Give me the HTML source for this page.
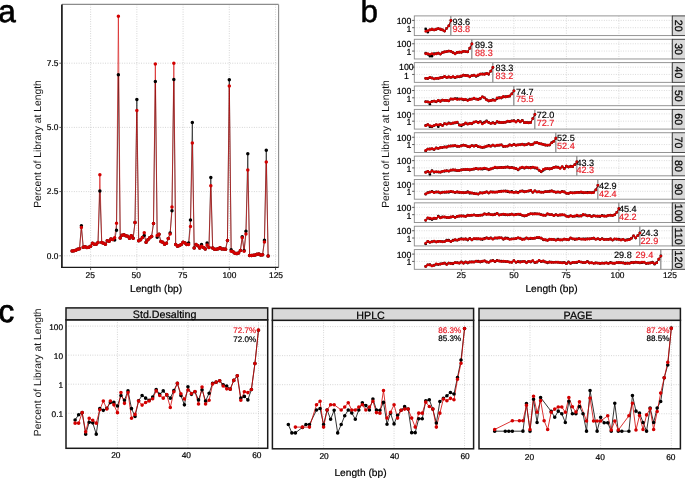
<!DOCTYPE html>
<html><head><meta charset="utf-8"><style>
html,body{margin:0;padding:0;background:#fff;width:685px;height:478px;overflow:hidden}
svg{display:block;font-family:"Liberation Sans", sans-serif;will-change:transform;text-rendering:geometricPrecision}
</style></head><body>
<svg width="685" height="478" viewBox="0 0 685 478">
<rect width="685" height="478" fill="#fff"/>
<line x1="90.62" y1="4.4" x2="90.62" y2="267.3" stroke="#bdbdbd" stroke-width="0.7" stroke-dasharray="0.9 1.5"/>
<line x1="136.85" y1="4.4" x2="136.85" y2="267.3" stroke="#bdbdbd" stroke-width="0.7" stroke-dasharray="0.9 1.5"/>
<line x1="183.08" y1="4.4" x2="183.08" y2="267.3" stroke="#bdbdbd" stroke-width="0.7" stroke-dasharray="0.9 1.5"/>
<line x1="229.3" y1="4.4" x2="229.3" y2="267.3" stroke="#bdbdbd" stroke-width="0.7" stroke-dasharray="0.9 1.5"/>
<line x1="275.52" y1="4.4" x2="275.52" y2="267.3" stroke="#bdbdbd" stroke-width="0.7" stroke-dasharray="0.9 1.5"/>
<line x1="61.9" y1="255.8" x2="278.6" y2="255.8" stroke="#bdbdbd" stroke-width="0.7" stroke-dasharray="0.9 1.5"/>
<line x1="61.9" y1="191.6" x2="278.6" y2="191.6" stroke="#bdbdbd" stroke-width="0.7" stroke-dasharray="0.9 1.5"/>
<line x1="61.9" y1="127.4" x2="278.6" y2="127.4" stroke="#bdbdbd" stroke-width="0.7" stroke-dasharray="0.9 1.5"/>
<line x1="61.9" y1="63.2" x2="278.6" y2="63.2" stroke="#bdbdbd" stroke-width="0.7" stroke-dasharray="0.9 1.5"/>
<line x1="61.9" y1="4.4" x2="278.6" y2="4.4" stroke="#8c8c8c" stroke-width="1.1"/>
<line x1="278.6" y1="4.4" x2="278.6" y2="267.3" stroke="#8c8c8c" stroke-width="1.1"/>
<polyline points="72.13,251.1 73.98,250.84 75.83,250.32 77.68,249.29 79.53,248.77 81.38,225.8 83.23,247.22 85.08,246.71 86.93,247.48 88.78,247.22 90.62,246.19 92.47,243.35 94.32,244.13 96.17,244.13 98.02,242.58 99.87,190.96 101.72,242.58 103.57,243.35 105.42,244.13 107.27,240.77 109.12,241.29 110.96,238.97 112.81,239.48 114.66,240 116.51,230.19 118.36,74.81 120.21,237.93 122.06,235.35 123.91,234.84 125.76,235.87 127.6,236.13 129.45,238.19 131.3,235.87 133.15,238.19 135,222.45 136.85,99.59 138.7,240.77 140.55,239.74 142.4,237.42 144.25,235.61 146.09,242.32 147.94,239.74 149.79,237.67 151.64,236.38 153.49,223.48 155.34,81.52 157.19,237.16 159.04,234.32 160.89,241.55 162.74,242.32 164.59,244.13 166.43,243.35 168.28,238.45 170.13,233.03 171.98,210.83 173.83,79.46 175.68,244.39 177.53,246.19 179.38,245.42 181.23,244.39 183.08,242.32 184.92,243.09 186.77,244.39 188.62,243.09 190.47,220.12 192.32,122.56 194.17,248 196.02,244.39 197.87,245.68 199.72,248 201.56,244.39 203.41,247.48 205.26,249.03 207.11,243.09 208.96,247.48 210.81,177.54 212.66,248 214.51,249.29 216.36,249.29 218.21,248.77 220.06,247.74 221.9,249.03 223.75,249.03 225.6,249.29 227.45,240.51 229.3,79.72 231.15,249.81 233,251.87 234.85,253.16 236.7,253.42 238.55,252.9 240.39,250.58 242.24,236.64 244.09,250.58 245.94,231.22 247.79,153.79 249.64,255.48 251.49,255.48 253.34,255.23 255.19,254.97 257.03,254.19 258.88,253.94 260.73,254.97 262.58,254.71 264.43,240.26 266.28,150.18 268.13,256" fill="none" stroke="#000000" stroke-width="0.6" stroke-linejoin="round"/>
<polyline points="72.13,251.1 73.98,250.84 75.83,250.32 77.68,249.29 79.53,248.77 81.38,227.61 83.23,247.22 85.08,246.71 86.93,247.48 88.78,247.22 90.62,246.19 92.47,243.35 94.32,244.13 96.17,244.13 98.02,242.58 99.87,174.7 101.72,242.58 103.57,243.35 105.42,244.13 107.27,240.77 109.12,241.29 110.96,238.97 112.81,239.48 114.66,237.67 116.51,223.22 118.36,16.23 120.21,237.93 122.06,235.35 123.91,234.84 125.76,235.87 127.6,236.13 129.45,238.19 131.3,235.87 133.15,238.19 135,222.45 136.85,110.43 138.7,240.77 140.55,239.74 142.4,237.42 144.25,232.77 146.09,242.32 147.94,239.74 149.79,237.67 151.64,236.38 153.49,223.48 155.34,63.97 157.19,235.61 159.04,234.32 160.89,241.55 162.74,242.32 164.59,244.13 166.43,243.35 168.28,238.45 170.13,234.06 171.98,206.96 173.83,63.2 175.68,244.39 177.53,246.19 179.38,245.42 181.23,244.39 183.08,242.32 184.92,243.09 186.77,244.39 188.62,244.39 190.47,226.58 192.32,142.95 194.17,248 196.02,244.39 197.87,245.68 199.72,248 201.56,246.19 203.41,247.48 205.26,249.03 207.11,244.9 208.96,247.48 210.81,185.8 212.66,248 214.51,249.29 216.36,249.29 218.21,248.77 220.06,247.74 221.9,249.03 223.75,249.03 225.6,249.29 227.45,240.51 229.3,85.91 231.15,251.35 233,251.87 234.85,253.16 236.7,253.42 238.55,252.9 240.39,250.58 242.24,237.67 244.09,251.35 245.94,234.06 247.79,170.05 249.64,255.48 251.49,255.48 253.34,255.23 255.19,254.97 257.03,254.19 258.88,253.94 260.73,254.97 262.58,254.71 264.43,242.06 266.28,162.05 268.13,256" fill="none" stroke="#d20000" stroke-width="0.6" stroke-linejoin="round"/>
<path d="M70.38 251.1a1.75 1.75 0 1 0 3.5 0a1.75 1.75 0 1 0 -3.5 0M72.23 250.84a1.75 1.75 0 1 0 3.5 0a1.75 1.75 0 1 0 -3.5 0M74.08 250.32a1.75 1.75 0 1 0 3.5 0a1.75 1.75 0 1 0 -3.5 0M75.93 249.29a1.75 1.75 0 1 0 3.5 0a1.75 1.75 0 1 0 -3.5 0M77.78 248.77a1.75 1.75 0 1 0 3.5 0a1.75 1.75 0 1 0 -3.5 0M79.63 225.8a1.75 1.75 0 1 0 3.5 0a1.75 1.75 0 1 0 -3.5 0M81.48 247.22a1.75 1.75 0 1 0 3.5 0a1.75 1.75 0 1 0 -3.5 0M83.33 246.71a1.75 1.75 0 1 0 3.5 0a1.75 1.75 0 1 0 -3.5 0M85.18 247.48a1.75 1.75 0 1 0 3.5 0a1.75 1.75 0 1 0 -3.5 0M87.03 247.22a1.75 1.75 0 1 0 3.5 0a1.75 1.75 0 1 0 -3.5 0M88.88 246.19a1.75 1.75 0 1 0 3.5 0a1.75 1.75 0 1 0 -3.5 0M90.72 243.35a1.75 1.75 0 1 0 3.5 0a1.75 1.75 0 1 0 -3.5 0M92.57 244.13a1.75 1.75 0 1 0 3.5 0a1.75 1.75 0 1 0 -3.5 0M94.42 244.13a1.75 1.75 0 1 0 3.5 0a1.75 1.75 0 1 0 -3.5 0M96.27 242.58a1.75 1.75 0 1 0 3.5 0a1.75 1.75 0 1 0 -3.5 0M98.12 190.96a1.75 1.75 0 1 0 3.5 0a1.75 1.75 0 1 0 -3.5 0M99.97 242.58a1.75 1.75 0 1 0 3.5 0a1.75 1.75 0 1 0 -3.5 0M101.82 243.35a1.75 1.75 0 1 0 3.5 0a1.75 1.75 0 1 0 -3.5 0M103.67 244.13a1.75 1.75 0 1 0 3.5 0a1.75 1.75 0 1 0 -3.5 0M105.52 240.77a1.75 1.75 0 1 0 3.5 0a1.75 1.75 0 1 0 -3.5 0M107.37 241.29a1.75 1.75 0 1 0 3.5 0a1.75 1.75 0 1 0 -3.5 0M109.21 238.97a1.75 1.75 0 1 0 3.5 0a1.75 1.75 0 1 0 -3.5 0M111.06 239.48a1.75 1.75 0 1 0 3.5 0a1.75 1.75 0 1 0 -3.5 0M112.91 240a1.75 1.75 0 1 0 3.5 0a1.75 1.75 0 1 0 -3.5 0M114.76 230.19a1.75 1.75 0 1 0 3.5 0a1.75 1.75 0 1 0 -3.5 0M116.61 74.81a1.75 1.75 0 1 0 3.5 0a1.75 1.75 0 1 0 -3.5 0M118.46 237.93a1.75 1.75 0 1 0 3.5 0a1.75 1.75 0 1 0 -3.5 0M120.31 235.35a1.75 1.75 0 1 0 3.5 0a1.75 1.75 0 1 0 -3.5 0M122.16 234.84a1.75 1.75 0 1 0 3.5 0a1.75 1.75 0 1 0 -3.5 0M124.01 235.87a1.75 1.75 0 1 0 3.5 0a1.75 1.75 0 1 0 -3.5 0M125.85 236.13a1.75 1.75 0 1 0 3.5 0a1.75 1.75 0 1 0 -3.5 0M127.7 238.19a1.75 1.75 0 1 0 3.5 0a1.75 1.75 0 1 0 -3.5 0M129.55 235.87a1.75 1.75 0 1 0 3.5 0a1.75 1.75 0 1 0 -3.5 0M131.4 238.19a1.75 1.75 0 1 0 3.5 0a1.75 1.75 0 1 0 -3.5 0M133.25 222.45a1.75 1.75 0 1 0 3.5 0a1.75 1.75 0 1 0 -3.5 0M135.1 99.59a1.75 1.75 0 1 0 3.5 0a1.75 1.75 0 1 0 -3.5 0M136.95 240.77a1.75 1.75 0 1 0 3.5 0a1.75 1.75 0 1 0 -3.5 0M138.8 239.74a1.75 1.75 0 1 0 3.5 0a1.75 1.75 0 1 0 -3.5 0M140.65 237.42a1.75 1.75 0 1 0 3.5 0a1.75 1.75 0 1 0 -3.5 0M142.5 235.61a1.75 1.75 0 1 0 3.5 0a1.75 1.75 0 1 0 -3.5 0M144.34 242.32a1.75 1.75 0 1 0 3.5 0a1.75 1.75 0 1 0 -3.5 0M146.19 239.74a1.75 1.75 0 1 0 3.5 0a1.75 1.75 0 1 0 -3.5 0M148.04 237.67a1.75 1.75 0 1 0 3.5 0a1.75 1.75 0 1 0 -3.5 0M149.89 236.38a1.75 1.75 0 1 0 3.5 0a1.75 1.75 0 1 0 -3.5 0M151.74 223.48a1.75 1.75 0 1 0 3.5 0a1.75 1.75 0 1 0 -3.5 0M153.59 81.52a1.75 1.75 0 1 0 3.5 0a1.75 1.75 0 1 0 -3.5 0M155.44 237.16a1.75 1.75 0 1 0 3.5 0a1.75 1.75 0 1 0 -3.5 0M157.29 234.32a1.75 1.75 0 1 0 3.5 0a1.75 1.75 0 1 0 -3.5 0M159.14 241.55a1.75 1.75 0 1 0 3.5 0a1.75 1.75 0 1 0 -3.5 0M160.99 242.32a1.75 1.75 0 1 0 3.5 0a1.75 1.75 0 1 0 -3.5 0M162.84 244.13a1.75 1.75 0 1 0 3.5 0a1.75 1.75 0 1 0 -3.5 0M164.68 243.35a1.75 1.75 0 1 0 3.5 0a1.75 1.75 0 1 0 -3.5 0M166.53 238.45a1.75 1.75 0 1 0 3.5 0a1.75 1.75 0 1 0 -3.5 0M168.38 233.03a1.75 1.75 0 1 0 3.5 0a1.75 1.75 0 1 0 -3.5 0M170.23 210.83a1.75 1.75 0 1 0 3.5 0a1.75 1.75 0 1 0 -3.5 0M172.08 79.46a1.75 1.75 0 1 0 3.5 0a1.75 1.75 0 1 0 -3.5 0M173.93 244.39a1.75 1.75 0 1 0 3.5 0a1.75 1.75 0 1 0 -3.5 0M175.78 246.19a1.75 1.75 0 1 0 3.5 0a1.75 1.75 0 1 0 -3.5 0M177.63 245.42a1.75 1.75 0 1 0 3.5 0a1.75 1.75 0 1 0 -3.5 0M179.48 244.39a1.75 1.75 0 1 0 3.5 0a1.75 1.75 0 1 0 -3.5 0M181.33 242.32a1.75 1.75 0 1 0 3.5 0a1.75 1.75 0 1 0 -3.5 0M183.17 243.09a1.75 1.75 0 1 0 3.5 0a1.75 1.75 0 1 0 -3.5 0M185.02 244.39a1.75 1.75 0 1 0 3.5 0a1.75 1.75 0 1 0 -3.5 0M186.87 243.09a1.75 1.75 0 1 0 3.5 0a1.75 1.75 0 1 0 -3.5 0M188.72 220.12a1.75 1.75 0 1 0 3.5 0a1.75 1.75 0 1 0 -3.5 0M190.57 122.56a1.75 1.75 0 1 0 3.5 0a1.75 1.75 0 1 0 -3.5 0M192.42 248a1.75 1.75 0 1 0 3.5 0a1.75 1.75 0 1 0 -3.5 0M194.27 244.39a1.75 1.75 0 1 0 3.5 0a1.75 1.75 0 1 0 -3.5 0M196.12 245.68a1.75 1.75 0 1 0 3.5 0a1.75 1.75 0 1 0 -3.5 0M197.97 248a1.75 1.75 0 1 0 3.5 0a1.75 1.75 0 1 0 -3.5 0M199.81 244.39a1.75 1.75 0 1 0 3.5 0a1.75 1.75 0 1 0 -3.5 0M201.66 247.48a1.75 1.75 0 1 0 3.5 0a1.75 1.75 0 1 0 -3.5 0M203.51 249.03a1.75 1.75 0 1 0 3.5 0a1.75 1.75 0 1 0 -3.5 0M205.36 243.09a1.75 1.75 0 1 0 3.5 0a1.75 1.75 0 1 0 -3.5 0M207.21 247.48a1.75 1.75 0 1 0 3.5 0a1.75 1.75 0 1 0 -3.5 0M209.06 177.54a1.75 1.75 0 1 0 3.5 0a1.75 1.75 0 1 0 -3.5 0M210.91 248a1.75 1.75 0 1 0 3.5 0a1.75 1.75 0 1 0 -3.5 0M212.76 249.29a1.75 1.75 0 1 0 3.5 0a1.75 1.75 0 1 0 -3.5 0M214.61 249.29a1.75 1.75 0 1 0 3.5 0a1.75 1.75 0 1 0 -3.5 0M216.46 248.77a1.75 1.75 0 1 0 3.5 0a1.75 1.75 0 1 0 -3.5 0M218.31 247.74a1.75 1.75 0 1 0 3.5 0a1.75 1.75 0 1 0 -3.5 0M220.15 249.03a1.75 1.75 0 1 0 3.5 0a1.75 1.75 0 1 0 -3.5 0M222 249.03a1.75 1.75 0 1 0 3.5 0a1.75 1.75 0 1 0 -3.5 0M223.85 249.29a1.75 1.75 0 1 0 3.5 0a1.75 1.75 0 1 0 -3.5 0M225.7 240.51a1.75 1.75 0 1 0 3.5 0a1.75 1.75 0 1 0 -3.5 0M227.55 79.72a1.75 1.75 0 1 0 3.5 0a1.75 1.75 0 1 0 -3.5 0M229.4 249.81a1.75 1.75 0 1 0 3.5 0a1.75 1.75 0 1 0 -3.5 0M231.25 251.87a1.75 1.75 0 1 0 3.5 0a1.75 1.75 0 1 0 -3.5 0M233.1 253.16a1.75 1.75 0 1 0 3.5 0a1.75 1.75 0 1 0 -3.5 0M234.95 253.42a1.75 1.75 0 1 0 3.5 0a1.75 1.75 0 1 0 -3.5 0M236.8 252.9a1.75 1.75 0 1 0 3.5 0a1.75 1.75 0 1 0 -3.5 0M238.64 250.58a1.75 1.75 0 1 0 3.5 0a1.75 1.75 0 1 0 -3.5 0M240.49 236.64a1.75 1.75 0 1 0 3.5 0a1.75 1.75 0 1 0 -3.5 0M242.34 250.58a1.75 1.75 0 1 0 3.5 0a1.75 1.75 0 1 0 -3.5 0M244.19 231.22a1.75 1.75 0 1 0 3.5 0a1.75 1.75 0 1 0 -3.5 0M246.04 153.79a1.75 1.75 0 1 0 3.5 0a1.75 1.75 0 1 0 -3.5 0M247.89 255.48a1.75 1.75 0 1 0 3.5 0a1.75 1.75 0 1 0 -3.5 0M249.74 255.48a1.75 1.75 0 1 0 3.5 0a1.75 1.75 0 1 0 -3.5 0M251.59 255.23a1.75 1.75 0 1 0 3.5 0a1.75 1.75 0 1 0 -3.5 0M253.44 254.97a1.75 1.75 0 1 0 3.5 0a1.75 1.75 0 1 0 -3.5 0M255.28 254.19a1.75 1.75 0 1 0 3.5 0a1.75 1.75 0 1 0 -3.5 0M257.13 253.94a1.75 1.75 0 1 0 3.5 0a1.75 1.75 0 1 0 -3.5 0M258.98 254.97a1.75 1.75 0 1 0 3.5 0a1.75 1.75 0 1 0 -3.5 0M260.83 254.71a1.75 1.75 0 1 0 3.5 0a1.75 1.75 0 1 0 -3.5 0M262.68 240.26a1.75 1.75 0 1 0 3.5 0a1.75 1.75 0 1 0 -3.5 0M264.53 150.18a1.75 1.75 0 1 0 3.5 0a1.75 1.75 0 1 0 -3.5 0M266.38 256a1.75 1.75 0 1 0 3.5 0a1.75 1.75 0 1 0 -3.5 0" fill="#000000"/>
<path d="M70.38 251.1a1.75 1.75 0 1 0 3.5 0a1.75 1.75 0 1 0 -3.5 0M72.23 250.84a1.75 1.75 0 1 0 3.5 0a1.75 1.75 0 1 0 -3.5 0M74.08 250.32a1.75 1.75 0 1 0 3.5 0a1.75 1.75 0 1 0 -3.5 0M75.93 249.29a1.75 1.75 0 1 0 3.5 0a1.75 1.75 0 1 0 -3.5 0M77.78 248.77a1.75 1.75 0 1 0 3.5 0a1.75 1.75 0 1 0 -3.5 0M79.63 227.61a1.75 1.75 0 1 0 3.5 0a1.75 1.75 0 1 0 -3.5 0M81.48 247.22a1.75 1.75 0 1 0 3.5 0a1.75 1.75 0 1 0 -3.5 0M83.33 246.71a1.75 1.75 0 1 0 3.5 0a1.75 1.75 0 1 0 -3.5 0M85.18 247.48a1.75 1.75 0 1 0 3.5 0a1.75 1.75 0 1 0 -3.5 0M87.03 247.22a1.75 1.75 0 1 0 3.5 0a1.75 1.75 0 1 0 -3.5 0M88.88 246.19a1.75 1.75 0 1 0 3.5 0a1.75 1.75 0 1 0 -3.5 0M90.72 243.35a1.75 1.75 0 1 0 3.5 0a1.75 1.75 0 1 0 -3.5 0M92.57 244.13a1.75 1.75 0 1 0 3.5 0a1.75 1.75 0 1 0 -3.5 0M94.42 244.13a1.75 1.75 0 1 0 3.5 0a1.75 1.75 0 1 0 -3.5 0M96.27 242.58a1.75 1.75 0 1 0 3.5 0a1.75 1.75 0 1 0 -3.5 0M98.12 174.7a1.75 1.75 0 1 0 3.5 0a1.75 1.75 0 1 0 -3.5 0M99.97 242.58a1.75 1.75 0 1 0 3.5 0a1.75 1.75 0 1 0 -3.5 0M101.82 243.35a1.75 1.75 0 1 0 3.5 0a1.75 1.75 0 1 0 -3.5 0M103.67 244.13a1.75 1.75 0 1 0 3.5 0a1.75 1.75 0 1 0 -3.5 0M105.52 240.77a1.75 1.75 0 1 0 3.5 0a1.75 1.75 0 1 0 -3.5 0M107.37 241.29a1.75 1.75 0 1 0 3.5 0a1.75 1.75 0 1 0 -3.5 0M109.21 238.97a1.75 1.75 0 1 0 3.5 0a1.75 1.75 0 1 0 -3.5 0M111.06 239.48a1.75 1.75 0 1 0 3.5 0a1.75 1.75 0 1 0 -3.5 0M112.91 237.67a1.75 1.75 0 1 0 3.5 0a1.75 1.75 0 1 0 -3.5 0M114.76 223.22a1.75 1.75 0 1 0 3.5 0a1.75 1.75 0 1 0 -3.5 0M116.61 16.23a1.75 1.75 0 1 0 3.5 0a1.75 1.75 0 1 0 -3.5 0M118.46 237.93a1.75 1.75 0 1 0 3.5 0a1.75 1.75 0 1 0 -3.5 0M120.31 235.35a1.75 1.75 0 1 0 3.5 0a1.75 1.75 0 1 0 -3.5 0M122.16 234.84a1.75 1.75 0 1 0 3.5 0a1.75 1.75 0 1 0 -3.5 0M124.01 235.87a1.75 1.75 0 1 0 3.5 0a1.75 1.75 0 1 0 -3.5 0M125.85 236.13a1.75 1.75 0 1 0 3.5 0a1.75 1.75 0 1 0 -3.5 0M127.7 238.19a1.75 1.75 0 1 0 3.5 0a1.75 1.75 0 1 0 -3.5 0M129.55 235.87a1.75 1.75 0 1 0 3.5 0a1.75 1.75 0 1 0 -3.5 0M131.4 238.19a1.75 1.75 0 1 0 3.5 0a1.75 1.75 0 1 0 -3.5 0M133.25 222.45a1.75 1.75 0 1 0 3.5 0a1.75 1.75 0 1 0 -3.5 0M135.1 110.43a1.75 1.75 0 1 0 3.5 0a1.75 1.75 0 1 0 -3.5 0M136.95 240.77a1.75 1.75 0 1 0 3.5 0a1.75 1.75 0 1 0 -3.5 0M138.8 239.74a1.75 1.75 0 1 0 3.5 0a1.75 1.75 0 1 0 -3.5 0M140.65 237.42a1.75 1.75 0 1 0 3.5 0a1.75 1.75 0 1 0 -3.5 0M142.5 232.77a1.75 1.75 0 1 0 3.5 0a1.75 1.75 0 1 0 -3.5 0M144.34 242.32a1.75 1.75 0 1 0 3.5 0a1.75 1.75 0 1 0 -3.5 0M146.19 239.74a1.75 1.75 0 1 0 3.5 0a1.75 1.75 0 1 0 -3.5 0M148.04 237.67a1.75 1.75 0 1 0 3.5 0a1.75 1.75 0 1 0 -3.5 0M149.89 236.38a1.75 1.75 0 1 0 3.5 0a1.75 1.75 0 1 0 -3.5 0M151.74 223.48a1.75 1.75 0 1 0 3.5 0a1.75 1.75 0 1 0 -3.5 0M153.59 63.97a1.75 1.75 0 1 0 3.5 0a1.75 1.75 0 1 0 -3.5 0M155.44 235.61a1.75 1.75 0 1 0 3.5 0a1.75 1.75 0 1 0 -3.5 0M157.29 234.32a1.75 1.75 0 1 0 3.5 0a1.75 1.75 0 1 0 -3.5 0M159.14 241.55a1.75 1.75 0 1 0 3.5 0a1.75 1.75 0 1 0 -3.5 0M160.99 242.32a1.75 1.75 0 1 0 3.5 0a1.75 1.75 0 1 0 -3.5 0M162.84 244.13a1.75 1.75 0 1 0 3.5 0a1.75 1.75 0 1 0 -3.5 0M164.68 243.35a1.75 1.75 0 1 0 3.5 0a1.75 1.75 0 1 0 -3.5 0M166.53 238.45a1.75 1.75 0 1 0 3.5 0a1.75 1.75 0 1 0 -3.5 0M168.38 234.06a1.75 1.75 0 1 0 3.5 0a1.75 1.75 0 1 0 -3.5 0M170.23 206.96a1.75 1.75 0 1 0 3.5 0a1.75 1.75 0 1 0 -3.5 0M172.08 63.2a1.75 1.75 0 1 0 3.5 0a1.75 1.75 0 1 0 -3.5 0M173.93 244.39a1.75 1.75 0 1 0 3.5 0a1.75 1.75 0 1 0 -3.5 0M175.78 246.19a1.75 1.75 0 1 0 3.5 0a1.75 1.75 0 1 0 -3.5 0M177.63 245.42a1.75 1.75 0 1 0 3.5 0a1.75 1.75 0 1 0 -3.5 0M179.48 244.39a1.75 1.75 0 1 0 3.5 0a1.75 1.75 0 1 0 -3.5 0M181.33 242.32a1.75 1.75 0 1 0 3.5 0a1.75 1.75 0 1 0 -3.5 0M183.17 243.09a1.75 1.75 0 1 0 3.5 0a1.75 1.75 0 1 0 -3.5 0M185.02 244.39a1.75 1.75 0 1 0 3.5 0a1.75 1.75 0 1 0 -3.5 0M186.87 244.39a1.75 1.75 0 1 0 3.5 0a1.75 1.75 0 1 0 -3.5 0M188.72 226.58a1.75 1.75 0 1 0 3.5 0a1.75 1.75 0 1 0 -3.5 0M190.57 142.95a1.75 1.75 0 1 0 3.5 0a1.75 1.75 0 1 0 -3.5 0M192.42 248a1.75 1.75 0 1 0 3.5 0a1.75 1.75 0 1 0 -3.5 0M194.27 244.39a1.75 1.75 0 1 0 3.5 0a1.75 1.75 0 1 0 -3.5 0M196.12 245.68a1.75 1.75 0 1 0 3.5 0a1.75 1.75 0 1 0 -3.5 0M197.97 248a1.75 1.75 0 1 0 3.5 0a1.75 1.75 0 1 0 -3.5 0M199.81 246.19a1.75 1.75 0 1 0 3.5 0a1.75 1.75 0 1 0 -3.5 0M201.66 247.48a1.75 1.75 0 1 0 3.5 0a1.75 1.75 0 1 0 -3.5 0M203.51 249.03a1.75 1.75 0 1 0 3.5 0a1.75 1.75 0 1 0 -3.5 0M205.36 244.9a1.75 1.75 0 1 0 3.5 0a1.75 1.75 0 1 0 -3.5 0M207.21 247.48a1.75 1.75 0 1 0 3.5 0a1.75 1.75 0 1 0 -3.5 0M209.06 185.8a1.75 1.75 0 1 0 3.5 0a1.75 1.75 0 1 0 -3.5 0M210.91 248a1.75 1.75 0 1 0 3.5 0a1.75 1.75 0 1 0 -3.5 0M212.76 249.29a1.75 1.75 0 1 0 3.5 0a1.75 1.75 0 1 0 -3.5 0M214.61 249.29a1.75 1.75 0 1 0 3.5 0a1.75 1.75 0 1 0 -3.5 0M216.46 248.77a1.75 1.75 0 1 0 3.5 0a1.75 1.75 0 1 0 -3.5 0M218.31 247.74a1.75 1.75 0 1 0 3.5 0a1.75 1.75 0 1 0 -3.5 0M220.15 249.03a1.75 1.75 0 1 0 3.5 0a1.75 1.75 0 1 0 -3.5 0M222 249.03a1.75 1.75 0 1 0 3.5 0a1.75 1.75 0 1 0 -3.5 0M223.85 249.29a1.75 1.75 0 1 0 3.5 0a1.75 1.75 0 1 0 -3.5 0M225.7 240.51a1.75 1.75 0 1 0 3.5 0a1.75 1.75 0 1 0 -3.5 0M227.55 85.91a1.75 1.75 0 1 0 3.5 0a1.75 1.75 0 1 0 -3.5 0M229.4 251.35a1.75 1.75 0 1 0 3.5 0a1.75 1.75 0 1 0 -3.5 0M231.25 251.87a1.75 1.75 0 1 0 3.5 0a1.75 1.75 0 1 0 -3.5 0M233.1 253.16a1.75 1.75 0 1 0 3.5 0a1.75 1.75 0 1 0 -3.5 0M234.95 253.42a1.75 1.75 0 1 0 3.5 0a1.75 1.75 0 1 0 -3.5 0M236.8 252.9a1.75 1.75 0 1 0 3.5 0a1.75 1.75 0 1 0 -3.5 0M238.64 250.58a1.75 1.75 0 1 0 3.5 0a1.75 1.75 0 1 0 -3.5 0M240.49 237.67a1.75 1.75 0 1 0 3.5 0a1.75 1.75 0 1 0 -3.5 0M242.34 251.35a1.75 1.75 0 1 0 3.5 0a1.75 1.75 0 1 0 -3.5 0M244.19 234.06a1.75 1.75 0 1 0 3.5 0a1.75 1.75 0 1 0 -3.5 0M246.04 170.05a1.75 1.75 0 1 0 3.5 0a1.75 1.75 0 1 0 -3.5 0M247.89 255.48a1.75 1.75 0 1 0 3.5 0a1.75 1.75 0 1 0 -3.5 0M249.74 255.48a1.75 1.75 0 1 0 3.5 0a1.75 1.75 0 1 0 -3.5 0M251.59 255.23a1.75 1.75 0 1 0 3.5 0a1.75 1.75 0 1 0 -3.5 0M253.44 254.97a1.75 1.75 0 1 0 3.5 0a1.75 1.75 0 1 0 -3.5 0M255.28 254.19a1.75 1.75 0 1 0 3.5 0a1.75 1.75 0 1 0 -3.5 0M257.13 253.94a1.75 1.75 0 1 0 3.5 0a1.75 1.75 0 1 0 -3.5 0M258.98 254.97a1.75 1.75 0 1 0 3.5 0a1.75 1.75 0 1 0 -3.5 0M260.83 254.71a1.75 1.75 0 1 0 3.5 0a1.75 1.75 0 1 0 -3.5 0M262.68 242.06a1.75 1.75 0 1 0 3.5 0a1.75 1.75 0 1 0 -3.5 0M264.53 162.05a1.75 1.75 0 1 0 3.5 0a1.75 1.75 0 1 0 -3.5 0M266.38 256a1.75 1.75 0 1 0 3.5 0a1.75 1.75 0 1 0 -3.5 0" fill="#d20000"/>
<line x1="61.9" y1="4.4" x2="61.9" y2="268" stroke="#1a1a1a" stroke-width="1.7"/>
<line x1="61.1" y1="267.3" x2="278.6" y2="267.3" stroke="#1a1a1a" stroke-width="1.3"/>
<line x1="59.3" y1="255.8" x2="61.9" y2="255.8" stroke="#333" stroke-width="0.8"/>
<text x="58.4" y="258.6" font-size="8.4" text-anchor="end" fill="#000" stroke="#000" stroke-width="0.2">0.0</text>
<line x1="59.3" y1="191.6" x2="61.9" y2="191.6" stroke="#333" stroke-width="0.8"/>
<text x="58.4" y="194.4" font-size="8.4" text-anchor="end" fill="#000" stroke="#000" stroke-width="0.2">2.5</text>
<line x1="59.3" y1="127.4" x2="61.9" y2="127.4" stroke="#333" stroke-width="0.8"/>
<text x="58.4" y="130.2" font-size="8.4" text-anchor="end" fill="#000" stroke="#000" stroke-width="0.2">5.0</text>
<line x1="59.3" y1="63.2" x2="61.9" y2="63.2" stroke="#333" stroke-width="0.8"/>
<text x="58.4" y="66" font-size="8.4" text-anchor="end" fill="#000" stroke="#000" stroke-width="0.2">7.5</text>
<line x1="90.62" y1="267.3" x2="90.62" y2="270.1" stroke="#333" stroke-width="0.8"/>
<text x="90.22" y="278.3" font-size="8.4" text-anchor="middle" fill="#000" stroke="#000" stroke-width="0.2">25</text>
<line x1="136.85" y1="267.3" x2="136.85" y2="270.1" stroke="#333" stroke-width="0.8"/>
<text x="136.25" y="278.3" font-size="8.4" text-anchor="middle" fill="#000" stroke="#000" stroke-width="0.2">50</text>
<line x1="183.08" y1="267.3" x2="183.08" y2="270.1" stroke="#333" stroke-width="0.8"/>
<text x="182.78" y="278.3" font-size="8.4" text-anchor="middle" fill="#000" stroke="#000" stroke-width="0.2">75</text>
<line x1="229.3" y1="267.3" x2="229.3" y2="270.1" stroke="#333" stroke-width="0.8"/>
<text x="229.4" y="278.3" font-size="8.4" text-anchor="middle" fill="#000" stroke="#000" stroke-width="0.2">100</text>
<line x1="275.52" y1="267.3" x2="275.52" y2="270.1" stroke="#333" stroke-width="0.8"/>
<text x="276.02" y="278.3" font-size="8.4" text-anchor="middle" fill="#000" stroke="#000" stroke-width="0.2">125</text>
<text x="156.1" y="291.8" font-size="10.2" text-anchor="middle" fill="#000" stroke="#000" stroke-width="0.2">Length (bp)</text>
<text transform="translate(40.9 144.0) rotate(-90)" font-size="10.35" text-anchor="middle" fill="#111">Percent of Library at Length</text>
<line x1="414.3" y1="20.4" x2="672.3" y2="20.4" stroke="#bdbdbd" stroke-width="0.6" stroke-dasharray="0.9 1.5"/>
<line x1="414.3" y1="27.7" x2="672.3" y2="27.7" stroke="#bdbdbd" stroke-width="0.6" stroke-dasharray="0.9 1.5"/>
<line x1="461.4" y1="15.9" x2="461.4" y2="35.6" stroke="#bdbdbd" stroke-width="0.6" stroke-dasharray="0.9 1.5"/>
<line x1="513.9" y1="15.9" x2="513.9" y2="35.6" stroke="#bdbdbd" stroke-width="0.6" stroke-dasharray="0.9 1.5"/>
<line x1="566.4" y1="15.9" x2="566.4" y2="35.6" stroke="#bdbdbd" stroke-width="0.6" stroke-dasharray="0.9 1.5"/>
<line x1="618.9" y1="15.9" x2="618.9" y2="35.6" stroke="#bdbdbd" stroke-width="0.6" stroke-dasharray="0.9 1.5"/>
<line x1="450.8" y1="15.9" x2="450.8" y2="35.6" stroke="#8f8f8f" stroke-width="1.3"/>
<polyline points="425.7,28.9 427.8,32.19 429.9,29.89 432,29.27 434.1,29.89 436.2,29.27 438.3,28.54 440.4,29.27 442.5,29.89 444.6,31.09 446.7,28.32 448.8,25.88 450.9,20.5" fill="none" stroke="#000000" stroke-width="0.9" stroke-linejoin="round"/>
<polyline points="425.7,31.35 427.8,30.73 429.9,29.89 432,29.27 434.1,29.89 436.2,29.27 438.3,28.54 440.4,29.27 442.5,29.89 444.6,31.09 446.7,28.32 448.8,25.88 450.9,20.5" fill="none" stroke="#d20000" stroke-width="0.9" stroke-linejoin="round"/>
<path d="M424.3 28.9a1.4 1.4 0 1 0 2.8 0a1.4 1.4 0 1 0 -2.8 0M426.4 32.19a1.4 1.4 0 1 0 2.8 0a1.4 1.4 0 1 0 -2.8 0M428.5 29.89a1.4 1.4 0 1 0 2.8 0a1.4 1.4 0 1 0 -2.8 0M430.6 29.27a1.4 1.4 0 1 0 2.8 0a1.4 1.4 0 1 0 -2.8 0M432.7 29.89a1.4 1.4 0 1 0 2.8 0a1.4 1.4 0 1 0 -2.8 0M434.8 29.27a1.4 1.4 0 1 0 2.8 0a1.4 1.4 0 1 0 -2.8 0M436.9 28.54a1.4 1.4 0 1 0 2.8 0a1.4 1.4 0 1 0 -2.8 0M439 29.27a1.4 1.4 0 1 0 2.8 0a1.4 1.4 0 1 0 -2.8 0M441.1 29.89a1.4 1.4 0 1 0 2.8 0a1.4 1.4 0 1 0 -2.8 0M443.2 31.09a1.4 1.4 0 1 0 2.8 0a1.4 1.4 0 1 0 -2.8 0M445.3 28.32a1.4 1.4 0 1 0 2.8 0a1.4 1.4 0 1 0 -2.8 0M447.4 25.88a1.4 1.4 0 1 0 2.8 0a1.4 1.4 0 1 0 -2.8 0M449.5 20.5a1.4 1.4 0 1 0 2.8 0a1.4 1.4 0 1 0 -2.8 0" fill="#000000"/>
<path d="M424.3 31.35a1.4 1.4 0 1 0 2.8 0a1.4 1.4 0 1 0 -2.8 0M426.4 30.73a1.4 1.4 0 1 0 2.8 0a1.4 1.4 0 1 0 -2.8 0M428.5 29.89a1.4 1.4 0 1 0 2.8 0a1.4 1.4 0 1 0 -2.8 0M430.6 29.27a1.4 1.4 0 1 0 2.8 0a1.4 1.4 0 1 0 -2.8 0M432.7 29.89a1.4 1.4 0 1 0 2.8 0a1.4 1.4 0 1 0 -2.8 0M434.8 29.27a1.4 1.4 0 1 0 2.8 0a1.4 1.4 0 1 0 -2.8 0M436.9 28.54a1.4 1.4 0 1 0 2.8 0a1.4 1.4 0 1 0 -2.8 0M439 29.27a1.4 1.4 0 1 0 2.8 0a1.4 1.4 0 1 0 -2.8 0M441.1 29.89a1.4 1.4 0 1 0 2.8 0a1.4 1.4 0 1 0 -2.8 0M443.2 31.09a1.4 1.4 0 1 0 2.8 0a1.4 1.4 0 1 0 -2.8 0M445.3 28.32a1.4 1.4 0 1 0 2.8 0a1.4 1.4 0 1 0 -2.8 0M447.4 25.88a1.4 1.4 0 1 0 2.8 0a1.4 1.4 0 1 0 -2.8 0M449.5 20.5a1.4 1.4 0 1 0 2.8 0a1.4 1.4 0 1 0 -2.8 0" fill="#d20000"/>
<text x="452.4" y="24.5" font-size="9.1" text-anchor="start" fill="#000" stroke="#000" stroke-width="0.18">93.6</text>
<text x="452.4" y="32" font-size="9.1" text-anchor="start" fill="#e8202a" stroke="#e8202a" stroke-width="0.18">93.8</text>
<rect x="414.3" y="15.9" width="258" height="19.7" fill="none" stroke="#8a8a8a" stroke-width="0.9"/>
<rect x="672.3" y="15.9" width="13.7" height="19.7" fill="#d9d9d9" stroke="#333" stroke-width="0.9"/>
<text transform="translate(674.9 25.75) rotate(90)" font-size="10.6" text-anchor="middle" fill="#000" stroke="#000" stroke-width="0.25">20</text>
<line x1="412.1" y1="20.4" x2="414.3" y2="20.4" stroke="#333" stroke-width="0.8"/>
<text x="411.4" y="24.1" font-size="8.8" text-anchor="end" fill="#000" stroke="#000" stroke-width="0.2">100</text>
<line x1="412.1" y1="27.7" x2="414.3" y2="27.7" stroke="#333" stroke-width="0.8"/>
<text x="411.4" y="31.6" font-size="8.8" text-anchor="end" fill="#000" stroke="#000" stroke-width="0.2">1</text>
<line x1="414.3" y1="43.77" x2="672.3" y2="43.77" stroke="#bdbdbd" stroke-width="0.6" stroke-dasharray="0.9 1.5"/>
<line x1="414.3" y1="51.07" x2="672.3" y2="51.07" stroke="#bdbdbd" stroke-width="0.6" stroke-dasharray="0.9 1.5"/>
<line x1="461.4" y1="39.27" x2="461.4" y2="58.97" stroke="#bdbdbd" stroke-width="0.6" stroke-dasharray="0.9 1.5"/>
<line x1="513.9" y1="39.27" x2="513.9" y2="58.97" stroke="#bdbdbd" stroke-width="0.6" stroke-dasharray="0.9 1.5"/>
<line x1="566.4" y1="39.27" x2="566.4" y2="58.97" stroke="#bdbdbd" stroke-width="0.6" stroke-dasharray="0.9 1.5"/>
<line x1="618.9" y1="39.27" x2="618.9" y2="58.97" stroke="#bdbdbd" stroke-width="0.6" stroke-dasharray="0.9 1.5"/>
<line x1="471.8" y1="39.27" x2="471.8" y2="58.97" stroke="#8f8f8f" stroke-width="1.3"/>
<polyline points="425.7,53.15 427.8,54.36 429.9,56.18 432,56.18 434.1,53.73 436.2,53.73 438.3,53.15 440.4,54.1 442.5,52.53 444.6,51.91 446.7,51.54 448.8,51.07 450.9,51.33 453,52.53 455.1,53.73 457.2,52.53 459.3,52.27 461.4,52.27 463.5,51.33 465.6,51.54 467.7,51.8 469.8,48.26 471.9,43.95" fill="none" stroke="#000000" stroke-width="0.9" stroke-linejoin="round"/>
<polyline points="425.7,53.73 427.8,53.73 429.9,54.36 432,53.73 434.1,54.36 436.2,53.73 438.3,53.15 440.4,54.1 442.5,52.53 444.6,51.91 446.7,51.54 448.8,51.07 450.9,51.33 453,52.53 455.1,53.73 457.2,52.53 459.3,52.27 461.4,52.27 463.5,51.33 465.6,51.54 467.7,51.8 469.8,48.26 471.9,43.97" fill="none" stroke="#d20000" stroke-width="0.9" stroke-linejoin="round"/>
<path d="M424.3 53.15a1.4 1.4 0 1 0 2.8 0a1.4 1.4 0 1 0 -2.8 0M426.4 54.36a1.4 1.4 0 1 0 2.8 0a1.4 1.4 0 1 0 -2.8 0M428.5 56.18a1.4 1.4 0 1 0 2.8 0a1.4 1.4 0 1 0 -2.8 0M430.6 56.18a1.4 1.4 0 1 0 2.8 0a1.4 1.4 0 1 0 -2.8 0M432.7 53.73a1.4 1.4 0 1 0 2.8 0a1.4 1.4 0 1 0 -2.8 0M434.8 53.73a1.4 1.4 0 1 0 2.8 0a1.4 1.4 0 1 0 -2.8 0M436.9 53.15a1.4 1.4 0 1 0 2.8 0a1.4 1.4 0 1 0 -2.8 0M439 54.1a1.4 1.4 0 1 0 2.8 0a1.4 1.4 0 1 0 -2.8 0M441.1 52.53a1.4 1.4 0 1 0 2.8 0a1.4 1.4 0 1 0 -2.8 0M443.2 51.91a1.4 1.4 0 1 0 2.8 0a1.4 1.4 0 1 0 -2.8 0M445.3 51.54a1.4 1.4 0 1 0 2.8 0a1.4 1.4 0 1 0 -2.8 0M447.4 51.07a1.4 1.4 0 1 0 2.8 0a1.4 1.4 0 1 0 -2.8 0M449.5 51.33a1.4 1.4 0 1 0 2.8 0a1.4 1.4 0 1 0 -2.8 0M451.6 52.53a1.4 1.4 0 1 0 2.8 0a1.4 1.4 0 1 0 -2.8 0M453.7 53.73a1.4 1.4 0 1 0 2.8 0a1.4 1.4 0 1 0 -2.8 0M455.8 52.53a1.4 1.4 0 1 0 2.8 0a1.4 1.4 0 1 0 -2.8 0M457.9 52.27a1.4 1.4 0 1 0 2.8 0a1.4 1.4 0 1 0 -2.8 0M460 52.27a1.4 1.4 0 1 0 2.8 0a1.4 1.4 0 1 0 -2.8 0M462.1 51.33a1.4 1.4 0 1 0 2.8 0a1.4 1.4 0 1 0 -2.8 0M464.2 51.54a1.4 1.4 0 1 0 2.8 0a1.4 1.4 0 1 0 -2.8 0M466.3 51.8a1.4 1.4 0 1 0 2.8 0a1.4 1.4 0 1 0 -2.8 0M468.4 48.26a1.4 1.4 0 1 0 2.8 0a1.4 1.4 0 1 0 -2.8 0M470.5 43.95a1.4 1.4 0 1 0 2.8 0a1.4 1.4 0 1 0 -2.8 0" fill="#000000"/>
<path d="M424.3 53.73a1.4 1.4 0 1 0 2.8 0a1.4 1.4 0 1 0 -2.8 0M426.4 53.73a1.4 1.4 0 1 0 2.8 0a1.4 1.4 0 1 0 -2.8 0M428.5 54.36a1.4 1.4 0 1 0 2.8 0a1.4 1.4 0 1 0 -2.8 0M430.6 53.73a1.4 1.4 0 1 0 2.8 0a1.4 1.4 0 1 0 -2.8 0M432.7 54.36a1.4 1.4 0 1 0 2.8 0a1.4 1.4 0 1 0 -2.8 0M434.8 53.73a1.4 1.4 0 1 0 2.8 0a1.4 1.4 0 1 0 -2.8 0M436.9 53.15a1.4 1.4 0 1 0 2.8 0a1.4 1.4 0 1 0 -2.8 0M439 54.1a1.4 1.4 0 1 0 2.8 0a1.4 1.4 0 1 0 -2.8 0M441.1 52.53a1.4 1.4 0 1 0 2.8 0a1.4 1.4 0 1 0 -2.8 0M443.2 51.91a1.4 1.4 0 1 0 2.8 0a1.4 1.4 0 1 0 -2.8 0M445.3 51.54a1.4 1.4 0 1 0 2.8 0a1.4 1.4 0 1 0 -2.8 0M447.4 51.07a1.4 1.4 0 1 0 2.8 0a1.4 1.4 0 1 0 -2.8 0M449.5 51.33a1.4 1.4 0 1 0 2.8 0a1.4 1.4 0 1 0 -2.8 0M451.6 52.53a1.4 1.4 0 1 0 2.8 0a1.4 1.4 0 1 0 -2.8 0M453.7 53.73a1.4 1.4 0 1 0 2.8 0a1.4 1.4 0 1 0 -2.8 0M455.8 52.53a1.4 1.4 0 1 0 2.8 0a1.4 1.4 0 1 0 -2.8 0M457.9 52.27a1.4 1.4 0 1 0 2.8 0a1.4 1.4 0 1 0 -2.8 0M460 52.27a1.4 1.4 0 1 0 2.8 0a1.4 1.4 0 1 0 -2.8 0M462.1 51.33a1.4 1.4 0 1 0 2.8 0a1.4 1.4 0 1 0 -2.8 0M464.2 51.54a1.4 1.4 0 1 0 2.8 0a1.4 1.4 0 1 0 -2.8 0M466.3 51.8a1.4 1.4 0 1 0 2.8 0a1.4 1.4 0 1 0 -2.8 0M468.4 48.26a1.4 1.4 0 1 0 2.8 0a1.4 1.4 0 1 0 -2.8 0M470.5 43.97a1.4 1.4 0 1 0 2.8 0a1.4 1.4 0 1 0 -2.8 0" fill="#d20000"/>
<text x="475" y="48.02" font-size="9.1" text-anchor="start" fill="#000" stroke="#000" stroke-width="0.18">89.3</text>
<text x="475" y="55.62" font-size="9.1" text-anchor="start" fill="#e8202a" stroke="#e8202a" stroke-width="0.18">88.3</text>
<rect x="414.3" y="39.27" width="258" height="19.7" fill="none" stroke="#8a8a8a" stroke-width="0.9"/>
<rect x="672.3" y="39.27" width="13.7" height="19.7" fill="#d9d9d9" stroke="#333" stroke-width="0.9"/>
<text transform="translate(674.9 49.12) rotate(90)" font-size="10.6" text-anchor="middle" fill="#000" stroke="#000" stroke-width="0.25">30</text>
<line x1="412.1" y1="43.77" x2="414.3" y2="43.77" stroke="#333" stroke-width="0.8"/>
<text x="411.4" y="47.47" font-size="8.8" text-anchor="end" fill="#000" stroke="#000" stroke-width="0.2">100</text>
<line x1="412.1" y1="51.07" x2="414.3" y2="51.07" stroke="#333" stroke-width="0.8"/>
<text x="411.4" y="54.97" font-size="8.8" text-anchor="end" fill="#000" stroke="#000" stroke-width="0.2">1</text>
<line x1="414.3" y1="67.14" x2="672.3" y2="67.14" stroke="#bdbdbd" stroke-width="0.6" stroke-dasharray="0.9 1.5"/>
<line x1="414.3" y1="74.44" x2="672.3" y2="74.44" stroke="#bdbdbd" stroke-width="0.6" stroke-dasharray="0.9 1.5"/>
<line x1="461.4" y1="62.64" x2="461.4" y2="82.34" stroke="#bdbdbd" stroke-width="0.6" stroke-dasharray="0.9 1.5"/>
<line x1="513.9" y1="62.64" x2="513.9" y2="82.34" stroke="#bdbdbd" stroke-width="0.6" stroke-dasharray="0.9 1.5"/>
<line x1="566.4" y1="62.64" x2="566.4" y2="82.34" stroke="#bdbdbd" stroke-width="0.6" stroke-dasharray="0.9 1.5"/>
<line x1="618.9" y1="62.64" x2="618.9" y2="82.34" stroke="#bdbdbd" stroke-width="0.6" stroke-dasharray="0.9 1.5"/>
<line x1="492.8" y1="62.64" x2="492.8" y2="82.34" stroke="#8f8f8f" stroke-width="1.3"/>
<polyline points="425.7,78.32 427.8,78.5 429.9,77.57 432,78.01 434.1,78.78 436.2,78.31 438.3,78.42 440.4,77.68 442.5,77.35 444.6,76.56 446.7,77.55 448.8,76.91 450.9,77.38 453,76.96 455.1,77.68 457.2,76.94 459.3,76.81 461.4,76.44 463.5,75.22 465.6,75.4 467.7,75.73 469.8,76.84 471.9,75.69 474,75.16 476.1,76.43 478.2,75.39 480.3,74.17 482.4,74.01 484.5,73.99 486.6,73.43 488.7,74.25 490.8,71.16 492.9,67.43" fill="none" stroke="#000000" stroke-width="0.9" stroke-linejoin="round"/>
<polyline points="425.7,78.45 427.8,78.36 429.9,77.45 432,78.04 434.1,78.84 436.2,78.32 438.3,78.28 440.4,77.9 442.5,77.54 444.6,76.45 446.7,77.48 448.8,76.98 450.9,77.3 453,76.77 455.1,77.4 457.2,76.63 459.3,76.57 461.4,76.02 463.5,75.13 465.6,75.66 467.7,75.7 469.8,76.76 471.9,75.59 474,75.32 476.1,75.9 478.2,75.01 480.3,74.16 482.4,74.18 484.5,74.38 486.6,73.51 488.7,73.98 490.8,71.16 492.9,67.43" fill="none" stroke="#d20000" stroke-width="0.9" stroke-linejoin="round"/>
<path d="M424.3 78.32a1.4 1.4 0 1 0 2.8 0a1.4 1.4 0 1 0 -2.8 0M426.4 78.5a1.4 1.4 0 1 0 2.8 0a1.4 1.4 0 1 0 -2.8 0M428.5 77.57a1.4 1.4 0 1 0 2.8 0a1.4 1.4 0 1 0 -2.8 0M430.6 78.01a1.4 1.4 0 1 0 2.8 0a1.4 1.4 0 1 0 -2.8 0M432.7 78.78a1.4 1.4 0 1 0 2.8 0a1.4 1.4 0 1 0 -2.8 0M434.8 78.31a1.4 1.4 0 1 0 2.8 0a1.4 1.4 0 1 0 -2.8 0M436.9 78.42a1.4 1.4 0 1 0 2.8 0a1.4 1.4 0 1 0 -2.8 0M439 77.68a1.4 1.4 0 1 0 2.8 0a1.4 1.4 0 1 0 -2.8 0M441.1 77.35a1.4 1.4 0 1 0 2.8 0a1.4 1.4 0 1 0 -2.8 0M443.2 76.56a1.4 1.4 0 1 0 2.8 0a1.4 1.4 0 1 0 -2.8 0M445.3 77.55a1.4 1.4 0 1 0 2.8 0a1.4 1.4 0 1 0 -2.8 0M447.4 76.91a1.4 1.4 0 1 0 2.8 0a1.4 1.4 0 1 0 -2.8 0M449.5 77.38a1.4 1.4 0 1 0 2.8 0a1.4 1.4 0 1 0 -2.8 0M451.6 76.96a1.4 1.4 0 1 0 2.8 0a1.4 1.4 0 1 0 -2.8 0M453.7 77.68a1.4 1.4 0 1 0 2.8 0a1.4 1.4 0 1 0 -2.8 0M455.8 76.94a1.4 1.4 0 1 0 2.8 0a1.4 1.4 0 1 0 -2.8 0M457.9 76.81a1.4 1.4 0 1 0 2.8 0a1.4 1.4 0 1 0 -2.8 0M460 76.44a1.4 1.4 0 1 0 2.8 0a1.4 1.4 0 1 0 -2.8 0M462.1 75.22a1.4 1.4 0 1 0 2.8 0a1.4 1.4 0 1 0 -2.8 0M464.2 75.4a1.4 1.4 0 1 0 2.8 0a1.4 1.4 0 1 0 -2.8 0M466.3 75.73a1.4 1.4 0 1 0 2.8 0a1.4 1.4 0 1 0 -2.8 0M468.4 76.84a1.4 1.4 0 1 0 2.8 0a1.4 1.4 0 1 0 -2.8 0M470.5 75.69a1.4 1.4 0 1 0 2.8 0a1.4 1.4 0 1 0 -2.8 0M472.6 75.16a1.4 1.4 0 1 0 2.8 0a1.4 1.4 0 1 0 -2.8 0M474.7 76.43a1.4 1.4 0 1 0 2.8 0a1.4 1.4 0 1 0 -2.8 0M476.8 75.39a1.4 1.4 0 1 0 2.8 0a1.4 1.4 0 1 0 -2.8 0M478.9 74.17a1.4 1.4 0 1 0 2.8 0a1.4 1.4 0 1 0 -2.8 0M481 74.01a1.4 1.4 0 1 0 2.8 0a1.4 1.4 0 1 0 -2.8 0M483.1 73.99a1.4 1.4 0 1 0 2.8 0a1.4 1.4 0 1 0 -2.8 0M485.2 73.43a1.4 1.4 0 1 0 2.8 0a1.4 1.4 0 1 0 -2.8 0M487.3 74.25a1.4 1.4 0 1 0 2.8 0a1.4 1.4 0 1 0 -2.8 0M489.4 71.16a1.4 1.4 0 1 0 2.8 0a1.4 1.4 0 1 0 -2.8 0M491.5 67.43a1.4 1.4 0 1 0 2.8 0a1.4 1.4 0 1 0 -2.8 0" fill="#000000"/>
<path d="M424.3 78.45a1.4 1.4 0 1 0 2.8 0a1.4 1.4 0 1 0 -2.8 0M426.4 78.36a1.4 1.4 0 1 0 2.8 0a1.4 1.4 0 1 0 -2.8 0M428.5 77.45a1.4 1.4 0 1 0 2.8 0a1.4 1.4 0 1 0 -2.8 0M430.6 78.04a1.4 1.4 0 1 0 2.8 0a1.4 1.4 0 1 0 -2.8 0M432.7 78.84a1.4 1.4 0 1 0 2.8 0a1.4 1.4 0 1 0 -2.8 0M434.8 78.32a1.4 1.4 0 1 0 2.8 0a1.4 1.4 0 1 0 -2.8 0M436.9 78.28a1.4 1.4 0 1 0 2.8 0a1.4 1.4 0 1 0 -2.8 0M439 77.9a1.4 1.4 0 1 0 2.8 0a1.4 1.4 0 1 0 -2.8 0M441.1 77.54a1.4 1.4 0 1 0 2.8 0a1.4 1.4 0 1 0 -2.8 0M443.2 76.45a1.4 1.4 0 1 0 2.8 0a1.4 1.4 0 1 0 -2.8 0M445.3 77.48a1.4 1.4 0 1 0 2.8 0a1.4 1.4 0 1 0 -2.8 0M447.4 76.98a1.4 1.4 0 1 0 2.8 0a1.4 1.4 0 1 0 -2.8 0M449.5 77.3a1.4 1.4 0 1 0 2.8 0a1.4 1.4 0 1 0 -2.8 0M451.6 76.77a1.4 1.4 0 1 0 2.8 0a1.4 1.4 0 1 0 -2.8 0M453.7 77.4a1.4 1.4 0 1 0 2.8 0a1.4 1.4 0 1 0 -2.8 0M455.8 76.63a1.4 1.4 0 1 0 2.8 0a1.4 1.4 0 1 0 -2.8 0M457.9 76.57a1.4 1.4 0 1 0 2.8 0a1.4 1.4 0 1 0 -2.8 0M460 76.02a1.4 1.4 0 1 0 2.8 0a1.4 1.4 0 1 0 -2.8 0M462.1 75.13a1.4 1.4 0 1 0 2.8 0a1.4 1.4 0 1 0 -2.8 0M464.2 75.66a1.4 1.4 0 1 0 2.8 0a1.4 1.4 0 1 0 -2.8 0M466.3 75.7a1.4 1.4 0 1 0 2.8 0a1.4 1.4 0 1 0 -2.8 0M468.4 76.76a1.4 1.4 0 1 0 2.8 0a1.4 1.4 0 1 0 -2.8 0M470.5 75.59a1.4 1.4 0 1 0 2.8 0a1.4 1.4 0 1 0 -2.8 0M472.6 75.32a1.4 1.4 0 1 0 2.8 0a1.4 1.4 0 1 0 -2.8 0M474.7 75.9a1.4 1.4 0 1 0 2.8 0a1.4 1.4 0 1 0 -2.8 0M476.8 75.01a1.4 1.4 0 1 0 2.8 0a1.4 1.4 0 1 0 -2.8 0M478.9 74.16a1.4 1.4 0 1 0 2.8 0a1.4 1.4 0 1 0 -2.8 0M481 74.18a1.4 1.4 0 1 0 2.8 0a1.4 1.4 0 1 0 -2.8 0M483.1 74.38a1.4 1.4 0 1 0 2.8 0a1.4 1.4 0 1 0 -2.8 0M485.2 73.51a1.4 1.4 0 1 0 2.8 0a1.4 1.4 0 1 0 -2.8 0M487.3 73.98a1.4 1.4 0 1 0 2.8 0a1.4 1.4 0 1 0 -2.8 0M489.4 71.16a1.4 1.4 0 1 0 2.8 0a1.4 1.4 0 1 0 -2.8 0M491.5 67.43a1.4 1.4 0 1 0 2.8 0a1.4 1.4 0 1 0 -2.8 0" fill="#d20000"/>
<text x="495.6" y="71.14" font-size="9.1" text-anchor="start" fill="#000" stroke="#000" stroke-width="0.18">83.3</text>
<text x="495.6" y="79.04" font-size="9.1" text-anchor="start" fill="#e8202a" stroke="#e8202a" stroke-width="0.18">83.2</text>
<rect x="414.3" y="62.64" width="258" height="19.7" fill="none" stroke="#8a8a8a" stroke-width="0.9"/>
<rect x="672.3" y="62.64" width="13.7" height="19.7" fill="#d9d9d9" stroke="#333" stroke-width="0.9"/>
<text transform="translate(674.9 72.49) rotate(90)" font-size="10.6" text-anchor="middle" fill="#000" stroke="#000" stroke-width="0.25">40</text>
<line x1="412.1" y1="67.14" x2="414.3" y2="67.14" stroke="#333" stroke-width="0.8"/>
<text x="413.7" y="69.94" font-size="8.8" text-anchor="end" fill="#000" stroke="#000" stroke-width="0.2">100</text>
<line x1="412.1" y1="74.44" x2="414.3" y2="74.44" stroke="#333" stroke-width="0.8"/>
<text x="409" y="78.94" font-size="8.8" text-anchor="end" fill="#000" stroke="#000" stroke-width="0.2">1</text>
<line x1="414.3" y1="90.51" x2="672.3" y2="90.51" stroke="#bdbdbd" stroke-width="0.6" stroke-dasharray="0.9 1.5"/>
<line x1="414.3" y1="97.81" x2="672.3" y2="97.81" stroke="#bdbdbd" stroke-width="0.6" stroke-dasharray="0.9 1.5"/>
<line x1="461.4" y1="86.01" x2="461.4" y2="105.71" stroke="#bdbdbd" stroke-width="0.6" stroke-dasharray="0.9 1.5"/>
<line x1="513.9" y1="86.01" x2="513.9" y2="105.71" stroke="#bdbdbd" stroke-width="0.6" stroke-dasharray="0.9 1.5"/>
<line x1="566.4" y1="86.01" x2="566.4" y2="105.71" stroke="#bdbdbd" stroke-width="0.6" stroke-dasharray="0.9 1.5"/>
<line x1="618.9" y1="86.01" x2="618.9" y2="105.71" stroke="#bdbdbd" stroke-width="0.6" stroke-dasharray="0.9 1.5"/>
<line x1="513.8" y1="86.01" x2="513.8" y2="105.71" stroke="#8f8f8f" stroke-width="1.3"/>
<polyline points="425.7,101.62 427.8,101.9 429.9,104.38 432,101.36 434.1,101.2 436.2,101.82 438.3,100.63 440.4,101.02 442.5,100.16 444.6,100.43 446.7,100.34 448.8,100.81 450.9,99.19 453,99.22 455.1,98.56 457.2,98.78 459.3,99.13 461.4,99.07 463.5,99.95 465.6,99.56 467.7,100.07 469.8,99.28 471.9,99.12 474,98.43 476.1,99.11 478.2,99.24 480.3,98.72 482.4,96.85 484.5,97.83 486.6,99.7 488.7,101.01 490.8,100.59 492.9,99.76 495,100.09 497.1,98.49 499.2,97.61 501.3,98.02 503.4,96.97 505.5,96.72 507.6,96.39 509.7,96.15 511.8,93.9 513.9,90.97" fill="none" stroke="#000000" stroke-width="0.9" stroke-linejoin="round"/>
<polyline points="425.7,101.81 427.8,101.84 429.9,102.34 432,101.55 434.1,101.11 436.2,101.59 438.3,100.31 440.4,101.48 442.5,100.07 444.6,100.47 446.7,100.48 448.8,100.91 450.9,98.92 453,99.21 455.1,98.79 457.2,99.58 459.3,99.1 461.4,98.87 463.5,99.41 465.6,99.47 467.7,100.55 469.8,99.68 471.9,99.14 474,98.19 476.1,99.03 478.2,99.7 480.3,98.42 482.4,96.78 484.5,97.87 486.6,99.95 488.7,100.63 490.8,100.49 492.9,100.15 495,100.38 497.1,97.99 499.2,98.05 501.3,97.67 503.4,96.52 505.5,97.04 507.6,96.48 509.7,95.95 511.8,93.9 513.9,90.96" fill="none" stroke="#d20000" stroke-width="0.9" stroke-linejoin="round"/>
<path d="M424.3 101.62a1.4 1.4 0 1 0 2.8 0a1.4 1.4 0 1 0 -2.8 0M426.4 101.9a1.4 1.4 0 1 0 2.8 0a1.4 1.4 0 1 0 -2.8 0M428.5 104.38a1.4 1.4 0 1 0 2.8 0a1.4 1.4 0 1 0 -2.8 0M430.6 101.36a1.4 1.4 0 1 0 2.8 0a1.4 1.4 0 1 0 -2.8 0M432.7 101.2a1.4 1.4 0 1 0 2.8 0a1.4 1.4 0 1 0 -2.8 0M434.8 101.82a1.4 1.4 0 1 0 2.8 0a1.4 1.4 0 1 0 -2.8 0M436.9 100.63a1.4 1.4 0 1 0 2.8 0a1.4 1.4 0 1 0 -2.8 0M439 101.02a1.4 1.4 0 1 0 2.8 0a1.4 1.4 0 1 0 -2.8 0M441.1 100.16a1.4 1.4 0 1 0 2.8 0a1.4 1.4 0 1 0 -2.8 0M443.2 100.43a1.4 1.4 0 1 0 2.8 0a1.4 1.4 0 1 0 -2.8 0M445.3 100.34a1.4 1.4 0 1 0 2.8 0a1.4 1.4 0 1 0 -2.8 0M447.4 100.81a1.4 1.4 0 1 0 2.8 0a1.4 1.4 0 1 0 -2.8 0M449.5 99.19a1.4 1.4 0 1 0 2.8 0a1.4 1.4 0 1 0 -2.8 0M451.6 99.22a1.4 1.4 0 1 0 2.8 0a1.4 1.4 0 1 0 -2.8 0M453.7 98.56a1.4 1.4 0 1 0 2.8 0a1.4 1.4 0 1 0 -2.8 0M455.8 98.78a1.4 1.4 0 1 0 2.8 0a1.4 1.4 0 1 0 -2.8 0M457.9 99.13a1.4 1.4 0 1 0 2.8 0a1.4 1.4 0 1 0 -2.8 0M460 99.07a1.4 1.4 0 1 0 2.8 0a1.4 1.4 0 1 0 -2.8 0M462.1 99.95a1.4 1.4 0 1 0 2.8 0a1.4 1.4 0 1 0 -2.8 0M464.2 99.56a1.4 1.4 0 1 0 2.8 0a1.4 1.4 0 1 0 -2.8 0M466.3 100.07a1.4 1.4 0 1 0 2.8 0a1.4 1.4 0 1 0 -2.8 0M468.4 99.28a1.4 1.4 0 1 0 2.8 0a1.4 1.4 0 1 0 -2.8 0M470.5 99.12a1.4 1.4 0 1 0 2.8 0a1.4 1.4 0 1 0 -2.8 0M472.6 98.43a1.4 1.4 0 1 0 2.8 0a1.4 1.4 0 1 0 -2.8 0M474.7 99.11a1.4 1.4 0 1 0 2.8 0a1.4 1.4 0 1 0 -2.8 0M476.8 99.24a1.4 1.4 0 1 0 2.8 0a1.4 1.4 0 1 0 -2.8 0M478.9 98.72a1.4 1.4 0 1 0 2.8 0a1.4 1.4 0 1 0 -2.8 0M481 96.85a1.4 1.4 0 1 0 2.8 0a1.4 1.4 0 1 0 -2.8 0M483.1 97.83a1.4 1.4 0 1 0 2.8 0a1.4 1.4 0 1 0 -2.8 0M485.2 99.7a1.4 1.4 0 1 0 2.8 0a1.4 1.4 0 1 0 -2.8 0M487.3 101.01a1.4 1.4 0 1 0 2.8 0a1.4 1.4 0 1 0 -2.8 0M489.4 100.59a1.4 1.4 0 1 0 2.8 0a1.4 1.4 0 1 0 -2.8 0M491.5 99.76a1.4 1.4 0 1 0 2.8 0a1.4 1.4 0 1 0 -2.8 0M493.6 100.09a1.4 1.4 0 1 0 2.8 0a1.4 1.4 0 1 0 -2.8 0M495.7 98.49a1.4 1.4 0 1 0 2.8 0a1.4 1.4 0 1 0 -2.8 0M497.8 97.61a1.4 1.4 0 1 0 2.8 0a1.4 1.4 0 1 0 -2.8 0M499.9 98.02a1.4 1.4 0 1 0 2.8 0a1.4 1.4 0 1 0 -2.8 0M502 96.97a1.4 1.4 0 1 0 2.8 0a1.4 1.4 0 1 0 -2.8 0M504.1 96.72a1.4 1.4 0 1 0 2.8 0a1.4 1.4 0 1 0 -2.8 0M506.2 96.39a1.4 1.4 0 1 0 2.8 0a1.4 1.4 0 1 0 -2.8 0M508.3 96.15a1.4 1.4 0 1 0 2.8 0a1.4 1.4 0 1 0 -2.8 0M510.4 93.9a1.4 1.4 0 1 0 2.8 0a1.4 1.4 0 1 0 -2.8 0M512.5 90.97a1.4 1.4 0 1 0 2.8 0a1.4 1.4 0 1 0 -2.8 0" fill="#000000"/>
<path d="M424.3 101.81a1.4 1.4 0 1 0 2.8 0a1.4 1.4 0 1 0 -2.8 0M426.4 101.84a1.4 1.4 0 1 0 2.8 0a1.4 1.4 0 1 0 -2.8 0M428.5 102.34a1.4 1.4 0 1 0 2.8 0a1.4 1.4 0 1 0 -2.8 0M430.6 101.55a1.4 1.4 0 1 0 2.8 0a1.4 1.4 0 1 0 -2.8 0M432.7 101.11a1.4 1.4 0 1 0 2.8 0a1.4 1.4 0 1 0 -2.8 0M434.8 101.59a1.4 1.4 0 1 0 2.8 0a1.4 1.4 0 1 0 -2.8 0M436.9 100.31a1.4 1.4 0 1 0 2.8 0a1.4 1.4 0 1 0 -2.8 0M439 101.48a1.4 1.4 0 1 0 2.8 0a1.4 1.4 0 1 0 -2.8 0M441.1 100.07a1.4 1.4 0 1 0 2.8 0a1.4 1.4 0 1 0 -2.8 0M443.2 100.47a1.4 1.4 0 1 0 2.8 0a1.4 1.4 0 1 0 -2.8 0M445.3 100.48a1.4 1.4 0 1 0 2.8 0a1.4 1.4 0 1 0 -2.8 0M447.4 100.91a1.4 1.4 0 1 0 2.8 0a1.4 1.4 0 1 0 -2.8 0M449.5 98.92a1.4 1.4 0 1 0 2.8 0a1.4 1.4 0 1 0 -2.8 0M451.6 99.21a1.4 1.4 0 1 0 2.8 0a1.4 1.4 0 1 0 -2.8 0M453.7 98.79a1.4 1.4 0 1 0 2.8 0a1.4 1.4 0 1 0 -2.8 0M455.8 99.58a1.4 1.4 0 1 0 2.8 0a1.4 1.4 0 1 0 -2.8 0M457.9 99.1a1.4 1.4 0 1 0 2.8 0a1.4 1.4 0 1 0 -2.8 0M460 98.87a1.4 1.4 0 1 0 2.8 0a1.4 1.4 0 1 0 -2.8 0M462.1 99.41a1.4 1.4 0 1 0 2.8 0a1.4 1.4 0 1 0 -2.8 0M464.2 99.47a1.4 1.4 0 1 0 2.8 0a1.4 1.4 0 1 0 -2.8 0M466.3 100.55a1.4 1.4 0 1 0 2.8 0a1.4 1.4 0 1 0 -2.8 0M468.4 99.68a1.4 1.4 0 1 0 2.8 0a1.4 1.4 0 1 0 -2.8 0M470.5 99.14a1.4 1.4 0 1 0 2.8 0a1.4 1.4 0 1 0 -2.8 0M472.6 98.19a1.4 1.4 0 1 0 2.8 0a1.4 1.4 0 1 0 -2.8 0M474.7 99.03a1.4 1.4 0 1 0 2.8 0a1.4 1.4 0 1 0 -2.8 0M476.8 99.7a1.4 1.4 0 1 0 2.8 0a1.4 1.4 0 1 0 -2.8 0M478.9 98.42a1.4 1.4 0 1 0 2.8 0a1.4 1.4 0 1 0 -2.8 0M481 96.78a1.4 1.4 0 1 0 2.8 0a1.4 1.4 0 1 0 -2.8 0M483.1 97.87a1.4 1.4 0 1 0 2.8 0a1.4 1.4 0 1 0 -2.8 0M485.2 99.95a1.4 1.4 0 1 0 2.8 0a1.4 1.4 0 1 0 -2.8 0M487.3 100.63a1.4 1.4 0 1 0 2.8 0a1.4 1.4 0 1 0 -2.8 0M489.4 100.49a1.4 1.4 0 1 0 2.8 0a1.4 1.4 0 1 0 -2.8 0M491.5 100.15a1.4 1.4 0 1 0 2.8 0a1.4 1.4 0 1 0 -2.8 0M493.6 100.38a1.4 1.4 0 1 0 2.8 0a1.4 1.4 0 1 0 -2.8 0M495.7 97.99a1.4 1.4 0 1 0 2.8 0a1.4 1.4 0 1 0 -2.8 0M497.8 98.05a1.4 1.4 0 1 0 2.8 0a1.4 1.4 0 1 0 -2.8 0M499.9 97.67a1.4 1.4 0 1 0 2.8 0a1.4 1.4 0 1 0 -2.8 0M502 96.52a1.4 1.4 0 1 0 2.8 0a1.4 1.4 0 1 0 -2.8 0M504.1 97.04a1.4 1.4 0 1 0 2.8 0a1.4 1.4 0 1 0 -2.8 0M506.2 96.48a1.4 1.4 0 1 0 2.8 0a1.4 1.4 0 1 0 -2.8 0M508.3 95.95a1.4 1.4 0 1 0 2.8 0a1.4 1.4 0 1 0 -2.8 0M510.4 93.9a1.4 1.4 0 1 0 2.8 0a1.4 1.4 0 1 0 -2.8 0M512.5 90.96a1.4 1.4 0 1 0 2.8 0a1.4 1.4 0 1 0 -2.8 0" fill="#d20000"/>
<text x="515.9" y="94.56" font-size="9.1" text-anchor="start" fill="#000" stroke="#000" stroke-width="0.18">74.7</text>
<text x="515.9" y="101.91" font-size="9.1" text-anchor="start" fill="#e8202a" stroke="#e8202a" stroke-width="0.18">75.5</text>
<rect x="414.3" y="86.01" width="258" height="19.7" fill="none" stroke="#8a8a8a" stroke-width="0.9"/>
<rect x="672.3" y="86.01" width="13.7" height="19.7" fill="#d9d9d9" stroke="#333" stroke-width="0.9"/>
<text transform="translate(674.9 95.86) rotate(90)" font-size="10.6" text-anchor="middle" fill="#000" stroke="#000" stroke-width="0.25">50</text>
<line x1="412.1" y1="90.51" x2="414.3" y2="90.51" stroke="#333" stroke-width="0.8"/>
<text x="411.4" y="94.21" font-size="8.8" text-anchor="end" fill="#000" stroke="#000" stroke-width="0.2">100</text>
<line x1="412.1" y1="97.81" x2="414.3" y2="97.81" stroke="#333" stroke-width="0.8"/>
<text x="411.4" y="101.71" font-size="8.8" text-anchor="end" fill="#000" stroke="#000" stroke-width="0.2">1</text>
<line x1="414.3" y1="113.88" x2="672.3" y2="113.88" stroke="#bdbdbd" stroke-width="0.6" stroke-dasharray="0.9 1.5"/>
<line x1="414.3" y1="121.18" x2="672.3" y2="121.18" stroke="#bdbdbd" stroke-width="0.6" stroke-dasharray="0.9 1.5"/>
<line x1="461.4" y1="109.38" x2="461.4" y2="129.08" stroke="#bdbdbd" stroke-width="0.6" stroke-dasharray="0.9 1.5"/>
<line x1="513.9" y1="109.38" x2="513.9" y2="129.08" stroke="#bdbdbd" stroke-width="0.6" stroke-dasharray="0.9 1.5"/>
<line x1="566.4" y1="109.38" x2="566.4" y2="129.08" stroke="#bdbdbd" stroke-width="0.6" stroke-dasharray="0.9 1.5"/>
<line x1="618.9" y1="109.38" x2="618.9" y2="129.08" stroke="#bdbdbd" stroke-width="0.6" stroke-dasharray="0.9 1.5"/>
<line x1="534.8" y1="109.38" x2="534.8" y2="129.08" stroke="#8f8f8f" stroke-width="1.3"/>
<polyline points="425.7,125.52 427.8,124.77 429.9,126.66 432,126.75 434.1,125.69 436.2,124.85 438.3,126.66 440.4,124.67 442.5,125.42 444.6,123.75 446.7,124.04 448.8,122.99 450.9,123.56 453,123.28 455.1,122.94 457.2,122.36 459.3,124.98 461.4,125.74 463.5,124.46 465.6,123.3 467.7,123.93 469.8,123.32 471.9,123.73 474,122.21 476.1,121.84 478.2,122.33 480.3,121.57 482.4,123.24 484.5,122.05 486.6,121 488.7,122.29 490.8,123.39 492.9,122.73 495,123.39 497.1,122.11 499.2,122.1 501.3,122.7 503.4,122.52 505.5,122.21 507.6,121.29 509.7,121.61 511.8,120.92 513.9,120.58 516,121.85 518.1,120.37 520.2,121.91 522.3,120.31 524.4,122.64 526.5,122.38 528.6,122.72 530.7,122.42 532.8,118.59 534.9,114.4" fill="none" stroke="#000000" stroke-width="0.9" stroke-linejoin="round"/>
<polyline points="425.7,125.62 427.8,124.76 429.9,125.55 432,126.26 434.1,125.58 436.2,124.62 438.3,124.95 440.4,124.39 442.5,125.58 444.6,123.53 446.7,124.14 448.8,123.3 450.9,123.78 453,122.99 455.1,122.64 457.2,122.21 459.3,125.05 461.4,124.82 463.5,124.6 465.6,123.02 467.7,124.11 469.8,123.51 471.9,123.52 474,122.21 476.1,121.65 478.2,122.79 480.3,121.86 482.4,123.92 484.5,122.66 486.6,121.36 488.7,122.62 490.8,123.29 492.9,122.88 495,123.53 497.1,121.47 499.2,122.69 501.3,122.48 503.4,122.41 505.5,122.34 507.6,121.2 509.7,121.43 511.8,121.03 513.9,120.98 516,121.98 518.1,120.68 520.2,121.65 522.3,120.53 524.4,122.66 526.5,122.48 528.6,122.88 530.7,122.44 532.8,118.59 534.9,114.39" fill="none" stroke="#d20000" stroke-width="0.9" stroke-linejoin="round"/>
<path d="M424.3 125.52a1.4 1.4 0 1 0 2.8 0a1.4 1.4 0 1 0 -2.8 0M426.4 124.77a1.4 1.4 0 1 0 2.8 0a1.4 1.4 0 1 0 -2.8 0M428.5 126.66a1.4 1.4 0 1 0 2.8 0a1.4 1.4 0 1 0 -2.8 0M430.6 126.75a1.4 1.4 0 1 0 2.8 0a1.4 1.4 0 1 0 -2.8 0M432.7 125.69a1.4 1.4 0 1 0 2.8 0a1.4 1.4 0 1 0 -2.8 0M434.8 124.85a1.4 1.4 0 1 0 2.8 0a1.4 1.4 0 1 0 -2.8 0M436.9 126.66a1.4 1.4 0 1 0 2.8 0a1.4 1.4 0 1 0 -2.8 0M439 124.67a1.4 1.4 0 1 0 2.8 0a1.4 1.4 0 1 0 -2.8 0M441.1 125.42a1.4 1.4 0 1 0 2.8 0a1.4 1.4 0 1 0 -2.8 0M443.2 123.75a1.4 1.4 0 1 0 2.8 0a1.4 1.4 0 1 0 -2.8 0M445.3 124.04a1.4 1.4 0 1 0 2.8 0a1.4 1.4 0 1 0 -2.8 0M447.4 122.99a1.4 1.4 0 1 0 2.8 0a1.4 1.4 0 1 0 -2.8 0M449.5 123.56a1.4 1.4 0 1 0 2.8 0a1.4 1.4 0 1 0 -2.8 0M451.6 123.28a1.4 1.4 0 1 0 2.8 0a1.4 1.4 0 1 0 -2.8 0M453.7 122.94a1.4 1.4 0 1 0 2.8 0a1.4 1.4 0 1 0 -2.8 0M455.8 122.36a1.4 1.4 0 1 0 2.8 0a1.4 1.4 0 1 0 -2.8 0M457.9 124.98a1.4 1.4 0 1 0 2.8 0a1.4 1.4 0 1 0 -2.8 0M460 125.74a1.4 1.4 0 1 0 2.8 0a1.4 1.4 0 1 0 -2.8 0M462.1 124.46a1.4 1.4 0 1 0 2.8 0a1.4 1.4 0 1 0 -2.8 0M464.2 123.3a1.4 1.4 0 1 0 2.8 0a1.4 1.4 0 1 0 -2.8 0M466.3 123.93a1.4 1.4 0 1 0 2.8 0a1.4 1.4 0 1 0 -2.8 0M468.4 123.32a1.4 1.4 0 1 0 2.8 0a1.4 1.4 0 1 0 -2.8 0M470.5 123.73a1.4 1.4 0 1 0 2.8 0a1.4 1.4 0 1 0 -2.8 0M472.6 122.21a1.4 1.4 0 1 0 2.8 0a1.4 1.4 0 1 0 -2.8 0M474.7 121.84a1.4 1.4 0 1 0 2.8 0a1.4 1.4 0 1 0 -2.8 0M476.8 122.33a1.4 1.4 0 1 0 2.8 0a1.4 1.4 0 1 0 -2.8 0M478.9 121.57a1.4 1.4 0 1 0 2.8 0a1.4 1.4 0 1 0 -2.8 0M481 123.24a1.4 1.4 0 1 0 2.8 0a1.4 1.4 0 1 0 -2.8 0M483.1 122.05a1.4 1.4 0 1 0 2.8 0a1.4 1.4 0 1 0 -2.8 0M485.2 121a1.4 1.4 0 1 0 2.8 0a1.4 1.4 0 1 0 -2.8 0M487.3 122.29a1.4 1.4 0 1 0 2.8 0a1.4 1.4 0 1 0 -2.8 0M489.4 123.39a1.4 1.4 0 1 0 2.8 0a1.4 1.4 0 1 0 -2.8 0M491.5 122.73a1.4 1.4 0 1 0 2.8 0a1.4 1.4 0 1 0 -2.8 0M493.6 123.39a1.4 1.4 0 1 0 2.8 0a1.4 1.4 0 1 0 -2.8 0M495.7 122.11a1.4 1.4 0 1 0 2.8 0a1.4 1.4 0 1 0 -2.8 0M497.8 122.1a1.4 1.4 0 1 0 2.8 0a1.4 1.4 0 1 0 -2.8 0M499.9 122.7a1.4 1.4 0 1 0 2.8 0a1.4 1.4 0 1 0 -2.8 0M502 122.52a1.4 1.4 0 1 0 2.8 0a1.4 1.4 0 1 0 -2.8 0M504.1 122.21a1.4 1.4 0 1 0 2.8 0a1.4 1.4 0 1 0 -2.8 0M506.2 121.29a1.4 1.4 0 1 0 2.8 0a1.4 1.4 0 1 0 -2.8 0M508.3 121.61a1.4 1.4 0 1 0 2.8 0a1.4 1.4 0 1 0 -2.8 0M510.4 120.92a1.4 1.4 0 1 0 2.8 0a1.4 1.4 0 1 0 -2.8 0M512.5 120.58a1.4 1.4 0 1 0 2.8 0a1.4 1.4 0 1 0 -2.8 0M514.6 121.85a1.4 1.4 0 1 0 2.8 0a1.4 1.4 0 1 0 -2.8 0M516.7 120.37a1.4 1.4 0 1 0 2.8 0a1.4 1.4 0 1 0 -2.8 0M518.8 121.91a1.4 1.4 0 1 0 2.8 0a1.4 1.4 0 1 0 -2.8 0M520.9 120.31a1.4 1.4 0 1 0 2.8 0a1.4 1.4 0 1 0 -2.8 0M523 122.64a1.4 1.4 0 1 0 2.8 0a1.4 1.4 0 1 0 -2.8 0M525.1 122.38a1.4 1.4 0 1 0 2.8 0a1.4 1.4 0 1 0 -2.8 0M527.2 122.72a1.4 1.4 0 1 0 2.8 0a1.4 1.4 0 1 0 -2.8 0M529.3 122.42a1.4 1.4 0 1 0 2.8 0a1.4 1.4 0 1 0 -2.8 0M531.4 118.59a1.4 1.4 0 1 0 2.8 0a1.4 1.4 0 1 0 -2.8 0M533.5 114.4a1.4 1.4 0 1 0 2.8 0a1.4 1.4 0 1 0 -2.8 0" fill="#000000"/>
<path d="M424.3 125.62a1.4 1.4 0 1 0 2.8 0a1.4 1.4 0 1 0 -2.8 0M426.4 124.76a1.4 1.4 0 1 0 2.8 0a1.4 1.4 0 1 0 -2.8 0M428.5 125.55a1.4 1.4 0 1 0 2.8 0a1.4 1.4 0 1 0 -2.8 0M430.6 126.26a1.4 1.4 0 1 0 2.8 0a1.4 1.4 0 1 0 -2.8 0M432.7 125.58a1.4 1.4 0 1 0 2.8 0a1.4 1.4 0 1 0 -2.8 0M434.8 124.62a1.4 1.4 0 1 0 2.8 0a1.4 1.4 0 1 0 -2.8 0M436.9 124.95a1.4 1.4 0 1 0 2.8 0a1.4 1.4 0 1 0 -2.8 0M439 124.39a1.4 1.4 0 1 0 2.8 0a1.4 1.4 0 1 0 -2.8 0M441.1 125.58a1.4 1.4 0 1 0 2.8 0a1.4 1.4 0 1 0 -2.8 0M443.2 123.53a1.4 1.4 0 1 0 2.8 0a1.4 1.4 0 1 0 -2.8 0M445.3 124.14a1.4 1.4 0 1 0 2.8 0a1.4 1.4 0 1 0 -2.8 0M447.4 123.3a1.4 1.4 0 1 0 2.8 0a1.4 1.4 0 1 0 -2.8 0M449.5 123.78a1.4 1.4 0 1 0 2.8 0a1.4 1.4 0 1 0 -2.8 0M451.6 122.99a1.4 1.4 0 1 0 2.8 0a1.4 1.4 0 1 0 -2.8 0M453.7 122.64a1.4 1.4 0 1 0 2.8 0a1.4 1.4 0 1 0 -2.8 0M455.8 122.21a1.4 1.4 0 1 0 2.8 0a1.4 1.4 0 1 0 -2.8 0M457.9 125.05a1.4 1.4 0 1 0 2.8 0a1.4 1.4 0 1 0 -2.8 0M460 124.82a1.4 1.4 0 1 0 2.8 0a1.4 1.4 0 1 0 -2.8 0M462.1 124.6a1.4 1.4 0 1 0 2.8 0a1.4 1.4 0 1 0 -2.8 0M464.2 123.02a1.4 1.4 0 1 0 2.8 0a1.4 1.4 0 1 0 -2.8 0M466.3 124.11a1.4 1.4 0 1 0 2.8 0a1.4 1.4 0 1 0 -2.8 0M468.4 123.51a1.4 1.4 0 1 0 2.8 0a1.4 1.4 0 1 0 -2.8 0M470.5 123.52a1.4 1.4 0 1 0 2.8 0a1.4 1.4 0 1 0 -2.8 0M472.6 122.21a1.4 1.4 0 1 0 2.8 0a1.4 1.4 0 1 0 -2.8 0M474.7 121.65a1.4 1.4 0 1 0 2.8 0a1.4 1.4 0 1 0 -2.8 0M476.8 122.79a1.4 1.4 0 1 0 2.8 0a1.4 1.4 0 1 0 -2.8 0M478.9 121.86a1.4 1.4 0 1 0 2.8 0a1.4 1.4 0 1 0 -2.8 0M481 123.92a1.4 1.4 0 1 0 2.8 0a1.4 1.4 0 1 0 -2.8 0M483.1 122.66a1.4 1.4 0 1 0 2.8 0a1.4 1.4 0 1 0 -2.8 0M485.2 121.36a1.4 1.4 0 1 0 2.8 0a1.4 1.4 0 1 0 -2.8 0M487.3 122.62a1.4 1.4 0 1 0 2.8 0a1.4 1.4 0 1 0 -2.8 0M489.4 123.29a1.4 1.4 0 1 0 2.8 0a1.4 1.4 0 1 0 -2.8 0M491.5 122.88a1.4 1.4 0 1 0 2.8 0a1.4 1.4 0 1 0 -2.8 0M493.6 123.53a1.4 1.4 0 1 0 2.8 0a1.4 1.4 0 1 0 -2.8 0M495.7 121.47a1.4 1.4 0 1 0 2.8 0a1.4 1.4 0 1 0 -2.8 0M497.8 122.69a1.4 1.4 0 1 0 2.8 0a1.4 1.4 0 1 0 -2.8 0M499.9 122.48a1.4 1.4 0 1 0 2.8 0a1.4 1.4 0 1 0 -2.8 0M502 122.41a1.4 1.4 0 1 0 2.8 0a1.4 1.4 0 1 0 -2.8 0M504.1 122.34a1.4 1.4 0 1 0 2.8 0a1.4 1.4 0 1 0 -2.8 0M506.2 121.2a1.4 1.4 0 1 0 2.8 0a1.4 1.4 0 1 0 -2.8 0M508.3 121.43a1.4 1.4 0 1 0 2.8 0a1.4 1.4 0 1 0 -2.8 0M510.4 121.03a1.4 1.4 0 1 0 2.8 0a1.4 1.4 0 1 0 -2.8 0M512.5 120.98a1.4 1.4 0 1 0 2.8 0a1.4 1.4 0 1 0 -2.8 0M514.6 121.98a1.4 1.4 0 1 0 2.8 0a1.4 1.4 0 1 0 -2.8 0M516.7 120.68a1.4 1.4 0 1 0 2.8 0a1.4 1.4 0 1 0 -2.8 0M518.8 121.65a1.4 1.4 0 1 0 2.8 0a1.4 1.4 0 1 0 -2.8 0M520.9 120.53a1.4 1.4 0 1 0 2.8 0a1.4 1.4 0 1 0 -2.8 0M523 122.66a1.4 1.4 0 1 0 2.8 0a1.4 1.4 0 1 0 -2.8 0M525.1 122.48a1.4 1.4 0 1 0 2.8 0a1.4 1.4 0 1 0 -2.8 0M527.2 122.88a1.4 1.4 0 1 0 2.8 0a1.4 1.4 0 1 0 -2.8 0M529.3 122.44a1.4 1.4 0 1 0 2.8 0a1.4 1.4 0 1 0 -2.8 0M531.4 118.59a1.4 1.4 0 1 0 2.8 0a1.4 1.4 0 1 0 -2.8 0M533.5 114.39a1.4 1.4 0 1 0 2.8 0a1.4 1.4 0 1 0 -2.8 0" fill="#d20000"/>
<text x="536.7" y="117.68" font-size="9.1" text-anchor="start" fill="#000" stroke="#000" stroke-width="0.18">72.0</text>
<text x="536.7" y="125.58" font-size="9.1" text-anchor="start" fill="#e8202a" stroke="#e8202a" stroke-width="0.18">72.7</text>
<rect x="414.3" y="109.38" width="258" height="19.7" fill="none" stroke="#8a8a8a" stroke-width="0.9"/>
<rect x="672.3" y="109.38" width="13.7" height="19.7" fill="#d9d9d9" stroke="#333" stroke-width="0.9"/>
<text transform="translate(674.9 119.23) rotate(90)" font-size="10.6" text-anchor="middle" fill="#000" stroke="#000" stroke-width="0.25">60</text>
<line x1="412.1" y1="113.88" x2="414.3" y2="113.88" stroke="#333" stroke-width="0.8"/>
<text x="411.4" y="117.58" font-size="8.8" text-anchor="end" fill="#000" stroke="#000" stroke-width="0.2">100</text>
<line x1="412.1" y1="121.18" x2="414.3" y2="121.18" stroke="#333" stroke-width="0.8"/>
<text x="411.4" y="125.08" font-size="8.8" text-anchor="end" fill="#000" stroke="#000" stroke-width="0.2">1</text>
<line x1="414.3" y1="137.25" x2="672.3" y2="137.25" stroke="#bdbdbd" stroke-width="0.6" stroke-dasharray="0.9 1.5"/>
<line x1="414.3" y1="144.55" x2="672.3" y2="144.55" stroke="#bdbdbd" stroke-width="0.6" stroke-dasharray="0.9 1.5"/>
<line x1="461.4" y1="132.75" x2="461.4" y2="152.45" stroke="#bdbdbd" stroke-width="0.6" stroke-dasharray="0.9 1.5"/>
<line x1="513.9" y1="132.75" x2="513.9" y2="152.45" stroke="#bdbdbd" stroke-width="0.6" stroke-dasharray="0.9 1.5"/>
<line x1="566.4" y1="132.75" x2="566.4" y2="152.45" stroke="#bdbdbd" stroke-width="0.6" stroke-dasharray="0.9 1.5"/>
<line x1="618.9" y1="132.75" x2="618.9" y2="152.45" stroke="#bdbdbd" stroke-width="0.6" stroke-dasharray="0.9 1.5"/>
<line x1="555.8" y1="132.75" x2="555.8" y2="152.45" stroke="#8f8f8f" stroke-width="1.3"/>
<polyline points="425.7,150.94 427.8,149.08 429.9,149 432,148.97 434.1,149.55 436.2,147.87 438.3,148.45 440.4,147.6 442.5,147.55 444.6,146.78 446.7,146.99 448.8,146.15 450.9,145.92 453,146.1 455.1,145.73 457.2,146.44 459.3,146.35 461.4,145.77 463.5,145.08 465.6,145.65 467.7,146.57 469.8,146.96 471.9,145.54 474,145.99 476.1,145.48 478.2,146.62 480.3,147.07 482.4,147.54 484.5,147.21 486.6,146.29 488.7,145.49 490.8,146.13 492.9,145.2 495,146.03 497.1,145.31 499.2,145.15 501.3,144.93 503.4,146.53 505.5,146.32 507.6,146.06 509.7,144.87 511.8,145.34 513.9,144.42 516,145.2 518.1,144.87 520.2,144.65 522.3,144.3 524.4,144.53 526.5,144.66 528.6,143.79 530.7,144.69 532.8,144.17 534.9,142.95 537,142.72 539.1,143.35 541.2,143.9 543.3,144.39 545.4,145.02 547.5,145.32 549.6,145.09 551.7,142.7 553.8,141.34 555.9,138.27" fill="none" stroke="#000000" stroke-width="0.9" stroke-linejoin="round"/>
<polyline points="425.7,150.51 427.8,149.2 429.9,149.17 432,148.66 434.1,149.26 436.2,148.05 438.3,148.45 440.4,147.74 442.5,147.36 444.6,147.17 446.7,147.18 448.8,146.09 450.9,146.16 453,145.64 455.1,145.71 457.2,146.19 459.3,146.42 461.4,145.83 463.5,145.13 465.6,145.58 467.7,146.38 469.8,146.73 471.9,145.57 474,146.23 476.1,145.35 478.2,146.59 480.3,146.95 482.4,147.4 484.5,146.95 486.6,146.27 488.7,145.94 490.8,146.14 492.9,145.11 495,145.81 497.1,145.26 499.2,145.21 501.3,144.84 503.4,146.35 505.5,146.33 507.6,146.07 509.7,144.99 511.8,145.32 513.9,144.61 516,145.27 518.1,144.94 520.2,144.82 522.3,144.04 524.4,145.17 526.5,144.6 528.6,143.62 530.7,144.77 532.8,144.46 534.9,142.72 537,142.67 539.1,143.5 541.2,143.88 543.3,144.41 545.4,145.15 547.5,145.06 549.6,144.83 551.7,142.82 553.8,141.34 555.9,138.27" fill="none" stroke="#d20000" stroke-width="0.9" stroke-linejoin="round"/>
<path d="M424.3 150.94a1.4 1.4 0 1 0 2.8 0a1.4 1.4 0 1 0 -2.8 0M426.4 149.08a1.4 1.4 0 1 0 2.8 0a1.4 1.4 0 1 0 -2.8 0M428.5 149a1.4 1.4 0 1 0 2.8 0a1.4 1.4 0 1 0 -2.8 0M430.6 148.97a1.4 1.4 0 1 0 2.8 0a1.4 1.4 0 1 0 -2.8 0M432.7 149.55a1.4 1.4 0 1 0 2.8 0a1.4 1.4 0 1 0 -2.8 0M434.8 147.87a1.4 1.4 0 1 0 2.8 0a1.4 1.4 0 1 0 -2.8 0M436.9 148.45a1.4 1.4 0 1 0 2.8 0a1.4 1.4 0 1 0 -2.8 0M439 147.6a1.4 1.4 0 1 0 2.8 0a1.4 1.4 0 1 0 -2.8 0M441.1 147.55a1.4 1.4 0 1 0 2.8 0a1.4 1.4 0 1 0 -2.8 0M443.2 146.78a1.4 1.4 0 1 0 2.8 0a1.4 1.4 0 1 0 -2.8 0M445.3 146.99a1.4 1.4 0 1 0 2.8 0a1.4 1.4 0 1 0 -2.8 0M447.4 146.15a1.4 1.4 0 1 0 2.8 0a1.4 1.4 0 1 0 -2.8 0M449.5 145.92a1.4 1.4 0 1 0 2.8 0a1.4 1.4 0 1 0 -2.8 0M451.6 146.1a1.4 1.4 0 1 0 2.8 0a1.4 1.4 0 1 0 -2.8 0M453.7 145.73a1.4 1.4 0 1 0 2.8 0a1.4 1.4 0 1 0 -2.8 0M455.8 146.44a1.4 1.4 0 1 0 2.8 0a1.4 1.4 0 1 0 -2.8 0M457.9 146.35a1.4 1.4 0 1 0 2.8 0a1.4 1.4 0 1 0 -2.8 0M460 145.77a1.4 1.4 0 1 0 2.8 0a1.4 1.4 0 1 0 -2.8 0M462.1 145.08a1.4 1.4 0 1 0 2.8 0a1.4 1.4 0 1 0 -2.8 0M464.2 145.65a1.4 1.4 0 1 0 2.8 0a1.4 1.4 0 1 0 -2.8 0M466.3 146.57a1.4 1.4 0 1 0 2.8 0a1.4 1.4 0 1 0 -2.8 0M468.4 146.96a1.4 1.4 0 1 0 2.8 0a1.4 1.4 0 1 0 -2.8 0M470.5 145.54a1.4 1.4 0 1 0 2.8 0a1.4 1.4 0 1 0 -2.8 0M472.6 145.99a1.4 1.4 0 1 0 2.8 0a1.4 1.4 0 1 0 -2.8 0M474.7 145.48a1.4 1.4 0 1 0 2.8 0a1.4 1.4 0 1 0 -2.8 0M476.8 146.62a1.4 1.4 0 1 0 2.8 0a1.4 1.4 0 1 0 -2.8 0M478.9 147.07a1.4 1.4 0 1 0 2.8 0a1.4 1.4 0 1 0 -2.8 0M481 147.54a1.4 1.4 0 1 0 2.8 0a1.4 1.4 0 1 0 -2.8 0M483.1 147.21a1.4 1.4 0 1 0 2.8 0a1.4 1.4 0 1 0 -2.8 0M485.2 146.29a1.4 1.4 0 1 0 2.8 0a1.4 1.4 0 1 0 -2.8 0M487.3 145.49a1.4 1.4 0 1 0 2.8 0a1.4 1.4 0 1 0 -2.8 0M489.4 146.13a1.4 1.4 0 1 0 2.8 0a1.4 1.4 0 1 0 -2.8 0M491.5 145.2a1.4 1.4 0 1 0 2.8 0a1.4 1.4 0 1 0 -2.8 0M493.6 146.03a1.4 1.4 0 1 0 2.8 0a1.4 1.4 0 1 0 -2.8 0M495.7 145.31a1.4 1.4 0 1 0 2.8 0a1.4 1.4 0 1 0 -2.8 0M497.8 145.15a1.4 1.4 0 1 0 2.8 0a1.4 1.4 0 1 0 -2.8 0M499.9 144.93a1.4 1.4 0 1 0 2.8 0a1.4 1.4 0 1 0 -2.8 0M502 146.53a1.4 1.4 0 1 0 2.8 0a1.4 1.4 0 1 0 -2.8 0M504.1 146.32a1.4 1.4 0 1 0 2.8 0a1.4 1.4 0 1 0 -2.8 0M506.2 146.06a1.4 1.4 0 1 0 2.8 0a1.4 1.4 0 1 0 -2.8 0M508.3 144.87a1.4 1.4 0 1 0 2.8 0a1.4 1.4 0 1 0 -2.8 0M510.4 145.34a1.4 1.4 0 1 0 2.8 0a1.4 1.4 0 1 0 -2.8 0M512.5 144.42a1.4 1.4 0 1 0 2.8 0a1.4 1.4 0 1 0 -2.8 0M514.6 145.2a1.4 1.4 0 1 0 2.8 0a1.4 1.4 0 1 0 -2.8 0M516.7 144.87a1.4 1.4 0 1 0 2.8 0a1.4 1.4 0 1 0 -2.8 0M518.8 144.65a1.4 1.4 0 1 0 2.8 0a1.4 1.4 0 1 0 -2.8 0M520.9 144.3a1.4 1.4 0 1 0 2.8 0a1.4 1.4 0 1 0 -2.8 0M523 144.53a1.4 1.4 0 1 0 2.8 0a1.4 1.4 0 1 0 -2.8 0M525.1 144.66a1.4 1.4 0 1 0 2.8 0a1.4 1.4 0 1 0 -2.8 0M527.2 143.79a1.4 1.4 0 1 0 2.8 0a1.4 1.4 0 1 0 -2.8 0M529.3 144.69a1.4 1.4 0 1 0 2.8 0a1.4 1.4 0 1 0 -2.8 0M531.4 144.17a1.4 1.4 0 1 0 2.8 0a1.4 1.4 0 1 0 -2.8 0M533.5 142.95a1.4 1.4 0 1 0 2.8 0a1.4 1.4 0 1 0 -2.8 0M535.6 142.72a1.4 1.4 0 1 0 2.8 0a1.4 1.4 0 1 0 -2.8 0M537.7 143.35a1.4 1.4 0 1 0 2.8 0a1.4 1.4 0 1 0 -2.8 0M539.8 143.9a1.4 1.4 0 1 0 2.8 0a1.4 1.4 0 1 0 -2.8 0M541.9 144.39a1.4 1.4 0 1 0 2.8 0a1.4 1.4 0 1 0 -2.8 0M544 145.02a1.4 1.4 0 1 0 2.8 0a1.4 1.4 0 1 0 -2.8 0M546.1 145.32a1.4 1.4 0 1 0 2.8 0a1.4 1.4 0 1 0 -2.8 0M548.2 145.09a1.4 1.4 0 1 0 2.8 0a1.4 1.4 0 1 0 -2.8 0M550.3 142.7a1.4 1.4 0 1 0 2.8 0a1.4 1.4 0 1 0 -2.8 0M552.4 141.34a1.4 1.4 0 1 0 2.8 0a1.4 1.4 0 1 0 -2.8 0M554.5 138.27a1.4 1.4 0 1 0 2.8 0a1.4 1.4 0 1 0 -2.8 0" fill="#000000"/>
<path d="M424.3 150.51a1.4 1.4 0 1 0 2.8 0a1.4 1.4 0 1 0 -2.8 0M426.4 149.2a1.4 1.4 0 1 0 2.8 0a1.4 1.4 0 1 0 -2.8 0M428.5 149.17a1.4 1.4 0 1 0 2.8 0a1.4 1.4 0 1 0 -2.8 0M430.6 148.66a1.4 1.4 0 1 0 2.8 0a1.4 1.4 0 1 0 -2.8 0M432.7 149.26a1.4 1.4 0 1 0 2.8 0a1.4 1.4 0 1 0 -2.8 0M434.8 148.05a1.4 1.4 0 1 0 2.8 0a1.4 1.4 0 1 0 -2.8 0M436.9 148.45a1.4 1.4 0 1 0 2.8 0a1.4 1.4 0 1 0 -2.8 0M439 147.74a1.4 1.4 0 1 0 2.8 0a1.4 1.4 0 1 0 -2.8 0M441.1 147.36a1.4 1.4 0 1 0 2.8 0a1.4 1.4 0 1 0 -2.8 0M443.2 147.17a1.4 1.4 0 1 0 2.8 0a1.4 1.4 0 1 0 -2.8 0M445.3 147.18a1.4 1.4 0 1 0 2.8 0a1.4 1.4 0 1 0 -2.8 0M447.4 146.09a1.4 1.4 0 1 0 2.8 0a1.4 1.4 0 1 0 -2.8 0M449.5 146.16a1.4 1.4 0 1 0 2.8 0a1.4 1.4 0 1 0 -2.8 0M451.6 145.64a1.4 1.4 0 1 0 2.8 0a1.4 1.4 0 1 0 -2.8 0M453.7 145.71a1.4 1.4 0 1 0 2.8 0a1.4 1.4 0 1 0 -2.8 0M455.8 146.19a1.4 1.4 0 1 0 2.8 0a1.4 1.4 0 1 0 -2.8 0M457.9 146.42a1.4 1.4 0 1 0 2.8 0a1.4 1.4 0 1 0 -2.8 0M460 145.83a1.4 1.4 0 1 0 2.8 0a1.4 1.4 0 1 0 -2.8 0M462.1 145.13a1.4 1.4 0 1 0 2.8 0a1.4 1.4 0 1 0 -2.8 0M464.2 145.58a1.4 1.4 0 1 0 2.8 0a1.4 1.4 0 1 0 -2.8 0M466.3 146.38a1.4 1.4 0 1 0 2.8 0a1.4 1.4 0 1 0 -2.8 0M468.4 146.73a1.4 1.4 0 1 0 2.8 0a1.4 1.4 0 1 0 -2.8 0M470.5 145.57a1.4 1.4 0 1 0 2.8 0a1.4 1.4 0 1 0 -2.8 0M472.6 146.23a1.4 1.4 0 1 0 2.8 0a1.4 1.4 0 1 0 -2.8 0M474.7 145.35a1.4 1.4 0 1 0 2.8 0a1.4 1.4 0 1 0 -2.8 0M476.8 146.59a1.4 1.4 0 1 0 2.8 0a1.4 1.4 0 1 0 -2.8 0M478.9 146.95a1.4 1.4 0 1 0 2.8 0a1.4 1.4 0 1 0 -2.8 0M481 147.4a1.4 1.4 0 1 0 2.8 0a1.4 1.4 0 1 0 -2.8 0M483.1 146.95a1.4 1.4 0 1 0 2.8 0a1.4 1.4 0 1 0 -2.8 0M485.2 146.27a1.4 1.4 0 1 0 2.8 0a1.4 1.4 0 1 0 -2.8 0M487.3 145.94a1.4 1.4 0 1 0 2.8 0a1.4 1.4 0 1 0 -2.8 0M489.4 146.14a1.4 1.4 0 1 0 2.8 0a1.4 1.4 0 1 0 -2.8 0M491.5 145.11a1.4 1.4 0 1 0 2.8 0a1.4 1.4 0 1 0 -2.8 0M493.6 145.81a1.4 1.4 0 1 0 2.8 0a1.4 1.4 0 1 0 -2.8 0M495.7 145.26a1.4 1.4 0 1 0 2.8 0a1.4 1.4 0 1 0 -2.8 0M497.8 145.21a1.4 1.4 0 1 0 2.8 0a1.4 1.4 0 1 0 -2.8 0M499.9 144.84a1.4 1.4 0 1 0 2.8 0a1.4 1.4 0 1 0 -2.8 0M502 146.35a1.4 1.4 0 1 0 2.8 0a1.4 1.4 0 1 0 -2.8 0M504.1 146.33a1.4 1.4 0 1 0 2.8 0a1.4 1.4 0 1 0 -2.8 0M506.2 146.07a1.4 1.4 0 1 0 2.8 0a1.4 1.4 0 1 0 -2.8 0M508.3 144.99a1.4 1.4 0 1 0 2.8 0a1.4 1.4 0 1 0 -2.8 0M510.4 145.32a1.4 1.4 0 1 0 2.8 0a1.4 1.4 0 1 0 -2.8 0M512.5 144.61a1.4 1.4 0 1 0 2.8 0a1.4 1.4 0 1 0 -2.8 0M514.6 145.27a1.4 1.4 0 1 0 2.8 0a1.4 1.4 0 1 0 -2.8 0M516.7 144.94a1.4 1.4 0 1 0 2.8 0a1.4 1.4 0 1 0 -2.8 0M518.8 144.82a1.4 1.4 0 1 0 2.8 0a1.4 1.4 0 1 0 -2.8 0M520.9 144.04a1.4 1.4 0 1 0 2.8 0a1.4 1.4 0 1 0 -2.8 0M523 145.17a1.4 1.4 0 1 0 2.8 0a1.4 1.4 0 1 0 -2.8 0M525.1 144.6a1.4 1.4 0 1 0 2.8 0a1.4 1.4 0 1 0 -2.8 0M527.2 143.62a1.4 1.4 0 1 0 2.8 0a1.4 1.4 0 1 0 -2.8 0M529.3 144.77a1.4 1.4 0 1 0 2.8 0a1.4 1.4 0 1 0 -2.8 0M531.4 144.46a1.4 1.4 0 1 0 2.8 0a1.4 1.4 0 1 0 -2.8 0M533.5 142.72a1.4 1.4 0 1 0 2.8 0a1.4 1.4 0 1 0 -2.8 0M535.6 142.67a1.4 1.4 0 1 0 2.8 0a1.4 1.4 0 1 0 -2.8 0M537.7 143.5a1.4 1.4 0 1 0 2.8 0a1.4 1.4 0 1 0 -2.8 0M539.8 143.88a1.4 1.4 0 1 0 2.8 0a1.4 1.4 0 1 0 -2.8 0M541.9 144.41a1.4 1.4 0 1 0 2.8 0a1.4 1.4 0 1 0 -2.8 0M544 145.15a1.4 1.4 0 1 0 2.8 0a1.4 1.4 0 1 0 -2.8 0M546.1 145.06a1.4 1.4 0 1 0 2.8 0a1.4 1.4 0 1 0 -2.8 0M548.2 144.83a1.4 1.4 0 1 0 2.8 0a1.4 1.4 0 1 0 -2.8 0M550.3 142.82a1.4 1.4 0 1 0 2.8 0a1.4 1.4 0 1 0 -2.8 0M552.4 141.34a1.4 1.4 0 1 0 2.8 0a1.4 1.4 0 1 0 -2.8 0M554.5 138.27a1.4 1.4 0 1 0 2.8 0a1.4 1.4 0 1 0 -2.8 0" fill="#d20000"/>
<text x="557" y="140.95" font-size="9.1" text-anchor="start" fill="#000" stroke="#000" stroke-width="0.18">52.5</text>
<text x="557" y="148.75" font-size="9.1" text-anchor="start" fill="#e8202a" stroke="#e8202a" stroke-width="0.18">52.4</text>
<rect x="414.3" y="132.75" width="258" height="19.7" fill="none" stroke="#8a8a8a" stroke-width="0.9"/>
<rect x="672.3" y="132.75" width="13.7" height="19.7" fill="#d9d9d9" stroke="#333" stroke-width="0.9"/>
<text transform="translate(674.9 142.6) rotate(90)" font-size="10.6" text-anchor="middle" fill="#000" stroke="#000" stroke-width="0.25">70</text>
<line x1="412.1" y1="137.25" x2="414.3" y2="137.25" stroke="#333" stroke-width="0.8"/>
<text x="411.4" y="140.95" font-size="8.8" text-anchor="end" fill="#000" stroke="#000" stroke-width="0.2">100</text>
<line x1="412.1" y1="144.55" x2="414.3" y2="144.55" stroke="#333" stroke-width="0.8"/>
<text x="411.4" y="148.45" font-size="8.8" text-anchor="end" fill="#000" stroke="#000" stroke-width="0.2">1</text>
<line x1="414.3" y1="160.62" x2="672.3" y2="160.62" stroke="#bdbdbd" stroke-width="0.6" stroke-dasharray="0.9 1.5"/>
<line x1="414.3" y1="167.92" x2="672.3" y2="167.92" stroke="#bdbdbd" stroke-width="0.6" stroke-dasharray="0.9 1.5"/>
<line x1="461.4" y1="156.12" x2="461.4" y2="175.82" stroke="#bdbdbd" stroke-width="0.6" stroke-dasharray="0.9 1.5"/>
<line x1="513.9" y1="156.12" x2="513.9" y2="175.82" stroke="#bdbdbd" stroke-width="0.6" stroke-dasharray="0.9 1.5"/>
<line x1="566.4" y1="156.12" x2="566.4" y2="175.82" stroke="#bdbdbd" stroke-width="0.6" stroke-dasharray="0.9 1.5"/>
<line x1="618.9" y1="156.12" x2="618.9" y2="175.82" stroke="#bdbdbd" stroke-width="0.6" stroke-dasharray="0.9 1.5"/>
<line x1="576.8" y1="156.12" x2="576.8" y2="175.82" stroke="#8f8f8f" stroke-width="1.3"/>
<polyline points="425.7,172.14 427.8,171.46 429.9,174.86 432,170.64 434.1,172.32 436.2,171.8 438.3,172.04 440.4,172.2 442.5,171.28 444.6,171.25 446.7,170.74 448.8,171.18 450.9,170.23 453,170.02 455.1,170.24 457.2,170.63 459.3,170.47 461.4,170 463.5,169.68 465.6,169.56 467.7,169.54 469.8,169.99 471.9,169.4 474,169.17 476.1,168.48 478.2,168.9 480.3,168.89 482.4,169.16 484.5,168.5 486.6,168.8 488.7,169.77 490.8,168.94 492.9,168.35 495,167.54 497.1,167.92 499.2,167.56 501.3,167.43 503.4,167.57 505.5,167.25 507.6,166.88 509.7,167.72 511.8,167.34 513.9,167.91 516,168.64 518.1,169.94 520.2,168.15 522.3,167.41 524.4,168.14 526.5,167.28 528.6,167.8 530.7,167.44 532.8,167.35 534.9,168.07 537,168.38 539.1,170.31 541.2,171.75 543.3,170.27 545.4,169 547.5,168.59 549.6,168.99 551.7,168.51 553.8,167.41 555.9,166.95 558,167.2 560.1,168.04 562.2,166.88 564.3,168.49 566.4,166.21 568.5,167.03 570.6,166.18 572.7,166.65 574.8,164.71 576.9,161.95" fill="none" stroke="#000000" stroke-width="0.9" stroke-linejoin="round"/>
<polyline points="425.7,172.44 427.8,171.31 429.9,172.37 432,171.11 434.1,171.81 436.2,171.85 438.3,171.83 440.4,172.13 442.5,171.4 444.6,170.87 446.7,170.8 448.8,171.08 450.9,170.22 453,169.89 455.1,170 457.2,170.59 459.3,170.52 461.4,169.82 463.5,169.68 465.6,169.32 467.7,169.5 469.8,169.74 471.9,169.33 474,168.89 476.1,168.35 478.2,169.13 480.3,168.77 482.4,168.57 484.5,168.04 486.6,168.82 488.7,169.45 490.8,169 492.9,168.1 495,167.18 497.1,167.7 499.2,167.58 501.3,167.71 503.4,167.39 505.5,167.3 507.6,167.2 509.7,167.57 511.8,167.69 513.9,168.22 516,168.45 518.1,169.57 520.2,167.89 522.3,167.21 524.4,168.02 526.5,167.19 528.6,167.55 530.7,167.98 532.8,167.2 534.9,167.58 537,168.01 539.1,170.19 541.2,171.47 543.3,169.49 545.4,168.77 547.5,168.63 549.6,168.76 551.7,168.56 553.8,167.52 555.9,167.13 558,167.46 560.1,168.39 562.2,166.78 564.3,168.74 566.4,166.27 568.5,166.93 570.6,166.56 572.7,166.53 574.8,164.71 576.9,161.98" fill="none" stroke="#d20000" stroke-width="0.9" stroke-linejoin="round"/>
<path d="M424.3 172.14a1.4 1.4 0 1 0 2.8 0a1.4 1.4 0 1 0 -2.8 0M426.4 171.46a1.4 1.4 0 1 0 2.8 0a1.4 1.4 0 1 0 -2.8 0M428.5 174.86a1.4 1.4 0 1 0 2.8 0a1.4 1.4 0 1 0 -2.8 0M430.6 170.64a1.4 1.4 0 1 0 2.8 0a1.4 1.4 0 1 0 -2.8 0M432.7 172.32a1.4 1.4 0 1 0 2.8 0a1.4 1.4 0 1 0 -2.8 0M434.8 171.8a1.4 1.4 0 1 0 2.8 0a1.4 1.4 0 1 0 -2.8 0M436.9 172.04a1.4 1.4 0 1 0 2.8 0a1.4 1.4 0 1 0 -2.8 0M439 172.2a1.4 1.4 0 1 0 2.8 0a1.4 1.4 0 1 0 -2.8 0M441.1 171.28a1.4 1.4 0 1 0 2.8 0a1.4 1.4 0 1 0 -2.8 0M443.2 171.25a1.4 1.4 0 1 0 2.8 0a1.4 1.4 0 1 0 -2.8 0M445.3 170.74a1.4 1.4 0 1 0 2.8 0a1.4 1.4 0 1 0 -2.8 0M447.4 171.18a1.4 1.4 0 1 0 2.8 0a1.4 1.4 0 1 0 -2.8 0M449.5 170.23a1.4 1.4 0 1 0 2.8 0a1.4 1.4 0 1 0 -2.8 0M451.6 170.02a1.4 1.4 0 1 0 2.8 0a1.4 1.4 0 1 0 -2.8 0M453.7 170.24a1.4 1.4 0 1 0 2.8 0a1.4 1.4 0 1 0 -2.8 0M455.8 170.63a1.4 1.4 0 1 0 2.8 0a1.4 1.4 0 1 0 -2.8 0M457.9 170.47a1.4 1.4 0 1 0 2.8 0a1.4 1.4 0 1 0 -2.8 0M460 170a1.4 1.4 0 1 0 2.8 0a1.4 1.4 0 1 0 -2.8 0M462.1 169.68a1.4 1.4 0 1 0 2.8 0a1.4 1.4 0 1 0 -2.8 0M464.2 169.56a1.4 1.4 0 1 0 2.8 0a1.4 1.4 0 1 0 -2.8 0M466.3 169.54a1.4 1.4 0 1 0 2.8 0a1.4 1.4 0 1 0 -2.8 0M468.4 169.99a1.4 1.4 0 1 0 2.8 0a1.4 1.4 0 1 0 -2.8 0M470.5 169.4a1.4 1.4 0 1 0 2.8 0a1.4 1.4 0 1 0 -2.8 0M472.6 169.17a1.4 1.4 0 1 0 2.8 0a1.4 1.4 0 1 0 -2.8 0M474.7 168.48a1.4 1.4 0 1 0 2.8 0a1.4 1.4 0 1 0 -2.8 0M476.8 168.9a1.4 1.4 0 1 0 2.8 0a1.4 1.4 0 1 0 -2.8 0M478.9 168.89a1.4 1.4 0 1 0 2.8 0a1.4 1.4 0 1 0 -2.8 0M481 169.16a1.4 1.4 0 1 0 2.8 0a1.4 1.4 0 1 0 -2.8 0M483.1 168.5a1.4 1.4 0 1 0 2.8 0a1.4 1.4 0 1 0 -2.8 0M485.2 168.8a1.4 1.4 0 1 0 2.8 0a1.4 1.4 0 1 0 -2.8 0M487.3 169.77a1.4 1.4 0 1 0 2.8 0a1.4 1.4 0 1 0 -2.8 0M489.4 168.94a1.4 1.4 0 1 0 2.8 0a1.4 1.4 0 1 0 -2.8 0M491.5 168.35a1.4 1.4 0 1 0 2.8 0a1.4 1.4 0 1 0 -2.8 0M493.6 167.54a1.4 1.4 0 1 0 2.8 0a1.4 1.4 0 1 0 -2.8 0M495.7 167.92a1.4 1.4 0 1 0 2.8 0a1.4 1.4 0 1 0 -2.8 0M497.8 167.56a1.4 1.4 0 1 0 2.8 0a1.4 1.4 0 1 0 -2.8 0M499.9 167.43a1.4 1.4 0 1 0 2.8 0a1.4 1.4 0 1 0 -2.8 0M502 167.57a1.4 1.4 0 1 0 2.8 0a1.4 1.4 0 1 0 -2.8 0M504.1 167.25a1.4 1.4 0 1 0 2.8 0a1.4 1.4 0 1 0 -2.8 0M506.2 166.88a1.4 1.4 0 1 0 2.8 0a1.4 1.4 0 1 0 -2.8 0M508.3 167.72a1.4 1.4 0 1 0 2.8 0a1.4 1.4 0 1 0 -2.8 0M510.4 167.34a1.4 1.4 0 1 0 2.8 0a1.4 1.4 0 1 0 -2.8 0M512.5 167.91a1.4 1.4 0 1 0 2.8 0a1.4 1.4 0 1 0 -2.8 0M514.6 168.64a1.4 1.4 0 1 0 2.8 0a1.4 1.4 0 1 0 -2.8 0M516.7 169.94a1.4 1.4 0 1 0 2.8 0a1.4 1.4 0 1 0 -2.8 0M518.8 168.15a1.4 1.4 0 1 0 2.8 0a1.4 1.4 0 1 0 -2.8 0M520.9 167.41a1.4 1.4 0 1 0 2.8 0a1.4 1.4 0 1 0 -2.8 0M523 168.14a1.4 1.4 0 1 0 2.8 0a1.4 1.4 0 1 0 -2.8 0M525.1 167.28a1.4 1.4 0 1 0 2.8 0a1.4 1.4 0 1 0 -2.8 0M527.2 167.8a1.4 1.4 0 1 0 2.8 0a1.4 1.4 0 1 0 -2.8 0M529.3 167.44a1.4 1.4 0 1 0 2.8 0a1.4 1.4 0 1 0 -2.8 0M531.4 167.35a1.4 1.4 0 1 0 2.8 0a1.4 1.4 0 1 0 -2.8 0M533.5 168.07a1.4 1.4 0 1 0 2.8 0a1.4 1.4 0 1 0 -2.8 0M535.6 168.38a1.4 1.4 0 1 0 2.8 0a1.4 1.4 0 1 0 -2.8 0M537.7 170.31a1.4 1.4 0 1 0 2.8 0a1.4 1.4 0 1 0 -2.8 0M539.8 171.75a1.4 1.4 0 1 0 2.8 0a1.4 1.4 0 1 0 -2.8 0M541.9 170.27a1.4 1.4 0 1 0 2.8 0a1.4 1.4 0 1 0 -2.8 0M544 169a1.4 1.4 0 1 0 2.8 0a1.4 1.4 0 1 0 -2.8 0M546.1 168.59a1.4 1.4 0 1 0 2.8 0a1.4 1.4 0 1 0 -2.8 0M548.2 168.99a1.4 1.4 0 1 0 2.8 0a1.4 1.4 0 1 0 -2.8 0M550.3 168.51a1.4 1.4 0 1 0 2.8 0a1.4 1.4 0 1 0 -2.8 0M552.4 167.41a1.4 1.4 0 1 0 2.8 0a1.4 1.4 0 1 0 -2.8 0M554.5 166.95a1.4 1.4 0 1 0 2.8 0a1.4 1.4 0 1 0 -2.8 0M556.6 167.2a1.4 1.4 0 1 0 2.8 0a1.4 1.4 0 1 0 -2.8 0M558.7 168.04a1.4 1.4 0 1 0 2.8 0a1.4 1.4 0 1 0 -2.8 0M560.8 166.88a1.4 1.4 0 1 0 2.8 0a1.4 1.4 0 1 0 -2.8 0M562.9 168.49a1.4 1.4 0 1 0 2.8 0a1.4 1.4 0 1 0 -2.8 0M565 166.21a1.4 1.4 0 1 0 2.8 0a1.4 1.4 0 1 0 -2.8 0M567.1 167.03a1.4 1.4 0 1 0 2.8 0a1.4 1.4 0 1 0 -2.8 0M569.2 166.18a1.4 1.4 0 1 0 2.8 0a1.4 1.4 0 1 0 -2.8 0M571.3 166.65a1.4 1.4 0 1 0 2.8 0a1.4 1.4 0 1 0 -2.8 0M573.4 164.71a1.4 1.4 0 1 0 2.8 0a1.4 1.4 0 1 0 -2.8 0M575.5 161.95a1.4 1.4 0 1 0 2.8 0a1.4 1.4 0 1 0 -2.8 0" fill="#000000"/>
<path d="M424.3 172.44a1.4 1.4 0 1 0 2.8 0a1.4 1.4 0 1 0 -2.8 0M426.4 171.31a1.4 1.4 0 1 0 2.8 0a1.4 1.4 0 1 0 -2.8 0M428.5 172.37a1.4 1.4 0 1 0 2.8 0a1.4 1.4 0 1 0 -2.8 0M430.6 171.11a1.4 1.4 0 1 0 2.8 0a1.4 1.4 0 1 0 -2.8 0M432.7 171.81a1.4 1.4 0 1 0 2.8 0a1.4 1.4 0 1 0 -2.8 0M434.8 171.85a1.4 1.4 0 1 0 2.8 0a1.4 1.4 0 1 0 -2.8 0M436.9 171.83a1.4 1.4 0 1 0 2.8 0a1.4 1.4 0 1 0 -2.8 0M439 172.13a1.4 1.4 0 1 0 2.8 0a1.4 1.4 0 1 0 -2.8 0M441.1 171.4a1.4 1.4 0 1 0 2.8 0a1.4 1.4 0 1 0 -2.8 0M443.2 170.87a1.4 1.4 0 1 0 2.8 0a1.4 1.4 0 1 0 -2.8 0M445.3 170.8a1.4 1.4 0 1 0 2.8 0a1.4 1.4 0 1 0 -2.8 0M447.4 171.08a1.4 1.4 0 1 0 2.8 0a1.4 1.4 0 1 0 -2.8 0M449.5 170.22a1.4 1.4 0 1 0 2.8 0a1.4 1.4 0 1 0 -2.8 0M451.6 169.89a1.4 1.4 0 1 0 2.8 0a1.4 1.4 0 1 0 -2.8 0M453.7 170a1.4 1.4 0 1 0 2.8 0a1.4 1.4 0 1 0 -2.8 0M455.8 170.59a1.4 1.4 0 1 0 2.8 0a1.4 1.4 0 1 0 -2.8 0M457.9 170.52a1.4 1.4 0 1 0 2.8 0a1.4 1.4 0 1 0 -2.8 0M460 169.82a1.4 1.4 0 1 0 2.8 0a1.4 1.4 0 1 0 -2.8 0M462.1 169.68a1.4 1.4 0 1 0 2.8 0a1.4 1.4 0 1 0 -2.8 0M464.2 169.32a1.4 1.4 0 1 0 2.8 0a1.4 1.4 0 1 0 -2.8 0M466.3 169.5a1.4 1.4 0 1 0 2.8 0a1.4 1.4 0 1 0 -2.8 0M468.4 169.74a1.4 1.4 0 1 0 2.8 0a1.4 1.4 0 1 0 -2.8 0M470.5 169.33a1.4 1.4 0 1 0 2.8 0a1.4 1.4 0 1 0 -2.8 0M472.6 168.89a1.4 1.4 0 1 0 2.8 0a1.4 1.4 0 1 0 -2.8 0M474.7 168.35a1.4 1.4 0 1 0 2.8 0a1.4 1.4 0 1 0 -2.8 0M476.8 169.13a1.4 1.4 0 1 0 2.8 0a1.4 1.4 0 1 0 -2.8 0M478.9 168.77a1.4 1.4 0 1 0 2.8 0a1.4 1.4 0 1 0 -2.8 0M481 168.57a1.4 1.4 0 1 0 2.8 0a1.4 1.4 0 1 0 -2.8 0M483.1 168.04a1.4 1.4 0 1 0 2.8 0a1.4 1.4 0 1 0 -2.8 0M485.2 168.82a1.4 1.4 0 1 0 2.8 0a1.4 1.4 0 1 0 -2.8 0M487.3 169.45a1.4 1.4 0 1 0 2.8 0a1.4 1.4 0 1 0 -2.8 0M489.4 169a1.4 1.4 0 1 0 2.8 0a1.4 1.4 0 1 0 -2.8 0M491.5 168.1a1.4 1.4 0 1 0 2.8 0a1.4 1.4 0 1 0 -2.8 0M493.6 167.18a1.4 1.4 0 1 0 2.8 0a1.4 1.4 0 1 0 -2.8 0M495.7 167.7a1.4 1.4 0 1 0 2.8 0a1.4 1.4 0 1 0 -2.8 0M497.8 167.58a1.4 1.4 0 1 0 2.8 0a1.4 1.4 0 1 0 -2.8 0M499.9 167.71a1.4 1.4 0 1 0 2.8 0a1.4 1.4 0 1 0 -2.8 0M502 167.39a1.4 1.4 0 1 0 2.8 0a1.4 1.4 0 1 0 -2.8 0M504.1 167.3a1.4 1.4 0 1 0 2.8 0a1.4 1.4 0 1 0 -2.8 0M506.2 167.2a1.4 1.4 0 1 0 2.8 0a1.4 1.4 0 1 0 -2.8 0M508.3 167.57a1.4 1.4 0 1 0 2.8 0a1.4 1.4 0 1 0 -2.8 0M510.4 167.69a1.4 1.4 0 1 0 2.8 0a1.4 1.4 0 1 0 -2.8 0M512.5 168.22a1.4 1.4 0 1 0 2.8 0a1.4 1.4 0 1 0 -2.8 0M514.6 168.45a1.4 1.4 0 1 0 2.8 0a1.4 1.4 0 1 0 -2.8 0M516.7 169.57a1.4 1.4 0 1 0 2.8 0a1.4 1.4 0 1 0 -2.8 0M518.8 167.89a1.4 1.4 0 1 0 2.8 0a1.4 1.4 0 1 0 -2.8 0M520.9 167.21a1.4 1.4 0 1 0 2.8 0a1.4 1.4 0 1 0 -2.8 0M523 168.02a1.4 1.4 0 1 0 2.8 0a1.4 1.4 0 1 0 -2.8 0M525.1 167.19a1.4 1.4 0 1 0 2.8 0a1.4 1.4 0 1 0 -2.8 0M527.2 167.55a1.4 1.4 0 1 0 2.8 0a1.4 1.4 0 1 0 -2.8 0M529.3 167.98a1.4 1.4 0 1 0 2.8 0a1.4 1.4 0 1 0 -2.8 0M531.4 167.2a1.4 1.4 0 1 0 2.8 0a1.4 1.4 0 1 0 -2.8 0M533.5 167.58a1.4 1.4 0 1 0 2.8 0a1.4 1.4 0 1 0 -2.8 0M535.6 168.01a1.4 1.4 0 1 0 2.8 0a1.4 1.4 0 1 0 -2.8 0M537.7 170.19a1.4 1.4 0 1 0 2.8 0a1.4 1.4 0 1 0 -2.8 0M539.8 171.47a1.4 1.4 0 1 0 2.8 0a1.4 1.4 0 1 0 -2.8 0M541.9 169.49a1.4 1.4 0 1 0 2.8 0a1.4 1.4 0 1 0 -2.8 0M544 168.77a1.4 1.4 0 1 0 2.8 0a1.4 1.4 0 1 0 -2.8 0M546.1 168.63a1.4 1.4 0 1 0 2.8 0a1.4 1.4 0 1 0 -2.8 0M548.2 168.76a1.4 1.4 0 1 0 2.8 0a1.4 1.4 0 1 0 -2.8 0M550.3 168.56a1.4 1.4 0 1 0 2.8 0a1.4 1.4 0 1 0 -2.8 0M552.4 167.52a1.4 1.4 0 1 0 2.8 0a1.4 1.4 0 1 0 -2.8 0M554.5 167.13a1.4 1.4 0 1 0 2.8 0a1.4 1.4 0 1 0 -2.8 0M556.6 167.46a1.4 1.4 0 1 0 2.8 0a1.4 1.4 0 1 0 -2.8 0M558.7 168.39a1.4 1.4 0 1 0 2.8 0a1.4 1.4 0 1 0 -2.8 0M560.8 166.78a1.4 1.4 0 1 0 2.8 0a1.4 1.4 0 1 0 -2.8 0M562.9 168.74a1.4 1.4 0 1 0 2.8 0a1.4 1.4 0 1 0 -2.8 0M565 166.27a1.4 1.4 0 1 0 2.8 0a1.4 1.4 0 1 0 -2.8 0M567.1 166.93a1.4 1.4 0 1 0 2.8 0a1.4 1.4 0 1 0 -2.8 0M569.2 166.56a1.4 1.4 0 1 0 2.8 0a1.4 1.4 0 1 0 -2.8 0M571.3 166.53a1.4 1.4 0 1 0 2.8 0a1.4 1.4 0 1 0 -2.8 0M573.4 164.71a1.4 1.4 0 1 0 2.8 0a1.4 1.4 0 1 0 -2.8 0M575.5 161.98a1.4 1.4 0 1 0 2.8 0a1.4 1.4 0 1 0 -2.8 0" fill="#d20000"/>
<text x="576.4" y="165.52" font-size="9.1" text-anchor="start" fill="#000" stroke="#000" stroke-width="0.18">43.3</text>
<text x="576.4" y="173.12" font-size="9.1" text-anchor="start" fill="#e8202a" stroke="#e8202a" stroke-width="0.18">42.3</text>
<rect x="414.3" y="156.12" width="258" height="19.7" fill="none" stroke="#8a8a8a" stroke-width="0.9"/>
<rect x="672.3" y="156.12" width="13.7" height="19.7" fill="#d9d9d9" stroke="#333" stroke-width="0.9"/>
<text transform="translate(674.9 165.97) rotate(90)" font-size="10.6" text-anchor="middle" fill="#000" stroke="#000" stroke-width="0.25">80</text>
<line x1="412.1" y1="160.62" x2="414.3" y2="160.62" stroke="#333" stroke-width="0.8"/>
<text x="411.4" y="164.32" font-size="8.8" text-anchor="end" fill="#000" stroke="#000" stroke-width="0.2">100</text>
<line x1="412.1" y1="167.92" x2="414.3" y2="167.92" stroke="#333" stroke-width="0.8"/>
<text x="411.4" y="171.82" font-size="8.8" text-anchor="end" fill="#000" stroke="#000" stroke-width="0.2">1</text>
<line x1="414.3" y1="183.99" x2="672.3" y2="183.99" stroke="#bdbdbd" stroke-width="0.6" stroke-dasharray="0.9 1.5"/>
<line x1="414.3" y1="191.29" x2="672.3" y2="191.29" stroke="#bdbdbd" stroke-width="0.6" stroke-dasharray="0.9 1.5"/>
<line x1="461.4" y1="179.49" x2="461.4" y2="199.19" stroke="#bdbdbd" stroke-width="0.6" stroke-dasharray="0.9 1.5"/>
<line x1="513.9" y1="179.49" x2="513.9" y2="199.19" stroke="#bdbdbd" stroke-width="0.6" stroke-dasharray="0.9 1.5"/>
<line x1="566.4" y1="179.49" x2="566.4" y2="199.19" stroke="#bdbdbd" stroke-width="0.6" stroke-dasharray="0.9 1.5"/>
<line x1="618.9" y1="179.49" x2="618.9" y2="199.19" stroke="#bdbdbd" stroke-width="0.6" stroke-dasharray="0.9 1.5"/>
<line x1="597.8" y1="179.49" x2="597.8" y2="199.19" stroke="#8f8f8f" stroke-width="1.3"/>
<polyline points="425.7,194.13 427.8,192.55 429.9,192.13 432,191.31 434.1,192.34 436.2,191.9 438.3,192.27 440.4,192.95 442.5,192.21 444.6,192.26 446.7,192.13 448.8,192.33 450.9,191.68 453,191.86 455.1,192.5 457.2,191.99 459.3,192.57 461.4,192.3 463.5,192.75 465.6,192.7 467.7,191.77 469.8,193.29 471.9,193.08 474,193.44 476.1,193.86 478.2,193.97 480.3,192.9 482.4,192.91 484.5,192.64 486.6,191.86 488.7,193.1 490.8,191.89 492.9,191.97 495,192.08 497.1,192.05 499.2,191.34 501.3,191.27 503.4,191.03 505.5,190.91 507.6,191.64 509.7,191.82 511.8,191.29 513.9,192.29 516,191.9 518.1,192.34 520.2,191.3 522.3,190.94 524.4,191.76 526.5,191.31 528.6,191.15 530.7,190.36 532.8,192.3 534.9,190.99 537,191.84 539.1,191.89 541.2,192.16 543.3,192.19 545.4,191.71 547.5,191.7 549.6,191.25 551.7,190.95 553.8,191.68 555.9,192.27 558,192.19 560.1,192.13 562.2,191.34 564.3,192.01 566.4,193.36 568.5,193.54 570.6,192.61 572.7,192.91 574.8,192.65 576.9,192.34 579,192.41 581.1,192.43 583.2,192.81 585.3,192.71 587.4,192.28 589.5,192.38 591.6,192.61 593.7,192.21 595.8,189.9 597.9,185.33" fill="none" stroke="#000000" stroke-width="0.9" stroke-linejoin="round"/>
<polyline points="425.7,193.96 427.8,192.9 429.9,192.1 432,191.87 434.1,192.63 436.2,192.05 438.3,191.85 440.4,192.92 442.5,192.35 444.6,192.07 446.7,191.97 448.8,191.64 450.9,191.32 453,191.91 455.1,192.29 457.2,191.98 459.3,192.26 461.4,192.51 463.5,192.68 465.6,192.57 467.7,192.22 469.8,192.49 471.9,192.98 474,193.53 476.1,193.69 478.2,194.08 480.3,192.75 482.4,193.15 484.5,192.51 486.6,191.97 488.7,192.92 490.8,191.88 492.9,192.29 495,192.23 497.1,192 499.2,191.63 501.3,191.48 503.4,191.04 505.5,191.28 507.6,191.06 509.7,192.15 511.8,192.16 513.9,192.39 516,192.27 518.1,192.81 520.2,191.17 522.3,191.22 524.4,191.84 526.5,191.38 528.6,190.79 530.7,190.33 532.8,192.24 534.9,190.87 537,192.09 539.1,191.69 541.2,192.31 543.3,192.33 545.4,191.56 547.5,191.58 549.6,191.57 551.7,191.01 553.8,191.81 555.9,192.25 558,191.86 560.1,192.44 562.2,191.55 564.3,191.99 566.4,193.22 568.5,193.42 570.6,192.66 572.7,192.95 574.8,192.94 576.9,192.51 579,192.53 581.1,191.99 583.2,192.51 585.3,192.64 587.4,192.79 589.5,192.44 591.6,192.82 593.7,192.52 595.8,189.9 597.9,185.35" fill="none" stroke="#d20000" stroke-width="0.9" stroke-linejoin="round"/>
<path d="M424.3 194.13a1.4 1.4 0 1 0 2.8 0a1.4 1.4 0 1 0 -2.8 0M426.4 192.55a1.4 1.4 0 1 0 2.8 0a1.4 1.4 0 1 0 -2.8 0M428.5 192.13a1.4 1.4 0 1 0 2.8 0a1.4 1.4 0 1 0 -2.8 0M430.6 191.31a1.4 1.4 0 1 0 2.8 0a1.4 1.4 0 1 0 -2.8 0M432.7 192.34a1.4 1.4 0 1 0 2.8 0a1.4 1.4 0 1 0 -2.8 0M434.8 191.9a1.4 1.4 0 1 0 2.8 0a1.4 1.4 0 1 0 -2.8 0M436.9 192.27a1.4 1.4 0 1 0 2.8 0a1.4 1.4 0 1 0 -2.8 0M439 192.95a1.4 1.4 0 1 0 2.8 0a1.4 1.4 0 1 0 -2.8 0M441.1 192.21a1.4 1.4 0 1 0 2.8 0a1.4 1.4 0 1 0 -2.8 0M443.2 192.26a1.4 1.4 0 1 0 2.8 0a1.4 1.4 0 1 0 -2.8 0M445.3 192.13a1.4 1.4 0 1 0 2.8 0a1.4 1.4 0 1 0 -2.8 0M447.4 192.33a1.4 1.4 0 1 0 2.8 0a1.4 1.4 0 1 0 -2.8 0M449.5 191.68a1.4 1.4 0 1 0 2.8 0a1.4 1.4 0 1 0 -2.8 0M451.6 191.86a1.4 1.4 0 1 0 2.8 0a1.4 1.4 0 1 0 -2.8 0M453.7 192.5a1.4 1.4 0 1 0 2.8 0a1.4 1.4 0 1 0 -2.8 0M455.8 191.99a1.4 1.4 0 1 0 2.8 0a1.4 1.4 0 1 0 -2.8 0M457.9 192.57a1.4 1.4 0 1 0 2.8 0a1.4 1.4 0 1 0 -2.8 0M460 192.3a1.4 1.4 0 1 0 2.8 0a1.4 1.4 0 1 0 -2.8 0M462.1 192.75a1.4 1.4 0 1 0 2.8 0a1.4 1.4 0 1 0 -2.8 0M464.2 192.7a1.4 1.4 0 1 0 2.8 0a1.4 1.4 0 1 0 -2.8 0M466.3 191.77a1.4 1.4 0 1 0 2.8 0a1.4 1.4 0 1 0 -2.8 0M468.4 193.29a1.4 1.4 0 1 0 2.8 0a1.4 1.4 0 1 0 -2.8 0M470.5 193.08a1.4 1.4 0 1 0 2.8 0a1.4 1.4 0 1 0 -2.8 0M472.6 193.44a1.4 1.4 0 1 0 2.8 0a1.4 1.4 0 1 0 -2.8 0M474.7 193.86a1.4 1.4 0 1 0 2.8 0a1.4 1.4 0 1 0 -2.8 0M476.8 193.97a1.4 1.4 0 1 0 2.8 0a1.4 1.4 0 1 0 -2.8 0M478.9 192.9a1.4 1.4 0 1 0 2.8 0a1.4 1.4 0 1 0 -2.8 0M481 192.91a1.4 1.4 0 1 0 2.8 0a1.4 1.4 0 1 0 -2.8 0M483.1 192.64a1.4 1.4 0 1 0 2.8 0a1.4 1.4 0 1 0 -2.8 0M485.2 191.86a1.4 1.4 0 1 0 2.8 0a1.4 1.4 0 1 0 -2.8 0M487.3 193.1a1.4 1.4 0 1 0 2.8 0a1.4 1.4 0 1 0 -2.8 0M489.4 191.89a1.4 1.4 0 1 0 2.8 0a1.4 1.4 0 1 0 -2.8 0M491.5 191.97a1.4 1.4 0 1 0 2.8 0a1.4 1.4 0 1 0 -2.8 0M493.6 192.08a1.4 1.4 0 1 0 2.8 0a1.4 1.4 0 1 0 -2.8 0M495.7 192.05a1.4 1.4 0 1 0 2.8 0a1.4 1.4 0 1 0 -2.8 0M497.8 191.34a1.4 1.4 0 1 0 2.8 0a1.4 1.4 0 1 0 -2.8 0M499.9 191.27a1.4 1.4 0 1 0 2.8 0a1.4 1.4 0 1 0 -2.8 0M502 191.03a1.4 1.4 0 1 0 2.8 0a1.4 1.4 0 1 0 -2.8 0M504.1 190.91a1.4 1.4 0 1 0 2.8 0a1.4 1.4 0 1 0 -2.8 0M506.2 191.64a1.4 1.4 0 1 0 2.8 0a1.4 1.4 0 1 0 -2.8 0M508.3 191.82a1.4 1.4 0 1 0 2.8 0a1.4 1.4 0 1 0 -2.8 0M510.4 191.29a1.4 1.4 0 1 0 2.8 0a1.4 1.4 0 1 0 -2.8 0M512.5 192.29a1.4 1.4 0 1 0 2.8 0a1.4 1.4 0 1 0 -2.8 0M514.6 191.9a1.4 1.4 0 1 0 2.8 0a1.4 1.4 0 1 0 -2.8 0M516.7 192.34a1.4 1.4 0 1 0 2.8 0a1.4 1.4 0 1 0 -2.8 0M518.8 191.3a1.4 1.4 0 1 0 2.8 0a1.4 1.4 0 1 0 -2.8 0M520.9 190.94a1.4 1.4 0 1 0 2.8 0a1.4 1.4 0 1 0 -2.8 0M523 191.76a1.4 1.4 0 1 0 2.8 0a1.4 1.4 0 1 0 -2.8 0M525.1 191.31a1.4 1.4 0 1 0 2.8 0a1.4 1.4 0 1 0 -2.8 0M527.2 191.15a1.4 1.4 0 1 0 2.8 0a1.4 1.4 0 1 0 -2.8 0M529.3 190.36a1.4 1.4 0 1 0 2.8 0a1.4 1.4 0 1 0 -2.8 0M531.4 192.3a1.4 1.4 0 1 0 2.8 0a1.4 1.4 0 1 0 -2.8 0M533.5 190.99a1.4 1.4 0 1 0 2.8 0a1.4 1.4 0 1 0 -2.8 0M535.6 191.84a1.4 1.4 0 1 0 2.8 0a1.4 1.4 0 1 0 -2.8 0M537.7 191.89a1.4 1.4 0 1 0 2.8 0a1.4 1.4 0 1 0 -2.8 0M539.8 192.16a1.4 1.4 0 1 0 2.8 0a1.4 1.4 0 1 0 -2.8 0M541.9 192.19a1.4 1.4 0 1 0 2.8 0a1.4 1.4 0 1 0 -2.8 0M544 191.71a1.4 1.4 0 1 0 2.8 0a1.4 1.4 0 1 0 -2.8 0M546.1 191.7a1.4 1.4 0 1 0 2.8 0a1.4 1.4 0 1 0 -2.8 0M548.2 191.25a1.4 1.4 0 1 0 2.8 0a1.4 1.4 0 1 0 -2.8 0M550.3 190.95a1.4 1.4 0 1 0 2.8 0a1.4 1.4 0 1 0 -2.8 0M552.4 191.68a1.4 1.4 0 1 0 2.8 0a1.4 1.4 0 1 0 -2.8 0M554.5 192.27a1.4 1.4 0 1 0 2.8 0a1.4 1.4 0 1 0 -2.8 0M556.6 192.19a1.4 1.4 0 1 0 2.8 0a1.4 1.4 0 1 0 -2.8 0M558.7 192.13a1.4 1.4 0 1 0 2.8 0a1.4 1.4 0 1 0 -2.8 0M560.8 191.34a1.4 1.4 0 1 0 2.8 0a1.4 1.4 0 1 0 -2.8 0M562.9 192.01a1.4 1.4 0 1 0 2.8 0a1.4 1.4 0 1 0 -2.8 0M565 193.36a1.4 1.4 0 1 0 2.8 0a1.4 1.4 0 1 0 -2.8 0M567.1 193.54a1.4 1.4 0 1 0 2.8 0a1.4 1.4 0 1 0 -2.8 0M569.2 192.61a1.4 1.4 0 1 0 2.8 0a1.4 1.4 0 1 0 -2.8 0M571.3 192.91a1.4 1.4 0 1 0 2.8 0a1.4 1.4 0 1 0 -2.8 0M573.4 192.65a1.4 1.4 0 1 0 2.8 0a1.4 1.4 0 1 0 -2.8 0M575.5 192.34a1.4 1.4 0 1 0 2.8 0a1.4 1.4 0 1 0 -2.8 0M577.6 192.41a1.4 1.4 0 1 0 2.8 0a1.4 1.4 0 1 0 -2.8 0M579.7 192.43a1.4 1.4 0 1 0 2.8 0a1.4 1.4 0 1 0 -2.8 0M581.8 192.81a1.4 1.4 0 1 0 2.8 0a1.4 1.4 0 1 0 -2.8 0M583.9 192.71a1.4 1.4 0 1 0 2.8 0a1.4 1.4 0 1 0 -2.8 0M586 192.28a1.4 1.4 0 1 0 2.8 0a1.4 1.4 0 1 0 -2.8 0M588.1 192.38a1.4 1.4 0 1 0 2.8 0a1.4 1.4 0 1 0 -2.8 0M590.2 192.61a1.4 1.4 0 1 0 2.8 0a1.4 1.4 0 1 0 -2.8 0M592.3 192.21a1.4 1.4 0 1 0 2.8 0a1.4 1.4 0 1 0 -2.8 0M594.4 189.9a1.4 1.4 0 1 0 2.8 0a1.4 1.4 0 1 0 -2.8 0M596.5 185.33a1.4 1.4 0 1 0 2.8 0a1.4 1.4 0 1 0 -2.8 0" fill="#000000"/>
<path d="M424.3 193.96a1.4 1.4 0 1 0 2.8 0a1.4 1.4 0 1 0 -2.8 0M426.4 192.9a1.4 1.4 0 1 0 2.8 0a1.4 1.4 0 1 0 -2.8 0M428.5 192.1a1.4 1.4 0 1 0 2.8 0a1.4 1.4 0 1 0 -2.8 0M430.6 191.87a1.4 1.4 0 1 0 2.8 0a1.4 1.4 0 1 0 -2.8 0M432.7 192.63a1.4 1.4 0 1 0 2.8 0a1.4 1.4 0 1 0 -2.8 0M434.8 192.05a1.4 1.4 0 1 0 2.8 0a1.4 1.4 0 1 0 -2.8 0M436.9 191.85a1.4 1.4 0 1 0 2.8 0a1.4 1.4 0 1 0 -2.8 0M439 192.92a1.4 1.4 0 1 0 2.8 0a1.4 1.4 0 1 0 -2.8 0M441.1 192.35a1.4 1.4 0 1 0 2.8 0a1.4 1.4 0 1 0 -2.8 0M443.2 192.07a1.4 1.4 0 1 0 2.8 0a1.4 1.4 0 1 0 -2.8 0M445.3 191.97a1.4 1.4 0 1 0 2.8 0a1.4 1.4 0 1 0 -2.8 0M447.4 191.64a1.4 1.4 0 1 0 2.8 0a1.4 1.4 0 1 0 -2.8 0M449.5 191.32a1.4 1.4 0 1 0 2.8 0a1.4 1.4 0 1 0 -2.8 0M451.6 191.91a1.4 1.4 0 1 0 2.8 0a1.4 1.4 0 1 0 -2.8 0M453.7 192.29a1.4 1.4 0 1 0 2.8 0a1.4 1.4 0 1 0 -2.8 0M455.8 191.98a1.4 1.4 0 1 0 2.8 0a1.4 1.4 0 1 0 -2.8 0M457.9 192.26a1.4 1.4 0 1 0 2.8 0a1.4 1.4 0 1 0 -2.8 0M460 192.51a1.4 1.4 0 1 0 2.8 0a1.4 1.4 0 1 0 -2.8 0M462.1 192.68a1.4 1.4 0 1 0 2.8 0a1.4 1.4 0 1 0 -2.8 0M464.2 192.57a1.4 1.4 0 1 0 2.8 0a1.4 1.4 0 1 0 -2.8 0M466.3 192.22a1.4 1.4 0 1 0 2.8 0a1.4 1.4 0 1 0 -2.8 0M468.4 192.49a1.4 1.4 0 1 0 2.8 0a1.4 1.4 0 1 0 -2.8 0M470.5 192.98a1.4 1.4 0 1 0 2.8 0a1.4 1.4 0 1 0 -2.8 0M472.6 193.53a1.4 1.4 0 1 0 2.8 0a1.4 1.4 0 1 0 -2.8 0M474.7 193.69a1.4 1.4 0 1 0 2.8 0a1.4 1.4 0 1 0 -2.8 0M476.8 194.08a1.4 1.4 0 1 0 2.8 0a1.4 1.4 0 1 0 -2.8 0M478.9 192.75a1.4 1.4 0 1 0 2.8 0a1.4 1.4 0 1 0 -2.8 0M481 193.15a1.4 1.4 0 1 0 2.8 0a1.4 1.4 0 1 0 -2.8 0M483.1 192.51a1.4 1.4 0 1 0 2.8 0a1.4 1.4 0 1 0 -2.8 0M485.2 191.97a1.4 1.4 0 1 0 2.8 0a1.4 1.4 0 1 0 -2.8 0M487.3 192.92a1.4 1.4 0 1 0 2.8 0a1.4 1.4 0 1 0 -2.8 0M489.4 191.88a1.4 1.4 0 1 0 2.8 0a1.4 1.4 0 1 0 -2.8 0M491.5 192.29a1.4 1.4 0 1 0 2.8 0a1.4 1.4 0 1 0 -2.8 0M493.6 192.23a1.4 1.4 0 1 0 2.8 0a1.4 1.4 0 1 0 -2.8 0M495.7 192a1.4 1.4 0 1 0 2.8 0a1.4 1.4 0 1 0 -2.8 0M497.8 191.63a1.4 1.4 0 1 0 2.8 0a1.4 1.4 0 1 0 -2.8 0M499.9 191.48a1.4 1.4 0 1 0 2.8 0a1.4 1.4 0 1 0 -2.8 0M502 191.04a1.4 1.4 0 1 0 2.8 0a1.4 1.4 0 1 0 -2.8 0M504.1 191.28a1.4 1.4 0 1 0 2.8 0a1.4 1.4 0 1 0 -2.8 0M506.2 191.06a1.4 1.4 0 1 0 2.8 0a1.4 1.4 0 1 0 -2.8 0M508.3 192.15a1.4 1.4 0 1 0 2.8 0a1.4 1.4 0 1 0 -2.8 0M510.4 192.16a1.4 1.4 0 1 0 2.8 0a1.4 1.4 0 1 0 -2.8 0M512.5 192.39a1.4 1.4 0 1 0 2.8 0a1.4 1.4 0 1 0 -2.8 0M514.6 192.27a1.4 1.4 0 1 0 2.8 0a1.4 1.4 0 1 0 -2.8 0M516.7 192.81a1.4 1.4 0 1 0 2.8 0a1.4 1.4 0 1 0 -2.8 0M518.8 191.17a1.4 1.4 0 1 0 2.8 0a1.4 1.4 0 1 0 -2.8 0M520.9 191.22a1.4 1.4 0 1 0 2.8 0a1.4 1.4 0 1 0 -2.8 0M523 191.84a1.4 1.4 0 1 0 2.8 0a1.4 1.4 0 1 0 -2.8 0M525.1 191.38a1.4 1.4 0 1 0 2.8 0a1.4 1.4 0 1 0 -2.8 0M527.2 190.79a1.4 1.4 0 1 0 2.8 0a1.4 1.4 0 1 0 -2.8 0M529.3 190.33a1.4 1.4 0 1 0 2.8 0a1.4 1.4 0 1 0 -2.8 0M531.4 192.24a1.4 1.4 0 1 0 2.8 0a1.4 1.4 0 1 0 -2.8 0M533.5 190.87a1.4 1.4 0 1 0 2.8 0a1.4 1.4 0 1 0 -2.8 0M535.6 192.09a1.4 1.4 0 1 0 2.8 0a1.4 1.4 0 1 0 -2.8 0M537.7 191.69a1.4 1.4 0 1 0 2.8 0a1.4 1.4 0 1 0 -2.8 0M539.8 192.31a1.4 1.4 0 1 0 2.8 0a1.4 1.4 0 1 0 -2.8 0M541.9 192.33a1.4 1.4 0 1 0 2.8 0a1.4 1.4 0 1 0 -2.8 0M544 191.56a1.4 1.4 0 1 0 2.8 0a1.4 1.4 0 1 0 -2.8 0M546.1 191.58a1.4 1.4 0 1 0 2.8 0a1.4 1.4 0 1 0 -2.8 0M548.2 191.57a1.4 1.4 0 1 0 2.8 0a1.4 1.4 0 1 0 -2.8 0M550.3 191.01a1.4 1.4 0 1 0 2.8 0a1.4 1.4 0 1 0 -2.8 0M552.4 191.81a1.4 1.4 0 1 0 2.8 0a1.4 1.4 0 1 0 -2.8 0M554.5 192.25a1.4 1.4 0 1 0 2.8 0a1.4 1.4 0 1 0 -2.8 0M556.6 191.86a1.4 1.4 0 1 0 2.8 0a1.4 1.4 0 1 0 -2.8 0M558.7 192.44a1.4 1.4 0 1 0 2.8 0a1.4 1.4 0 1 0 -2.8 0M560.8 191.55a1.4 1.4 0 1 0 2.8 0a1.4 1.4 0 1 0 -2.8 0M562.9 191.99a1.4 1.4 0 1 0 2.8 0a1.4 1.4 0 1 0 -2.8 0M565 193.22a1.4 1.4 0 1 0 2.8 0a1.4 1.4 0 1 0 -2.8 0M567.1 193.42a1.4 1.4 0 1 0 2.8 0a1.4 1.4 0 1 0 -2.8 0M569.2 192.66a1.4 1.4 0 1 0 2.8 0a1.4 1.4 0 1 0 -2.8 0M571.3 192.95a1.4 1.4 0 1 0 2.8 0a1.4 1.4 0 1 0 -2.8 0M573.4 192.94a1.4 1.4 0 1 0 2.8 0a1.4 1.4 0 1 0 -2.8 0M575.5 192.51a1.4 1.4 0 1 0 2.8 0a1.4 1.4 0 1 0 -2.8 0M577.6 192.53a1.4 1.4 0 1 0 2.8 0a1.4 1.4 0 1 0 -2.8 0M579.7 191.99a1.4 1.4 0 1 0 2.8 0a1.4 1.4 0 1 0 -2.8 0M581.8 192.51a1.4 1.4 0 1 0 2.8 0a1.4 1.4 0 1 0 -2.8 0M583.9 192.64a1.4 1.4 0 1 0 2.8 0a1.4 1.4 0 1 0 -2.8 0M586 192.79a1.4 1.4 0 1 0 2.8 0a1.4 1.4 0 1 0 -2.8 0M588.1 192.44a1.4 1.4 0 1 0 2.8 0a1.4 1.4 0 1 0 -2.8 0M590.2 192.82a1.4 1.4 0 1 0 2.8 0a1.4 1.4 0 1 0 -2.8 0M592.3 192.52a1.4 1.4 0 1 0 2.8 0a1.4 1.4 0 1 0 -2.8 0M594.4 189.9a1.4 1.4 0 1 0 2.8 0a1.4 1.4 0 1 0 -2.8 0M596.5 185.35a1.4 1.4 0 1 0 2.8 0a1.4 1.4 0 1 0 -2.8 0" fill="#d20000"/>
<text x="598.9" y="189.14" font-size="9.1" text-anchor="start" fill="#000" stroke="#000" stroke-width="0.18">42.9</text>
<text x="598.9" y="196.94" font-size="9.1" text-anchor="start" fill="#e8202a" stroke="#e8202a" stroke-width="0.18">42.4</text>
<rect x="414.3" y="179.49" width="258" height="19.7" fill="none" stroke="#8a8a8a" stroke-width="0.9"/>
<rect x="672.3" y="179.49" width="13.7" height="19.7" fill="#d9d9d9" stroke="#333" stroke-width="0.9"/>
<text transform="translate(674.9 189.34) rotate(90)" font-size="10.6" text-anchor="middle" fill="#000" stroke="#000" stroke-width="0.25">90</text>
<line x1="412.1" y1="183.99" x2="414.3" y2="183.99" stroke="#333" stroke-width="0.8"/>
<text x="411.4" y="187.69" font-size="8.8" text-anchor="end" fill="#000" stroke="#000" stroke-width="0.2">100</text>
<line x1="412.1" y1="191.29" x2="414.3" y2="191.29" stroke="#333" stroke-width="0.8"/>
<text x="411.4" y="195.19" font-size="8.8" text-anchor="end" fill="#000" stroke="#000" stroke-width="0.2">1</text>
<line x1="414.3" y1="207.36" x2="672.3" y2="207.36" stroke="#bdbdbd" stroke-width="0.6" stroke-dasharray="0.9 1.5"/>
<line x1="414.3" y1="214.66" x2="672.3" y2="214.66" stroke="#bdbdbd" stroke-width="0.6" stroke-dasharray="0.9 1.5"/>
<line x1="461.4" y1="202.86" x2="461.4" y2="222.56" stroke="#bdbdbd" stroke-width="0.6" stroke-dasharray="0.9 1.5"/>
<line x1="513.9" y1="202.86" x2="513.9" y2="222.56" stroke="#bdbdbd" stroke-width="0.6" stroke-dasharray="0.9 1.5"/>
<line x1="566.4" y1="202.86" x2="566.4" y2="222.56" stroke="#bdbdbd" stroke-width="0.6" stroke-dasharray="0.9 1.5"/>
<line x1="618.9" y1="202.86" x2="618.9" y2="222.56" stroke="#bdbdbd" stroke-width="0.6" stroke-dasharray="0.9 1.5"/>
<line x1="618.8" y1="202.86" x2="618.8" y2="222.56" stroke="#8f8f8f" stroke-width="1.3"/>
<polyline points="425.7,220.31 427.8,218.13 429.9,218.77 432,219.59 434.1,218.43 436.2,218.46 438.3,216.12 440.4,217.72 442.5,216.96 444.6,217.05 446.7,217.53 448.8,217.59 450.9,217.13 453,216.56 455.1,217.33 457.2,216.48 459.3,216.2 461.4,215.98 463.5,215.8 465.6,216.41 467.7,215.17 469.8,215.39 471.9,215.28 474,214.8 476.1,215.36 478.2,215.31 480.3,215.13 482.4,215.07 484.5,213.9 486.6,214.29 488.7,213.78 490.8,214.55 492.9,214.93 495,214.26 497.1,213.4 499.2,214.88 501.3,214.55 503.4,214.47 505.5,214.78 507.6,214.91 509.7,214.76 511.8,214.11 513.9,214.92 516,214.29 518.1,214.36 520.2,214.64 522.3,215.29 524.4,216.11 526.5,215.55 528.6,214.46 530.7,213.81 532.8,213.98 534.9,213.68 537,213.91 539.1,214.08 541.2,214.69 543.3,215.18 545.4,215.24 547.5,214.06 549.6,214.53 551.7,214.66 553.8,215.54 555.9,214.76 558,215.45 560.1,214.92 562.2,214.87 564.3,215.12 566.4,216.04 568.5,216.53 570.6,215.86 572.7,216.43 574.8,216.11 576.9,215.95 579,216.14 581.1,215.74 583.2,214.94 585.3,214.89 587.4,215.78 589.5,215.35 591.6,216.61 593.7,215.76 595.8,216.09 597.9,216.26 600,216.56 602.1,215.29 604.2,215.96 606.3,216.19 608.4,215.35 610.5,215.16 612.6,215.62 614.7,214.82 616.8,212.29 618.9,208.61" fill="none" stroke="#000000" stroke-width="0.9" stroke-linejoin="round"/>
<polyline points="425.7,220.19 427.8,218 429.9,218.26 432,218.64 434.1,218.14 436.2,218.31 438.3,216.6 440.4,217.9 442.5,217.14 444.6,216.9 446.7,217.42 448.8,217.66 450.9,217 453,216.64 455.1,217.59 457.2,216.47 459.3,216 461.4,216.01 463.5,216.14 465.6,216.41 467.7,215.49 469.8,215.45 471.9,215.17 474,215.04 476.1,215.42 478.2,215.7 480.3,215.31 482.4,214.89 484.5,213.78 486.6,214.42 488.7,214.28 490.8,214.7 492.9,214.71 495,214.6 497.1,213.42 499.2,215.07 501.3,214.63 503.4,214.05 505.5,214.48 507.6,214.79 509.7,214.57 511.8,214.26 513.9,214.91 516,214.71 518.1,214.08 520.2,214.27 522.3,215.34 524.4,215.7 526.5,215.48 528.6,214.39 530.7,213.7 532.8,213.97 534.9,213.99 537,213.96 539.1,213.94 541.2,214.82 543.3,215.27 545.4,215.42 547.5,213.73 549.6,214.53 551.7,214.61 553.8,215.55 555.9,214.8 558,215.2 560.1,215 562.2,214.65 564.3,214.92 566.4,216.18 568.5,216.81 570.6,215.76 572.7,216.32 574.8,216.23 576.9,215.24 579,215.8 581.1,216.13 583.2,214.48 585.3,215.08 587.4,215.82 589.5,215.61 591.6,216.62 593.7,215.8 595.8,216.15 597.9,216.22 600,216.03 602.1,215.79 604.2,216.22 606.3,216.13 608.4,215.44 610.5,215.29 612.6,215.62 614.7,214.67 616.8,212.29 618.9,208.73" fill="none" stroke="#d20000" stroke-width="0.9" stroke-linejoin="round"/>
<path d="M424.3 220.31a1.4 1.4 0 1 0 2.8 0a1.4 1.4 0 1 0 -2.8 0M426.4 218.13a1.4 1.4 0 1 0 2.8 0a1.4 1.4 0 1 0 -2.8 0M428.5 218.77a1.4 1.4 0 1 0 2.8 0a1.4 1.4 0 1 0 -2.8 0M430.6 219.59a1.4 1.4 0 1 0 2.8 0a1.4 1.4 0 1 0 -2.8 0M432.7 218.43a1.4 1.4 0 1 0 2.8 0a1.4 1.4 0 1 0 -2.8 0M434.8 218.46a1.4 1.4 0 1 0 2.8 0a1.4 1.4 0 1 0 -2.8 0M436.9 216.12a1.4 1.4 0 1 0 2.8 0a1.4 1.4 0 1 0 -2.8 0M439 217.72a1.4 1.4 0 1 0 2.8 0a1.4 1.4 0 1 0 -2.8 0M441.1 216.96a1.4 1.4 0 1 0 2.8 0a1.4 1.4 0 1 0 -2.8 0M443.2 217.05a1.4 1.4 0 1 0 2.8 0a1.4 1.4 0 1 0 -2.8 0M445.3 217.53a1.4 1.4 0 1 0 2.8 0a1.4 1.4 0 1 0 -2.8 0M447.4 217.59a1.4 1.4 0 1 0 2.8 0a1.4 1.4 0 1 0 -2.8 0M449.5 217.13a1.4 1.4 0 1 0 2.8 0a1.4 1.4 0 1 0 -2.8 0M451.6 216.56a1.4 1.4 0 1 0 2.8 0a1.4 1.4 0 1 0 -2.8 0M453.7 217.33a1.4 1.4 0 1 0 2.8 0a1.4 1.4 0 1 0 -2.8 0M455.8 216.48a1.4 1.4 0 1 0 2.8 0a1.4 1.4 0 1 0 -2.8 0M457.9 216.2a1.4 1.4 0 1 0 2.8 0a1.4 1.4 0 1 0 -2.8 0M460 215.98a1.4 1.4 0 1 0 2.8 0a1.4 1.4 0 1 0 -2.8 0M462.1 215.8a1.4 1.4 0 1 0 2.8 0a1.4 1.4 0 1 0 -2.8 0M464.2 216.41a1.4 1.4 0 1 0 2.8 0a1.4 1.4 0 1 0 -2.8 0M466.3 215.17a1.4 1.4 0 1 0 2.8 0a1.4 1.4 0 1 0 -2.8 0M468.4 215.39a1.4 1.4 0 1 0 2.8 0a1.4 1.4 0 1 0 -2.8 0M470.5 215.28a1.4 1.4 0 1 0 2.8 0a1.4 1.4 0 1 0 -2.8 0M472.6 214.8a1.4 1.4 0 1 0 2.8 0a1.4 1.4 0 1 0 -2.8 0M474.7 215.36a1.4 1.4 0 1 0 2.8 0a1.4 1.4 0 1 0 -2.8 0M476.8 215.31a1.4 1.4 0 1 0 2.8 0a1.4 1.4 0 1 0 -2.8 0M478.9 215.13a1.4 1.4 0 1 0 2.8 0a1.4 1.4 0 1 0 -2.8 0M481 215.07a1.4 1.4 0 1 0 2.8 0a1.4 1.4 0 1 0 -2.8 0M483.1 213.9a1.4 1.4 0 1 0 2.8 0a1.4 1.4 0 1 0 -2.8 0M485.2 214.29a1.4 1.4 0 1 0 2.8 0a1.4 1.4 0 1 0 -2.8 0M487.3 213.78a1.4 1.4 0 1 0 2.8 0a1.4 1.4 0 1 0 -2.8 0M489.4 214.55a1.4 1.4 0 1 0 2.8 0a1.4 1.4 0 1 0 -2.8 0M491.5 214.93a1.4 1.4 0 1 0 2.8 0a1.4 1.4 0 1 0 -2.8 0M493.6 214.26a1.4 1.4 0 1 0 2.8 0a1.4 1.4 0 1 0 -2.8 0M495.7 213.4a1.4 1.4 0 1 0 2.8 0a1.4 1.4 0 1 0 -2.8 0M497.8 214.88a1.4 1.4 0 1 0 2.8 0a1.4 1.4 0 1 0 -2.8 0M499.9 214.55a1.4 1.4 0 1 0 2.8 0a1.4 1.4 0 1 0 -2.8 0M502 214.47a1.4 1.4 0 1 0 2.8 0a1.4 1.4 0 1 0 -2.8 0M504.1 214.78a1.4 1.4 0 1 0 2.8 0a1.4 1.4 0 1 0 -2.8 0M506.2 214.91a1.4 1.4 0 1 0 2.8 0a1.4 1.4 0 1 0 -2.8 0M508.3 214.76a1.4 1.4 0 1 0 2.8 0a1.4 1.4 0 1 0 -2.8 0M510.4 214.11a1.4 1.4 0 1 0 2.8 0a1.4 1.4 0 1 0 -2.8 0M512.5 214.92a1.4 1.4 0 1 0 2.8 0a1.4 1.4 0 1 0 -2.8 0M514.6 214.29a1.4 1.4 0 1 0 2.8 0a1.4 1.4 0 1 0 -2.8 0M516.7 214.36a1.4 1.4 0 1 0 2.8 0a1.4 1.4 0 1 0 -2.8 0M518.8 214.64a1.4 1.4 0 1 0 2.8 0a1.4 1.4 0 1 0 -2.8 0M520.9 215.29a1.4 1.4 0 1 0 2.8 0a1.4 1.4 0 1 0 -2.8 0M523 216.11a1.4 1.4 0 1 0 2.8 0a1.4 1.4 0 1 0 -2.8 0M525.1 215.55a1.4 1.4 0 1 0 2.8 0a1.4 1.4 0 1 0 -2.8 0M527.2 214.46a1.4 1.4 0 1 0 2.8 0a1.4 1.4 0 1 0 -2.8 0M529.3 213.81a1.4 1.4 0 1 0 2.8 0a1.4 1.4 0 1 0 -2.8 0M531.4 213.98a1.4 1.4 0 1 0 2.8 0a1.4 1.4 0 1 0 -2.8 0M533.5 213.68a1.4 1.4 0 1 0 2.8 0a1.4 1.4 0 1 0 -2.8 0M535.6 213.91a1.4 1.4 0 1 0 2.8 0a1.4 1.4 0 1 0 -2.8 0M537.7 214.08a1.4 1.4 0 1 0 2.8 0a1.4 1.4 0 1 0 -2.8 0M539.8 214.69a1.4 1.4 0 1 0 2.8 0a1.4 1.4 0 1 0 -2.8 0M541.9 215.18a1.4 1.4 0 1 0 2.8 0a1.4 1.4 0 1 0 -2.8 0M544 215.24a1.4 1.4 0 1 0 2.8 0a1.4 1.4 0 1 0 -2.8 0M546.1 214.06a1.4 1.4 0 1 0 2.8 0a1.4 1.4 0 1 0 -2.8 0M548.2 214.53a1.4 1.4 0 1 0 2.8 0a1.4 1.4 0 1 0 -2.8 0M550.3 214.66a1.4 1.4 0 1 0 2.8 0a1.4 1.4 0 1 0 -2.8 0M552.4 215.54a1.4 1.4 0 1 0 2.8 0a1.4 1.4 0 1 0 -2.8 0M554.5 214.76a1.4 1.4 0 1 0 2.8 0a1.4 1.4 0 1 0 -2.8 0M556.6 215.45a1.4 1.4 0 1 0 2.8 0a1.4 1.4 0 1 0 -2.8 0M558.7 214.92a1.4 1.4 0 1 0 2.8 0a1.4 1.4 0 1 0 -2.8 0M560.8 214.87a1.4 1.4 0 1 0 2.8 0a1.4 1.4 0 1 0 -2.8 0M562.9 215.12a1.4 1.4 0 1 0 2.8 0a1.4 1.4 0 1 0 -2.8 0M565 216.04a1.4 1.4 0 1 0 2.8 0a1.4 1.4 0 1 0 -2.8 0M567.1 216.53a1.4 1.4 0 1 0 2.8 0a1.4 1.4 0 1 0 -2.8 0M569.2 215.86a1.4 1.4 0 1 0 2.8 0a1.4 1.4 0 1 0 -2.8 0M571.3 216.43a1.4 1.4 0 1 0 2.8 0a1.4 1.4 0 1 0 -2.8 0M573.4 216.11a1.4 1.4 0 1 0 2.8 0a1.4 1.4 0 1 0 -2.8 0M575.5 215.95a1.4 1.4 0 1 0 2.8 0a1.4 1.4 0 1 0 -2.8 0M577.6 216.14a1.4 1.4 0 1 0 2.8 0a1.4 1.4 0 1 0 -2.8 0M579.7 215.74a1.4 1.4 0 1 0 2.8 0a1.4 1.4 0 1 0 -2.8 0M581.8 214.94a1.4 1.4 0 1 0 2.8 0a1.4 1.4 0 1 0 -2.8 0M583.9 214.89a1.4 1.4 0 1 0 2.8 0a1.4 1.4 0 1 0 -2.8 0M586 215.78a1.4 1.4 0 1 0 2.8 0a1.4 1.4 0 1 0 -2.8 0M588.1 215.35a1.4 1.4 0 1 0 2.8 0a1.4 1.4 0 1 0 -2.8 0M590.2 216.61a1.4 1.4 0 1 0 2.8 0a1.4 1.4 0 1 0 -2.8 0M592.3 215.76a1.4 1.4 0 1 0 2.8 0a1.4 1.4 0 1 0 -2.8 0M594.4 216.09a1.4 1.4 0 1 0 2.8 0a1.4 1.4 0 1 0 -2.8 0M596.5 216.26a1.4 1.4 0 1 0 2.8 0a1.4 1.4 0 1 0 -2.8 0M598.6 216.56a1.4 1.4 0 1 0 2.8 0a1.4 1.4 0 1 0 -2.8 0M600.7 215.29a1.4 1.4 0 1 0 2.8 0a1.4 1.4 0 1 0 -2.8 0M602.8 215.96a1.4 1.4 0 1 0 2.8 0a1.4 1.4 0 1 0 -2.8 0M604.9 216.19a1.4 1.4 0 1 0 2.8 0a1.4 1.4 0 1 0 -2.8 0M607 215.35a1.4 1.4 0 1 0 2.8 0a1.4 1.4 0 1 0 -2.8 0M609.1 215.16a1.4 1.4 0 1 0 2.8 0a1.4 1.4 0 1 0 -2.8 0M611.2 215.62a1.4 1.4 0 1 0 2.8 0a1.4 1.4 0 1 0 -2.8 0M613.3 214.82a1.4 1.4 0 1 0 2.8 0a1.4 1.4 0 1 0 -2.8 0M615.4 212.29a1.4 1.4 0 1 0 2.8 0a1.4 1.4 0 1 0 -2.8 0M617.5 208.61a1.4 1.4 0 1 0 2.8 0a1.4 1.4 0 1 0 -2.8 0" fill="#000000"/>
<path d="M424.3 220.19a1.4 1.4 0 1 0 2.8 0a1.4 1.4 0 1 0 -2.8 0M426.4 218a1.4 1.4 0 1 0 2.8 0a1.4 1.4 0 1 0 -2.8 0M428.5 218.26a1.4 1.4 0 1 0 2.8 0a1.4 1.4 0 1 0 -2.8 0M430.6 218.64a1.4 1.4 0 1 0 2.8 0a1.4 1.4 0 1 0 -2.8 0M432.7 218.14a1.4 1.4 0 1 0 2.8 0a1.4 1.4 0 1 0 -2.8 0M434.8 218.31a1.4 1.4 0 1 0 2.8 0a1.4 1.4 0 1 0 -2.8 0M436.9 216.6a1.4 1.4 0 1 0 2.8 0a1.4 1.4 0 1 0 -2.8 0M439 217.9a1.4 1.4 0 1 0 2.8 0a1.4 1.4 0 1 0 -2.8 0M441.1 217.14a1.4 1.4 0 1 0 2.8 0a1.4 1.4 0 1 0 -2.8 0M443.2 216.9a1.4 1.4 0 1 0 2.8 0a1.4 1.4 0 1 0 -2.8 0M445.3 217.42a1.4 1.4 0 1 0 2.8 0a1.4 1.4 0 1 0 -2.8 0M447.4 217.66a1.4 1.4 0 1 0 2.8 0a1.4 1.4 0 1 0 -2.8 0M449.5 217a1.4 1.4 0 1 0 2.8 0a1.4 1.4 0 1 0 -2.8 0M451.6 216.64a1.4 1.4 0 1 0 2.8 0a1.4 1.4 0 1 0 -2.8 0M453.7 217.59a1.4 1.4 0 1 0 2.8 0a1.4 1.4 0 1 0 -2.8 0M455.8 216.47a1.4 1.4 0 1 0 2.8 0a1.4 1.4 0 1 0 -2.8 0M457.9 216a1.4 1.4 0 1 0 2.8 0a1.4 1.4 0 1 0 -2.8 0M460 216.01a1.4 1.4 0 1 0 2.8 0a1.4 1.4 0 1 0 -2.8 0M462.1 216.14a1.4 1.4 0 1 0 2.8 0a1.4 1.4 0 1 0 -2.8 0M464.2 216.41a1.4 1.4 0 1 0 2.8 0a1.4 1.4 0 1 0 -2.8 0M466.3 215.49a1.4 1.4 0 1 0 2.8 0a1.4 1.4 0 1 0 -2.8 0M468.4 215.45a1.4 1.4 0 1 0 2.8 0a1.4 1.4 0 1 0 -2.8 0M470.5 215.17a1.4 1.4 0 1 0 2.8 0a1.4 1.4 0 1 0 -2.8 0M472.6 215.04a1.4 1.4 0 1 0 2.8 0a1.4 1.4 0 1 0 -2.8 0M474.7 215.42a1.4 1.4 0 1 0 2.8 0a1.4 1.4 0 1 0 -2.8 0M476.8 215.7a1.4 1.4 0 1 0 2.8 0a1.4 1.4 0 1 0 -2.8 0M478.9 215.31a1.4 1.4 0 1 0 2.8 0a1.4 1.4 0 1 0 -2.8 0M481 214.89a1.4 1.4 0 1 0 2.8 0a1.4 1.4 0 1 0 -2.8 0M483.1 213.78a1.4 1.4 0 1 0 2.8 0a1.4 1.4 0 1 0 -2.8 0M485.2 214.42a1.4 1.4 0 1 0 2.8 0a1.4 1.4 0 1 0 -2.8 0M487.3 214.28a1.4 1.4 0 1 0 2.8 0a1.4 1.4 0 1 0 -2.8 0M489.4 214.7a1.4 1.4 0 1 0 2.8 0a1.4 1.4 0 1 0 -2.8 0M491.5 214.71a1.4 1.4 0 1 0 2.8 0a1.4 1.4 0 1 0 -2.8 0M493.6 214.6a1.4 1.4 0 1 0 2.8 0a1.4 1.4 0 1 0 -2.8 0M495.7 213.42a1.4 1.4 0 1 0 2.8 0a1.4 1.4 0 1 0 -2.8 0M497.8 215.07a1.4 1.4 0 1 0 2.8 0a1.4 1.4 0 1 0 -2.8 0M499.9 214.63a1.4 1.4 0 1 0 2.8 0a1.4 1.4 0 1 0 -2.8 0M502 214.05a1.4 1.4 0 1 0 2.8 0a1.4 1.4 0 1 0 -2.8 0M504.1 214.48a1.4 1.4 0 1 0 2.8 0a1.4 1.4 0 1 0 -2.8 0M506.2 214.79a1.4 1.4 0 1 0 2.8 0a1.4 1.4 0 1 0 -2.8 0M508.3 214.57a1.4 1.4 0 1 0 2.8 0a1.4 1.4 0 1 0 -2.8 0M510.4 214.26a1.4 1.4 0 1 0 2.8 0a1.4 1.4 0 1 0 -2.8 0M512.5 214.91a1.4 1.4 0 1 0 2.8 0a1.4 1.4 0 1 0 -2.8 0M514.6 214.71a1.4 1.4 0 1 0 2.8 0a1.4 1.4 0 1 0 -2.8 0M516.7 214.08a1.4 1.4 0 1 0 2.8 0a1.4 1.4 0 1 0 -2.8 0M518.8 214.27a1.4 1.4 0 1 0 2.8 0a1.4 1.4 0 1 0 -2.8 0M520.9 215.34a1.4 1.4 0 1 0 2.8 0a1.4 1.4 0 1 0 -2.8 0M523 215.7a1.4 1.4 0 1 0 2.8 0a1.4 1.4 0 1 0 -2.8 0M525.1 215.48a1.4 1.4 0 1 0 2.8 0a1.4 1.4 0 1 0 -2.8 0M527.2 214.39a1.4 1.4 0 1 0 2.8 0a1.4 1.4 0 1 0 -2.8 0M529.3 213.7a1.4 1.4 0 1 0 2.8 0a1.4 1.4 0 1 0 -2.8 0M531.4 213.97a1.4 1.4 0 1 0 2.8 0a1.4 1.4 0 1 0 -2.8 0M533.5 213.99a1.4 1.4 0 1 0 2.8 0a1.4 1.4 0 1 0 -2.8 0M535.6 213.96a1.4 1.4 0 1 0 2.8 0a1.4 1.4 0 1 0 -2.8 0M537.7 213.94a1.4 1.4 0 1 0 2.8 0a1.4 1.4 0 1 0 -2.8 0M539.8 214.82a1.4 1.4 0 1 0 2.8 0a1.4 1.4 0 1 0 -2.8 0M541.9 215.27a1.4 1.4 0 1 0 2.8 0a1.4 1.4 0 1 0 -2.8 0M544 215.42a1.4 1.4 0 1 0 2.8 0a1.4 1.4 0 1 0 -2.8 0M546.1 213.73a1.4 1.4 0 1 0 2.8 0a1.4 1.4 0 1 0 -2.8 0M548.2 214.53a1.4 1.4 0 1 0 2.8 0a1.4 1.4 0 1 0 -2.8 0M550.3 214.61a1.4 1.4 0 1 0 2.8 0a1.4 1.4 0 1 0 -2.8 0M552.4 215.55a1.4 1.4 0 1 0 2.8 0a1.4 1.4 0 1 0 -2.8 0M554.5 214.8a1.4 1.4 0 1 0 2.8 0a1.4 1.4 0 1 0 -2.8 0M556.6 215.2a1.4 1.4 0 1 0 2.8 0a1.4 1.4 0 1 0 -2.8 0M558.7 215a1.4 1.4 0 1 0 2.8 0a1.4 1.4 0 1 0 -2.8 0M560.8 214.65a1.4 1.4 0 1 0 2.8 0a1.4 1.4 0 1 0 -2.8 0M562.9 214.92a1.4 1.4 0 1 0 2.8 0a1.4 1.4 0 1 0 -2.8 0M565 216.18a1.4 1.4 0 1 0 2.8 0a1.4 1.4 0 1 0 -2.8 0M567.1 216.81a1.4 1.4 0 1 0 2.8 0a1.4 1.4 0 1 0 -2.8 0M569.2 215.76a1.4 1.4 0 1 0 2.8 0a1.4 1.4 0 1 0 -2.8 0M571.3 216.32a1.4 1.4 0 1 0 2.8 0a1.4 1.4 0 1 0 -2.8 0M573.4 216.23a1.4 1.4 0 1 0 2.8 0a1.4 1.4 0 1 0 -2.8 0M575.5 215.24a1.4 1.4 0 1 0 2.8 0a1.4 1.4 0 1 0 -2.8 0M577.6 215.8a1.4 1.4 0 1 0 2.8 0a1.4 1.4 0 1 0 -2.8 0M579.7 216.13a1.4 1.4 0 1 0 2.8 0a1.4 1.4 0 1 0 -2.8 0M581.8 214.48a1.4 1.4 0 1 0 2.8 0a1.4 1.4 0 1 0 -2.8 0M583.9 215.08a1.4 1.4 0 1 0 2.8 0a1.4 1.4 0 1 0 -2.8 0M586 215.82a1.4 1.4 0 1 0 2.8 0a1.4 1.4 0 1 0 -2.8 0M588.1 215.61a1.4 1.4 0 1 0 2.8 0a1.4 1.4 0 1 0 -2.8 0M590.2 216.62a1.4 1.4 0 1 0 2.8 0a1.4 1.4 0 1 0 -2.8 0M592.3 215.8a1.4 1.4 0 1 0 2.8 0a1.4 1.4 0 1 0 -2.8 0M594.4 216.15a1.4 1.4 0 1 0 2.8 0a1.4 1.4 0 1 0 -2.8 0M596.5 216.22a1.4 1.4 0 1 0 2.8 0a1.4 1.4 0 1 0 -2.8 0M598.6 216.03a1.4 1.4 0 1 0 2.8 0a1.4 1.4 0 1 0 -2.8 0M600.7 215.79a1.4 1.4 0 1 0 2.8 0a1.4 1.4 0 1 0 -2.8 0M602.8 216.22a1.4 1.4 0 1 0 2.8 0a1.4 1.4 0 1 0 -2.8 0M604.9 216.13a1.4 1.4 0 1 0 2.8 0a1.4 1.4 0 1 0 -2.8 0M607 215.44a1.4 1.4 0 1 0 2.8 0a1.4 1.4 0 1 0 -2.8 0M609.1 215.29a1.4 1.4 0 1 0 2.8 0a1.4 1.4 0 1 0 -2.8 0M611.2 215.62a1.4 1.4 0 1 0 2.8 0a1.4 1.4 0 1 0 -2.8 0M613.3 214.67a1.4 1.4 0 1 0 2.8 0a1.4 1.4 0 1 0 -2.8 0M615.4 212.29a1.4 1.4 0 1 0 2.8 0a1.4 1.4 0 1 0 -2.8 0M617.5 208.73a1.4 1.4 0 1 0 2.8 0a1.4 1.4 0 1 0 -2.8 0" fill="#d20000"/>
<text x="618.9" y="212.36" font-size="9.1" text-anchor="start" fill="#000" stroke="#000" stroke-width="0.18">45.4</text>
<text x="618.9" y="220.46" font-size="9.1" text-anchor="start" fill="#e8202a" stroke="#e8202a" stroke-width="0.18">42.2</text>
<rect x="414.3" y="202.86" width="258" height="19.7" fill="none" stroke="#8a8a8a" stroke-width="0.9"/>
<rect x="672.3" y="202.86" width="13.7" height="19.7" fill="#d9d9d9" stroke="#333" stroke-width="0.9"/>
<text transform="translate(674.9 212.71) rotate(90)" font-size="10.6" text-anchor="middle" fill="#000" stroke="#000" stroke-width="0.25">100</text>
<line x1="412.1" y1="207.36" x2="414.3" y2="207.36" stroke="#333" stroke-width="0.8"/>
<text x="411.4" y="211.06" font-size="8.8" text-anchor="end" fill="#000" stroke="#000" stroke-width="0.2">100</text>
<line x1="412.1" y1="214.66" x2="414.3" y2="214.66" stroke="#333" stroke-width="0.8"/>
<text x="411.4" y="218.56" font-size="8.8" text-anchor="end" fill="#000" stroke="#000" stroke-width="0.2">1</text>
<line x1="414.3" y1="230.73" x2="672.3" y2="230.73" stroke="#bdbdbd" stroke-width="0.6" stroke-dasharray="0.9 1.5"/>
<line x1="414.3" y1="238.03" x2="672.3" y2="238.03" stroke="#bdbdbd" stroke-width="0.6" stroke-dasharray="0.9 1.5"/>
<line x1="461.4" y1="226.23" x2="461.4" y2="245.93" stroke="#bdbdbd" stroke-width="0.6" stroke-dasharray="0.9 1.5"/>
<line x1="513.9" y1="226.23" x2="513.9" y2="245.93" stroke="#bdbdbd" stroke-width="0.6" stroke-dasharray="0.9 1.5"/>
<line x1="566.4" y1="226.23" x2="566.4" y2="245.93" stroke="#bdbdbd" stroke-width="0.6" stroke-dasharray="0.9 1.5"/>
<line x1="618.9" y1="226.23" x2="618.9" y2="245.93" stroke="#bdbdbd" stroke-width="0.6" stroke-dasharray="0.9 1.5"/>
<line x1="639.8" y1="226.23" x2="639.8" y2="245.93" stroke="#8f8f8f" stroke-width="1.3"/>
<polyline points="425.7,243.87 427.8,241.5 429.9,242.36 432,241.77 434.1,241.33 436.2,241.85 438.3,241.32 440.4,241.35 442.5,241.59 444.6,241.59 446.7,240.27 448.8,240.27 450.9,241.54 453,240.24 455.1,240 457.2,240.16 459.3,239.25 461.4,238.77 463.5,239.18 465.6,239 467.7,240.07 469.8,238.5 471.9,239.92 474,238.78 476.1,238.9 478.2,238.86 480.3,239.1 482.4,239.49 484.5,238.45 486.6,237.88 488.7,238.54 490.8,237.91 492.9,238.91 495,238.2 497.1,238.13 499.2,237.89 501.3,237.8 503.4,239.26 505.5,237.88 507.6,238.09 509.7,239.17 511.8,238.85 513.9,238.8 516,238.58 518.1,237.86 520.2,238.46 522.3,239.27 524.4,238.87 526.5,238.04 528.6,238.86 530.7,238.57 532.8,238.46 534.9,238.16 537,237.67 539.1,237.81 541.2,238.16 543.3,239.84 545.4,239.94 547.5,240.2 549.6,239.31 551.7,239.37 553.8,239.58 555.9,239.95 558,239.26 560.1,239.79 562.2,240.05 564.3,239.03 566.4,239.28 568.5,239.78 570.6,238.14 572.7,238.79 574.8,239.51 576.9,238.84 579,238.75 581.1,239.03 583.2,238.9 585.3,239.01 587.4,238.91 589.5,238.8 591.6,238.55 593.7,238.23 595.8,239.19 597.9,238.82 600,239.53 602.1,238.76 604.2,239.55 606.3,239.32 608.4,239.47 610.5,239 612.6,240.07 614.7,239.07 616.8,239.27 618.9,239.09 621,239.84 623.1,239.36 625.2,240.14 627.3,239.66 629.4,239.4 631.5,238.22 633.6,235.78 635.7,238.07 637.8,235.58 639.9,232.97" fill="none" stroke="#000000" stroke-width="0.9" stroke-linejoin="round"/>
<polyline points="425.7,243.19 427.8,241.41 429.9,242.17 432,241.87 434.1,241.11 436.2,242.02 438.3,241.47 440.4,241.28 442.5,241.85 444.6,241.6 446.7,240.71 448.8,240.54 450.9,241.52 453,240.54 455.1,239.56 457.2,240.19 459.3,239.33 461.4,239.11 463.5,239.26 465.6,239 467.7,239.58 469.8,238.71 471.9,239.73 474,238.68 476.1,238.63 478.2,238.65 480.3,238.97 482.4,238.88 484.5,238.96 486.6,237.89 488.7,238.62 490.8,238.09 492.9,239.14 495,237.96 497.1,237.98 499.2,237.72 501.3,237.93 503.4,238.99 505.5,238.51 507.6,238.54 509.7,239.29 511.8,239.08 513.9,238.78 516,238.42 518.1,237.89 520.2,238.19 522.3,239.48 524.4,239.35 526.5,237.9 528.6,238.81 530.7,238.1 532.8,238.49 534.9,238.18 537,237.53 539.1,237.44 541.2,238.12 543.3,239.42 545.4,239.77 547.5,240.49 549.6,239.23 551.7,239.53 553.8,239.46 555.9,240.31 558,239.59 560.1,240.01 562.2,239.78 564.3,239.18 566.4,239.48 568.5,239.64 570.6,237.95 572.7,238.81 574.8,239.01 576.9,239.3 579,238.61 581.1,239.07 583.2,239.15 585.3,239.5 587.4,239 589.5,239.01 591.6,238.58 593.7,238.13 595.8,239.29 597.9,238.61 600,239.62 602.1,238.81 604.2,239.7 606.3,239.31 608.4,239.56 610.5,238.98 612.6,240.11 614.7,238.91 616.8,239.03 618.9,239.53 621,239.98 623.1,239.3 625.2,240.41 627.3,240.04 629.4,239.63 631.5,238.34 633.6,235.78 635.7,237.73 637.8,235.58 639.9,233.07" fill="none" stroke="#d20000" stroke-width="0.9" stroke-linejoin="round"/>
<path d="M424.3 243.87a1.4 1.4 0 1 0 2.8 0a1.4 1.4 0 1 0 -2.8 0M426.4 241.5a1.4 1.4 0 1 0 2.8 0a1.4 1.4 0 1 0 -2.8 0M428.5 242.36a1.4 1.4 0 1 0 2.8 0a1.4 1.4 0 1 0 -2.8 0M430.6 241.77a1.4 1.4 0 1 0 2.8 0a1.4 1.4 0 1 0 -2.8 0M432.7 241.33a1.4 1.4 0 1 0 2.8 0a1.4 1.4 0 1 0 -2.8 0M434.8 241.85a1.4 1.4 0 1 0 2.8 0a1.4 1.4 0 1 0 -2.8 0M436.9 241.32a1.4 1.4 0 1 0 2.8 0a1.4 1.4 0 1 0 -2.8 0M439 241.35a1.4 1.4 0 1 0 2.8 0a1.4 1.4 0 1 0 -2.8 0M441.1 241.59a1.4 1.4 0 1 0 2.8 0a1.4 1.4 0 1 0 -2.8 0M443.2 241.59a1.4 1.4 0 1 0 2.8 0a1.4 1.4 0 1 0 -2.8 0M445.3 240.27a1.4 1.4 0 1 0 2.8 0a1.4 1.4 0 1 0 -2.8 0M447.4 240.27a1.4 1.4 0 1 0 2.8 0a1.4 1.4 0 1 0 -2.8 0M449.5 241.54a1.4 1.4 0 1 0 2.8 0a1.4 1.4 0 1 0 -2.8 0M451.6 240.24a1.4 1.4 0 1 0 2.8 0a1.4 1.4 0 1 0 -2.8 0M453.7 240a1.4 1.4 0 1 0 2.8 0a1.4 1.4 0 1 0 -2.8 0M455.8 240.16a1.4 1.4 0 1 0 2.8 0a1.4 1.4 0 1 0 -2.8 0M457.9 239.25a1.4 1.4 0 1 0 2.8 0a1.4 1.4 0 1 0 -2.8 0M460 238.77a1.4 1.4 0 1 0 2.8 0a1.4 1.4 0 1 0 -2.8 0M462.1 239.18a1.4 1.4 0 1 0 2.8 0a1.4 1.4 0 1 0 -2.8 0M464.2 239a1.4 1.4 0 1 0 2.8 0a1.4 1.4 0 1 0 -2.8 0M466.3 240.07a1.4 1.4 0 1 0 2.8 0a1.4 1.4 0 1 0 -2.8 0M468.4 238.5a1.4 1.4 0 1 0 2.8 0a1.4 1.4 0 1 0 -2.8 0M470.5 239.92a1.4 1.4 0 1 0 2.8 0a1.4 1.4 0 1 0 -2.8 0M472.6 238.78a1.4 1.4 0 1 0 2.8 0a1.4 1.4 0 1 0 -2.8 0M474.7 238.9a1.4 1.4 0 1 0 2.8 0a1.4 1.4 0 1 0 -2.8 0M476.8 238.86a1.4 1.4 0 1 0 2.8 0a1.4 1.4 0 1 0 -2.8 0M478.9 239.1a1.4 1.4 0 1 0 2.8 0a1.4 1.4 0 1 0 -2.8 0M481 239.49a1.4 1.4 0 1 0 2.8 0a1.4 1.4 0 1 0 -2.8 0M483.1 238.45a1.4 1.4 0 1 0 2.8 0a1.4 1.4 0 1 0 -2.8 0M485.2 237.88a1.4 1.4 0 1 0 2.8 0a1.4 1.4 0 1 0 -2.8 0M487.3 238.54a1.4 1.4 0 1 0 2.8 0a1.4 1.4 0 1 0 -2.8 0M489.4 237.91a1.4 1.4 0 1 0 2.8 0a1.4 1.4 0 1 0 -2.8 0M491.5 238.91a1.4 1.4 0 1 0 2.8 0a1.4 1.4 0 1 0 -2.8 0M493.6 238.2a1.4 1.4 0 1 0 2.8 0a1.4 1.4 0 1 0 -2.8 0M495.7 238.13a1.4 1.4 0 1 0 2.8 0a1.4 1.4 0 1 0 -2.8 0M497.8 237.89a1.4 1.4 0 1 0 2.8 0a1.4 1.4 0 1 0 -2.8 0M499.9 237.8a1.4 1.4 0 1 0 2.8 0a1.4 1.4 0 1 0 -2.8 0M502 239.26a1.4 1.4 0 1 0 2.8 0a1.4 1.4 0 1 0 -2.8 0M504.1 237.88a1.4 1.4 0 1 0 2.8 0a1.4 1.4 0 1 0 -2.8 0M506.2 238.09a1.4 1.4 0 1 0 2.8 0a1.4 1.4 0 1 0 -2.8 0M508.3 239.17a1.4 1.4 0 1 0 2.8 0a1.4 1.4 0 1 0 -2.8 0M510.4 238.85a1.4 1.4 0 1 0 2.8 0a1.4 1.4 0 1 0 -2.8 0M512.5 238.8a1.4 1.4 0 1 0 2.8 0a1.4 1.4 0 1 0 -2.8 0M514.6 238.58a1.4 1.4 0 1 0 2.8 0a1.4 1.4 0 1 0 -2.8 0M516.7 237.86a1.4 1.4 0 1 0 2.8 0a1.4 1.4 0 1 0 -2.8 0M518.8 238.46a1.4 1.4 0 1 0 2.8 0a1.4 1.4 0 1 0 -2.8 0M520.9 239.27a1.4 1.4 0 1 0 2.8 0a1.4 1.4 0 1 0 -2.8 0M523 238.87a1.4 1.4 0 1 0 2.8 0a1.4 1.4 0 1 0 -2.8 0M525.1 238.04a1.4 1.4 0 1 0 2.8 0a1.4 1.4 0 1 0 -2.8 0M527.2 238.86a1.4 1.4 0 1 0 2.8 0a1.4 1.4 0 1 0 -2.8 0M529.3 238.57a1.4 1.4 0 1 0 2.8 0a1.4 1.4 0 1 0 -2.8 0M531.4 238.46a1.4 1.4 0 1 0 2.8 0a1.4 1.4 0 1 0 -2.8 0M533.5 238.16a1.4 1.4 0 1 0 2.8 0a1.4 1.4 0 1 0 -2.8 0M535.6 237.67a1.4 1.4 0 1 0 2.8 0a1.4 1.4 0 1 0 -2.8 0M537.7 237.81a1.4 1.4 0 1 0 2.8 0a1.4 1.4 0 1 0 -2.8 0M539.8 238.16a1.4 1.4 0 1 0 2.8 0a1.4 1.4 0 1 0 -2.8 0M541.9 239.84a1.4 1.4 0 1 0 2.8 0a1.4 1.4 0 1 0 -2.8 0M544 239.94a1.4 1.4 0 1 0 2.8 0a1.4 1.4 0 1 0 -2.8 0M546.1 240.2a1.4 1.4 0 1 0 2.8 0a1.4 1.4 0 1 0 -2.8 0M548.2 239.31a1.4 1.4 0 1 0 2.8 0a1.4 1.4 0 1 0 -2.8 0M550.3 239.37a1.4 1.4 0 1 0 2.8 0a1.4 1.4 0 1 0 -2.8 0M552.4 239.58a1.4 1.4 0 1 0 2.8 0a1.4 1.4 0 1 0 -2.8 0M554.5 239.95a1.4 1.4 0 1 0 2.8 0a1.4 1.4 0 1 0 -2.8 0M556.6 239.26a1.4 1.4 0 1 0 2.8 0a1.4 1.4 0 1 0 -2.8 0M558.7 239.79a1.4 1.4 0 1 0 2.8 0a1.4 1.4 0 1 0 -2.8 0M560.8 240.05a1.4 1.4 0 1 0 2.8 0a1.4 1.4 0 1 0 -2.8 0M562.9 239.03a1.4 1.4 0 1 0 2.8 0a1.4 1.4 0 1 0 -2.8 0M565 239.28a1.4 1.4 0 1 0 2.8 0a1.4 1.4 0 1 0 -2.8 0M567.1 239.78a1.4 1.4 0 1 0 2.8 0a1.4 1.4 0 1 0 -2.8 0M569.2 238.14a1.4 1.4 0 1 0 2.8 0a1.4 1.4 0 1 0 -2.8 0M571.3 238.79a1.4 1.4 0 1 0 2.8 0a1.4 1.4 0 1 0 -2.8 0M573.4 239.51a1.4 1.4 0 1 0 2.8 0a1.4 1.4 0 1 0 -2.8 0M575.5 238.84a1.4 1.4 0 1 0 2.8 0a1.4 1.4 0 1 0 -2.8 0M577.6 238.75a1.4 1.4 0 1 0 2.8 0a1.4 1.4 0 1 0 -2.8 0M579.7 239.03a1.4 1.4 0 1 0 2.8 0a1.4 1.4 0 1 0 -2.8 0M581.8 238.9a1.4 1.4 0 1 0 2.8 0a1.4 1.4 0 1 0 -2.8 0M583.9 239.01a1.4 1.4 0 1 0 2.8 0a1.4 1.4 0 1 0 -2.8 0M586 238.91a1.4 1.4 0 1 0 2.8 0a1.4 1.4 0 1 0 -2.8 0M588.1 238.8a1.4 1.4 0 1 0 2.8 0a1.4 1.4 0 1 0 -2.8 0M590.2 238.55a1.4 1.4 0 1 0 2.8 0a1.4 1.4 0 1 0 -2.8 0M592.3 238.23a1.4 1.4 0 1 0 2.8 0a1.4 1.4 0 1 0 -2.8 0M594.4 239.19a1.4 1.4 0 1 0 2.8 0a1.4 1.4 0 1 0 -2.8 0M596.5 238.82a1.4 1.4 0 1 0 2.8 0a1.4 1.4 0 1 0 -2.8 0M598.6 239.53a1.4 1.4 0 1 0 2.8 0a1.4 1.4 0 1 0 -2.8 0M600.7 238.76a1.4 1.4 0 1 0 2.8 0a1.4 1.4 0 1 0 -2.8 0M602.8 239.55a1.4 1.4 0 1 0 2.8 0a1.4 1.4 0 1 0 -2.8 0M604.9 239.32a1.4 1.4 0 1 0 2.8 0a1.4 1.4 0 1 0 -2.8 0M607 239.47a1.4 1.4 0 1 0 2.8 0a1.4 1.4 0 1 0 -2.8 0M609.1 239a1.4 1.4 0 1 0 2.8 0a1.4 1.4 0 1 0 -2.8 0M611.2 240.07a1.4 1.4 0 1 0 2.8 0a1.4 1.4 0 1 0 -2.8 0M613.3 239.07a1.4 1.4 0 1 0 2.8 0a1.4 1.4 0 1 0 -2.8 0M615.4 239.27a1.4 1.4 0 1 0 2.8 0a1.4 1.4 0 1 0 -2.8 0M617.5 239.09a1.4 1.4 0 1 0 2.8 0a1.4 1.4 0 1 0 -2.8 0M619.6 239.84a1.4 1.4 0 1 0 2.8 0a1.4 1.4 0 1 0 -2.8 0M621.7 239.36a1.4 1.4 0 1 0 2.8 0a1.4 1.4 0 1 0 -2.8 0M623.8 240.14a1.4 1.4 0 1 0 2.8 0a1.4 1.4 0 1 0 -2.8 0M625.9 239.66a1.4 1.4 0 1 0 2.8 0a1.4 1.4 0 1 0 -2.8 0M628 239.4a1.4 1.4 0 1 0 2.8 0a1.4 1.4 0 1 0 -2.8 0M630.1 238.22a1.4 1.4 0 1 0 2.8 0a1.4 1.4 0 1 0 -2.8 0M632.2 235.78a1.4 1.4 0 1 0 2.8 0a1.4 1.4 0 1 0 -2.8 0M634.3 238.07a1.4 1.4 0 1 0 2.8 0a1.4 1.4 0 1 0 -2.8 0M636.4 235.58a1.4 1.4 0 1 0 2.8 0a1.4 1.4 0 1 0 -2.8 0M638.5 232.97a1.4 1.4 0 1 0 2.8 0a1.4 1.4 0 1 0 -2.8 0" fill="#000000"/>
<path d="M424.3 243.19a1.4 1.4 0 1 0 2.8 0a1.4 1.4 0 1 0 -2.8 0M426.4 241.41a1.4 1.4 0 1 0 2.8 0a1.4 1.4 0 1 0 -2.8 0M428.5 242.17a1.4 1.4 0 1 0 2.8 0a1.4 1.4 0 1 0 -2.8 0M430.6 241.87a1.4 1.4 0 1 0 2.8 0a1.4 1.4 0 1 0 -2.8 0M432.7 241.11a1.4 1.4 0 1 0 2.8 0a1.4 1.4 0 1 0 -2.8 0M434.8 242.02a1.4 1.4 0 1 0 2.8 0a1.4 1.4 0 1 0 -2.8 0M436.9 241.47a1.4 1.4 0 1 0 2.8 0a1.4 1.4 0 1 0 -2.8 0M439 241.28a1.4 1.4 0 1 0 2.8 0a1.4 1.4 0 1 0 -2.8 0M441.1 241.85a1.4 1.4 0 1 0 2.8 0a1.4 1.4 0 1 0 -2.8 0M443.2 241.6a1.4 1.4 0 1 0 2.8 0a1.4 1.4 0 1 0 -2.8 0M445.3 240.71a1.4 1.4 0 1 0 2.8 0a1.4 1.4 0 1 0 -2.8 0M447.4 240.54a1.4 1.4 0 1 0 2.8 0a1.4 1.4 0 1 0 -2.8 0M449.5 241.52a1.4 1.4 0 1 0 2.8 0a1.4 1.4 0 1 0 -2.8 0M451.6 240.54a1.4 1.4 0 1 0 2.8 0a1.4 1.4 0 1 0 -2.8 0M453.7 239.56a1.4 1.4 0 1 0 2.8 0a1.4 1.4 0 1 0 -2.8 0M455.8 240.19a1.4 1.4 0 1 0 2.8 0a1.4 1.4 0 1 0 -2.8 0M457.9 239.33a1.4 1.4 0 1 0 2.8 0a1.4 1.4 0 1 0 -2.8 0M460 239.11a1.4 1.4 0 1 0 2.8 0a1.4 1.4 0 1 0 -2.8 0M462.1 239.26a1.4 1.4 0 1 0 2.8 0a1.4 1.4 0 1 0 -2.8 0M464.2 239a1.4 1.4 0 1 0 2.8 0a1.4 1.4 0 1 0 -2.8 0M466.3 239.58a1.4 1.4 0 1 0 2.8 0a1.4 1.4 0 1 0 -2.8 0M468.4 238.71a1.4 1.4 0 1 0 2.8 0a1.4 1.4 0 1 0 -2.8 0M470.5 239.73a1.4 1.4 0 1 0 2.8 0a1.4 1.4 0 1 0 -2.8 0M472.6 238.68a1.4 1.4 0 1 0 2.8 0a1.4 1.4 0 1 0 -2.8 0M474.7 238.63a1.4 1.4 0 1 0 2.8 0a1.4 1.4 0 1 0 -2.8 0M476.8 238.65a1.4 1.4 0 1 0 2.8 0a1.4 1.4 0 1 0 -2.8 0M478.9 238.97a1.4 1.4 0 1 0 2.8 0a1.4 1.4 0 1 0 -2.8 0M481 238.88a1.4 1.4 0 1 0 2.8 0a1.4 1.4 0 1 0 -2.8 0M483.1 238.96a1.4 1.4 0 1 0 2.8 0a1.4 1.4 0 1 0 -2.8 0M485.2 237.89a1.4 1.4 0 1 0 2.8 0a1.4 1.4 0 1 0 -2.8 0M487.3 238.62a1.4 1.4 0 1 0 2.8 0a1.4 1.4 0 1 0 -2.8 0M489.4 238.09a1.4 1.4 0 1 0 2.8 0a1.4 1.4 0 1 0 -2.8 0M491.5 239.14a1.4 1.4 0 1 0 2.8 0a1.4 1.4 0 1 0 -2.8 0M493.6 237.96a1.4 1.4 0 1 0 2.8 0a1.4 1.4 0 1 0 -2.8 0M495.7 237.98a1.4 1.4 0 1 0 2.8 0a1.4 1.4 0 1 0 -2.8 0M497.8 237.72a1.4 1.4 0 1 0 2.8 0a1.4 1.4 0 1 0 -2.8 0M499.9 237.93a1.4 1.4 0 1 0 2.8 0a1.4 1.4 0 1 0 -2.8 0M502 238.99a1.4 1.4 0 1 0 2.8 0a1.4 1.4 0 1 0 -2.8 0M504.1 238.51a1.4 1.4 0 1 0 2.8 0a1.4 1.4 0 1 0 -2.8 0M506.2 238.54a1.4 1.4 0 1 0 2.8 0a1.4 1.4 0 1 0 -2.8 0M508.3 239.29a1.4 1.4 0 1 0 2.8 0a1.4 1.4 0 1 0 -2.8 0M510.4 239.08a1.4 1.4 0 1 0 2.8 0a1.4 1.4 0 1 0 -2.8 0M512.5 238.78a1.4 1.4 0 1 0 2.8 0a1.4 1.4 0 1 0 -2.8 0M514.6 238.42a1.4 1.4 0 1 0 2.8 0a1.4 1.4 0 1 0 -2.8 0M516.7 237.89a1.4 1.4 0 1 0 2.8 0a1.4 1.4 0 1 0 -2.8 0M518.8 238.19a1.4 1.4 0 1 0 2.8 0a1.4 1.4 0 1 0 -2.8 0M520.9 239.48a1.4 1.4 0 1 0 2.8 0a1.4 1.4 0 1 0 -2.8 0M523 239.35a1.4 1.4 0 1 0 2.8 0a1.4 1.4 0 1 0 -2.8 0M525.1 237.9a1.4 1.4 0 1 0 2.8 0a1.4 1.4 0 1 0 -2.8 0M527.2 238.81a1.4 1.4 0 1 0 2.8 0a1.4 1.4 0 1 0 -2.8 0M529.3 238.1a1.4 1.4 0 1 0 2.8 0a1.4 1.4 0 1 0 -2.8 0M531.4 238.49a1.4 1.4 0 1 0 2.8 0a1.4 1.4 0 1 0 -2.8 0M533.5 238.18a1.4 1.4 0 1 0 2.8 0a1.4 1.4 0 1 0 -2.8 0M535.6 237.53a1.4 1.4 0 1 0 2.8 0a1.4 1.4 0 1 0 -2.8 0M537.7 237.44a1.4 1.4 0 1 0 2.8 0a1.4 1.4 0 1 0 -2.8 0M539.8 238.12a1.4 1.4 0 1 0 2.8 0a1.4 1.4 0 1 0 -2.8 0M541.9 239.42a1.4 1.4 0 1 0 2.8 0a1.4 1.4 0 1 0 -2.8 0M544 239.77a1.4 1.4 0 1 0 2.8 0a1.4 1.4 0 1 0 -2.8 0M546.1 240.49a1.4 1.4 0 1 0 2.8 0a1.4 1.4 0 1 0 -2.8 0M548.2 239.23a1.4 1.4 0 1 0 2.8 0a1.4 1.4 0 1 0 -2.8 0M550.3 239.53a1.4 1.4 0 1 0 2.8 0a1.4 1.4 0 1 0 -2.8 0M552.4 239.46a1.4 1.4 0 1 0 2.8 0a1.4 1.4 0 1 0 -2.8 0M554.5 240.31a1.4 1.4 0 1 0 2.8 0a1.4 1.4 0 1 0 -2.8 0M556.6 239.59a1.4 1.4 0 1 0 2.8 0a1.4 1.4 0 1 0 -2.8 0M558.7 240.01a1.4 1.4 0 1 0 2.8 0a1.4 1.4 0 1 0 -2.8 0M560.8 239.78a1.4 1.4 0 1 0 2.8 0a1.4 1.4 0 1 0 -2.8 0M562.9 239.18a1.4 1.4 0 1 0 2.8 0a1.4 1.4 0 1 0 -2.8 0M565 239.48a1.4 1.4 0 1 0 2.8 0a1.4 1.4 0 1 0 -2.8 0M567.1 239.64a1.4 1.4 0 1 0 2.8 0a1.4 1.4 0 1 0 -2.8 0M569.2 237.95a1.4 1.4 0 1 0 2.8 0a1.4 1.4 0 1 0 -2.8 0M571.3 238.81a1.4 1.4 0 1 0 2.8 0a1.4 1.4 0 1 0 -2.8 0M573.4 239.01a1.4 1.4 0 1 0 2.8 0a1.4 1.4 0 1 0 -2.8 0M575.5 239.3a1.4 1.4 0 1 0 2.8 0a1.4 1.4 0 1 0 -2.8 0M577.6 238.61a1.4 1.4 0 1 0 2.8 0a1.4 1.4 0 1 0 -2.8 0M579.7 239.07a1.4 1.4 0 1 0 2.8 0a1.4 1.4 0 1 0 -2.8 0M581.8 239.15a1.4 1.4 0 1 0 2.8 0a1.4 1.4 0 1 0 -2.8 0M583.9 239.5a1.4 1.4 0 1 0 2.8 0a1.4 1.4 0 1 0 -2.8 0M586 239a1.4 1.4 0 1 0 2.8 0a1.4 1.4 0 1 0 -2.8 0M588.1 239.01a1.4 1.4 0 1 0 2.8 0a1.4 1.4 0 1 0 -2.8 0M590.2 238.58a1.4 1.4 0 1 0 2.8 0a1.4 1.4 0 1 0 -2.8 0M592.3 238.13a1.4 1.4 0 1 0 2.8 0a1.4 1.4 0 1 0 -2.8 0M594.4 239.29a1.4 1.4 0 1 0 2.8 0a1.4 1.4 0 1 0 -2.8 0M596.5 238.61a1.4 1.4 0 1 0 2.8 0a1.4 1.4 0 1 0 -2.8 0M598.6 239.62a1.4 1.4 0 1 0 2.8 0a1.4 1.4 0 1 0 -2.8 0M600.7 238.81a1.4 1.4 0 1 0 2.8 0a1.4 1.4 0 1 0 -2.8 0M602.8 239.7a1.4 1.4 0 1 0 2.8 0a1.4 1.4 0 1 0 -2.8 0M604.9 239.31a1.4 1.4 0 1 0 2.8 0a1.4 1.4 0 1 0 -2.8 0M607 239.56a1.4 1.4 0 1 0 2.8 0a1.4 1.4 0 1 0 -2.8 0M609.1 238.98a1.4 1.4 0 1 0 2.8 0a1.4 1.4 0 1 0 -2.8 0M611.2 240.11a1.4 1.4 0 1 0 2.8 0a1.4 1.4 0 1 0 -2.8 0M613.3 238.91a1.4 1.4 0 1 0 2.8 0a1.4 1.4 0 1 0 -2.8 0M615.4 239.03a1.4 1.4 0 1 0 2.8 0a1.4 1.4 0 1 0 -2.8 0M617.5 239.53a1.4 1.4 0 1 0 2.8 0a1.4 1.4 0 1 0 -2.8 0M619.6 239.98a1.4 1.4 0 1 0 2.8 0a1.4 1.4 0 1 0 -2.8 0M621.7 239.3a1.4 1.4 0 1 0 2.8 0a1.4 1.4 0 1 0 -2.8 0M623.8 240.41a1.4 1.4 0 1 0 2.8 0a1.4 1.4 0 1 0 -2.8 0M625.9 240.04a1.4 1.4 0 1 0 2.8 0a1.4 1.4 0 1 0 -2.8 0M628 239.63a1.4 1.4 0 1 0 2.8 0a1.4 1.4 0 1 0 -2.8 0M630.1 238.34a1.4 1.4 0 1 0 2.8 0a1.4 1.4 0 1 0 -2.8 0M632.2 235.78a1.4 1.4 0 1 0 2.8 0a1.4 1.4 0 1 0 -2.8 0M634.3 237.73a1.4 1.4 0 1 0 2.8 0a1.4 1.4 0 1 0 -2.8 0M636.4 235.58a1.4 1.4 0 1 0 2.8 0a1.4 1.4 0 1 0 -2.8 0M638.5 233.07a1.4 1.4 0 1 0 2.8 0a1.4 1.4 0 1 0 -2.8 0" fill="#d20000"/>
<text x="640.5" y="235.73" font-size="9.1" text-anchor="start" fill="#000" stroke="#000" stroke-width="0.18">24.3</text>
<text x="640.5" y="243.53" font-size="9.1" text-anchor="start" fill="#e8202a" stroke="#e8202a" stroke-width="0.18">22.9</text>
<rect x="414.3" y="226.23" width="258" height="19.7" fill="none" stroke="#8a8a8a" stroke-width="0.9"/>
<rect x="672.3" y="226.23" width="13.7" height="19.7" fill="#d9d9d9" stroke="#333" stroke-width="0.9"/>
<text transform="translate(674.9 236.08) rotate(90)" font-size="10.6" text-anchor="middle" fill="#000" stroke="#000" stroke-width="0.25">110</text>
<line x1="412.1" y1="230.73" x2="414.3" y2="230.73" stroke="#333" stroke-width="0.8"/>
<text x="411.4" y="234.43" font-size="8.8" text-anchor="end" fill="#000" stroke="#000" stroke-width="0.2">100</text>
<line x1="412.1" y1="238.03" x2="414.3" y2="238.03" stroke="#333" stroke-width="0.8"/>
<text x="411.4" y="241.93" font-size="8.8" text-anchor="end" fill="#000" stroke="#000" stroke-width="0.2">1</text>
<line x1="414.3" y1="254.1" x2="672.3" y2="254.1" stroke="#bdbdbd" stroke-width="0.6" stroke-dasharray="0.9 1.5"/>
<line x1="414.3" y1="261.4" x2="672.3" y2="261.4" stroke="#bdbdbd" stroke-width="0.6" stroke-dasharray="0.9 1.5"/>
<line x1="461.4" y1="249.6" x2="461.4" y2="269.3" stroke="#bdbdbd" stroke-width="0.6" stroke-dasharray="0.9 1.5"/>
<line x1="513.9" y1="249.6" x2="513.9" y2="269.3" stroke="#bdbdbd" stroke-width="0.6" stroke-dasharray="0.9 1.5"/>
<line x1="566.4" y1="249.6" x2="566.4" y2="269.3" stroke="#bdbdbd" stroke-width="0.6" stroke-dasharray="0.9 1.5"/>
<line x1="618.9" y1="249.6" x2="618.9" y2="269.3" stroke="#bdbdbd" stroke-width="0.6" stroke-dasharray="0.9 1.5"/>
<line x1="660.8" y1="249.6" x2="660.8" y2="269.3" stroke="#8f8f8f" stroke-width="1.3"/>
<polyline points="425.7,266.4 427.8,264.84 429.9,264.77 432,265.81 434.1,265.18 436.2,264.32 438.3,264.58 440.4,263.98 442.5,263.56 444.6,263.15 446.7,264.13 448.8,263.15 450.9,263.37 453,263.73 455.1,262.64 457.2,262.59 459.3,263.19 461.4,261.82 463.5,263.01 465.6,262.18 467.7,262.97 469.8,262.02 471.9,262.01 474,261.91 476.1,261.32 478.2,261.23 480.3,262.02 482.4,261.46 484.5,260.8 486.6,262.01 488.7,262.3 490.8,260.95 492.9,260.5 495,261.63 497.1,260.49 499.2,261.06 501.3,261.14 503.4,261.44 505.5,261.54 507.6,261.66 509.7,262.11 511.8,262.31 513.9,260.74 516,262.33 518.1,261.77 520.2,261.68 522.3,261.61 524.4,261.36 526.5,262.55 528.6,261.35 530.7,262.09 532.8,260.97 534.9,262.65 537,262.13 539.1,260.6 541.2,261.61 543.3,261.24 545.4,261.79 547.5,262.89 549.6,261.78 551.7,262.27 553.8,262.33 555.9,262.12 558,262.36 560.1,262.65 562.2,262.65 564.3,262.4 566.4,263.69 568.5,261.99 570.6,263.43 572.7,262.58 574.8,262.55 576.9,262.54 579,261.66 581.1,262.06 583.2,262.65 585.3,262.53 587.4,261.51 589.5,262.97 591.6,262.8 593.7,263.34 595.8,262.96 597.9,263.12 600,263.49 602.1,263.22 604.2,263.06 606.3,262.84 608.4,263.43 610.5,262.5 612.6,263.14 614.7,263.34 616.8,262.67 618.9,262.63 621,262.63 623.1,262.98 625.2,263.18 627.3,263.26 629.4,263.19 631.5,262.28 633.6,262.74 635.7,262.11 637.8,262.38 639.9,262.9 642,262.7 644.1,262.29 646.2,263.55 648.3,263.28 650.4,262.92 652.5,262.27 654.6,264.14 656.7,262.62 658.8,259.28 660.9,256.02" fill="none" stroke="#000000" stroke-width="0.9" stroke-linejoin="round"/>
<polyline points="425.7,266.45 427.8,264.95 429.9,264.95 432,265.88 434.1,265.39 436.2,263.84 438.3,264.29 440.4,264.08 442.5,263.65 444.6,263.08 446.7,264.56 448.8,263.09 450.9,263.7 453,263.28 455.1,262.67 457.2,262.87 459.3,262.98 461.4,262.21 463.5,263.26 465.6,261.79 467.7,262.69 469.8,262.16 471.9,261.97 474,262.15 476.1,261.12 478.2,261.7 480.3,261.69 482.4,261.26 484.5,260.96 486.6,261.97 488.7,262.33 490.8,261.2 492.9,260.65 495,261.47 497.1,260.58 499.2,260.99 501.3,261.55 503.4,261.14 505.5,261.41 507.6,261.7 509.7,262.14 511.8,262.27 513.9,260.72 516,262.26 518.1,261.28 520.2,262.31 522.3,261.62 524.4,261.38 526.5,262.84 528.6,261.44 530.7,261.65 532.8,260.73 534.9,262.38 537,261.99 539.1,260.47 541.2,261.43 543.3,260.99 545.4,262.13 547.5,262.37 549.6,262.23 551.7,262.39 553.8,262.36 555.9,262.32 558,262.27 560.1,262.65 562.2,262.96 564.3,262.56 566.4,263.66 568.5,262.09 570.6,263.22 572.7,262.46 574.8,262.5 576.9,262.09 579,261.46 581.1,262.1 583.2,262.57 585.3,262.5 587.4,261.74 589.5,263.01 591.6,262.67 593.7,263.35 595.8,263 597.9,263.1 600,263.52 602.1,263.05 604.2,263.36 606.3,262.91 608.4,263.38 610.5,262.81 612.6,263.18 614.7,263.22 616.8,262.64 618.9,262.38 621,262.79 623.1,262.86 625.2,263.69 627.3,263.08 629.4,263.39 631.5,262.67 633.6,262.4 635.7,262.33 637.8,262.39 639.9,262.69 642,262.27 644.1,262.23 646.2,263.34 648.3,263.14 650.4,262.88 652.5,262.53 654.6,263.67 656.7,262.85 658.8,259.28 660.9,256.04" fill="none" stroke="#d20000" stroke-width="0.9" stroke-linejoin="round"/>
<path d="M424.3 266.4a1.4 1.4 0 1 0 2.8 0a1.4 1.4 0 1 0 -2.8 0M426.4 264.84a1.4 1.4 0 1 0 2.8 0a1.4 1.4 0 1 0 -2.8 0M428.5 264.77a1.4 1.4 0 1 0 2.8 0a1.4 1.4 0 1 0 -2.8 0M430.6 265.81a1.4 1.4 0 1 0 2.8 0a1.4 1.4 0 1 0 -2.8 0M432.7 265.18a1.4 1.4 0 1 0 2.8 0a1.4 1.4 0 1 0 -2.8 0M434.8 264.32a1.4 1.4 0 1 0 2.8 0a1.4 1.4 0 1 0 -2.8 0M436.9 264.58a1.4 1.4 0 1 0 2.8 0a1.4 1.4 0 1 0 -2.8 0M439 263.98a1.4 1.4 0 1 0 2.8 0a1.4 1.4 0 1 0 -2.8 0M441.1 263.56a1.4 1.4 0 1 0 2.8 0a1.4 1.4 0 1 0 -2.8 0M443.2 263.15a1.4 1.4 0 1 0 2.8 0a1.4 1.4 0 1 0 -2.8 0M445.3 264.13a1.4 1.4 0 1 0 2.8 0a1.4 1.4 0 1 0 -2.8 0M447.4 263.15a1.4 1.4 0 1 0 2.8 0a1.4 1.4 0 1 0 -2.8 0M449.5 263.37a1.4 1.4 0 1 0 2.8 0a1.4 1.4 0 1 0 -2.8 0M451.6 263.73a1.4 1.4 0 1 0 2.8 0a1.4 1.4 0 1 0 -2.8 0M453.7 262.64a1.4 1.4 0 1 0 2.8 0a1.4 1.4 0 1 0 -2.8 0M455.8 262.59a1.4 1.4 0 1 0 2.8 0a1.4 1.4 0 1 0 -2.8 0M457.9 263.19a1.4 1.4 0 1 0 2.8 0a1.4 1.4 0 1 0 -2.8 0M460 261.82a1.4 1.4 0 1 0 2.8 0a1.4 1.4 0 1 0 -2.8 0M462.1 263.01a1.4 1.4 0 1 0 2.8 0a1.4 1.4 0 1 0 -2.8 0M464.2 262.18a1.4 1.4 0 1 0 2.8 0a1.4 1.4 0 1 0 -2.8 0M466.3 262.97a1.4 1.4 0 1 0 2.8 0a1.4 1.4 0 1 0 -2.8 0M468.4 262.02a1.4 1.4 0 1 0 2.8 0a1.4 1.4 0 1 0 -2.8 0M470.5 262.01a1.4 1.4 0 1 0 2.8 0a1.4 1.4 0 1 0 -2.8 0M472.6 261.91a1.4 1.4 0 1 0 2.8 0a1.4 1.4 0 1 0 -2.8 0M474.7 261.32a1.4 1.4 0 1 0 2.8 0a1.4 1.4 0 1 0 -2.8 0M476.8 261.23a1.4 1.4 0 1 0 2.8 0a1.4 1.4 0 1 0 -2.8 0M478.9 262.02a1.4 1.4 0 1 0 2.8 0a1.4 1.4 0 1 0 -2.8 0M481 261.46a1.4 1.4 0 1 0 2.8 0a1.4 1.4 0 1 0 -2.8 0M483.1 260.8a1.4 1.4 0 1 0 2.8 0a1.4 1.4 0 1 0 -2.8 0M485.2 262.01a1.4 1.4 0 1 0 2.8 0a1.4 1.4 0 1 0 -2.8 0M487.3 262.3a1.4 1.4 0 1 0 2.8 0a1.4 1.4 0 1 0 -2.8 0M489.4 260.95a1.4 1.4 0 1 0 2.8 0a1.4 1.4 0 1 0 -2.8 0M491.5 260.5a1.4 1.4 0 1 0 2.8 0a1.4 1.4 0 1 0 -2.8 0M493.6 261.63a1.4 1.4 0 1 0 2.8 0a1.4 1.4 0 1 0 -2.8 0M495.7 260.49a1.4 1.4 0 1 0 2.8 0a1.4 1.4 0 1 0 -2.8 0M497.8 261.06a1.4 1.4 0 1 0 2.8 0a1.4 1.4 0 1 0 -2.8 0M499.9 261.14a1.4 1.4 0 1 0 2.8 0a1.4 1.4 0 1 0 -2.8 0M502 261.44a1.4 1.4 0 1 0 2.8 0a1.4 1.4 0 1 0 -2.8 0M504.1 261.54a1.4 1.4 0 1 0 2.8 0a1.4 1.4 0 1 0 -2.8 0M506.2 261.66a1.4 1.4 0 1 0 2.8 0a1.4 1.4 0 1 0 -2.8 0M508.3 262.11a1.4 1.4 0 1 0 2.8 0a1.4 1.4 0 1 0 -2.8 0M510.4 262.31a1.4 1.4 0 1 0 2.8 0a1.4 1.4 0 1 0 -2.8 0M512.5 260.74a1.4 1.4 0 1 0 2.8 0a1.4 1.4 0 1 0 -2.8 0M514.6 262.33a1.4 1.4 0 1 0 2.8 0a1.4 1.4 0 1 0 -2.8 0M516.7 261.77a1.4 1.4 0 1 0 2.8 0a1.4 1.4 0 1 0 -2.8 0M518.8 261.68a1.4 1.4 0 1 0 2.8 0a1.4 1.4 0 1 0 -2.8 0M520.9 261.61a1.4 1.4 0 1 0 2.8 0a1.4 1.4 0 1 0 -2.8 0M523 261.36a1.4 1.4 0 1 0 2.8 0a1.4 1.4 0 1 0 -2.8 0M525.1 262.55a1.4 1.4 0 1 0 2.8 0a1.4 1.4 0 1 0 -2.8 0M527.2 261.35a1.4 1.4 0 1 0 2.8 0a1.4 1.4 0 1 0 -2.8 0M529.3 262.09a1.4 1.4 0 1 0 2.8 0a1.4 1.4 0 1 0 -2.8 0M531.4 260.97a1.4 1.4 0 1 0 2.8 0a1.4 1.4 0 1 0 -2.8 0M533.5 262.65a1.4 1.4 0 1 0 2.8 0a1.4 1.4 0 1 0 -2.8 0M535.6 262.13a1.4 1.4 0 1 0 2.8 0a1.4 1.4 0 1 0 -2.8 0M537.7 260.6a1.4 1.4 0 1 0 2.8 0a1.4 1.4 0 1 0 -2.8 0M539.8 261.61a1.4 1.4 0 1 0 2.8 0a1.4 1.4 0 1 0 -2.8 0M541.9 261.24a1.4 1.4 0 1 0 2.8 0a1.4 1.4 0 1 0 -2.8 0M544 261.79a1.4 1.4 0 1 0 2.8 0a1.4 1.4 0 1 0 -2.8 0M546.1 262.89a1.4 1.4 0 1 0 2.8 0a1.4 1.4 0 1 0 -2.8 0M548.2 261.78a1.4 1.4 0 1 0 2.8 0a1.4 1.4 0 1 0 -2.8 0M550.3 262.27a1.4 1.4 0 1 0 2.8 0a1.4 1.4 0 1 0 -2.8 0M552.4 262.33a1.4 1.4 0 1 0 2.8 0a1.4 1.4 0 1 0 -2.8 0M554.5 262.12a1.4 1.4 0 1 0 2.8 0a1.4 1.4 0 1 0 -2.8 0M556.6 262.36a1.4 1.4 0 1 0 2.8 0a1.4 1.4 0 1 0 -2.8 0M558.7 262.65a1.4 1.4 0 1 0 2.8 0a1.4 1.4 0 1 0 -2.8 0M560.8 262.65a1.4 1.4 0 1 0 2.8 0a1.4 1.4 0 1 0 -2.8 0M562.9 262.4a1.4 1.4 0 1 0 2.8 0a1.4 1.4 0 1 0 -2.8 0M565 263.69a1.4 1.4 0 1 0 2.8 0a1.4 1.4 0 1 0 -2.8 0M567.1 261.99a1.4 1.4 0 1 0 2.8 0a1.4 1.4 0 1 0 -2.8 0M569.2 263.43a1.4 1.4 0 1 0 2.8 0a1.4 1.4 0 1 0 -2.8 0M571.3 262.58a1.4 1.4 0 1 0 2.8 0a1.4 1.4 0 1 0 -2.8 0M573.4 262.55a1.4 1.4 0 1 0 2.8 0a1.4 1.4 0 1 0 -2.8 0M575.5 262.54a1.4 1.4 0 1 0 2.8 0a1.4 1.4 0 1 0 -2.8 0M577.6 261.66a1.4 1.4 0 1 0 2.8 0a1.4 1.4 0 1 0 -2.8 0M579.7 262.06a1.4 1.4 0 1 0 2.8 0a1.4 1.4 0 1 0 -2.8 0M581.8 262.65a1.4 1.4 0 1 0 2.8 0a1.4 1.4 0 1 0 -2.8 0M583.9 262.53a1.4 1.4 0 1 0 2.8 0a1.4 1.4 0 1 0 -2.8 0M586 261.51a1.4 1.4 0 1 0 2.8 0a1.4 1.4 0 1 0 -2.8 0M588.1 262.97a1.4 1.4 0 1 0 2.8 0a1.4 1.4 0 1 0 -2.8 0M590.2 262.8a1.4 1.4 0 1 0 2.8 0a1.4 1.4 0 1 0 -2.8 0M592.3 263.34a1.4 1.4 0 1 0 2.8 0a1.4 1.4 0 1 0 -2.8 0M594.4 262.96a1.4 1.4 0 1 0 2.8 0a1.4 1.4 0 1 0 -2.8 0M596.5 263.12a1.4 1.4 0 1 0 2.8 0a1.4 1.4 0 1 0 -2.8 0M598.6 263.49a1.4 1.4 0 1 0 2.8 0a1.4 1.4 0 1 0 -2.8 0M600.7 263.22a1.4 1.4 0 1 0 2.8 0a1.4 1.4 0 1 0 -2.8 0M602.8 263.06a1.4 1.4 0 1 0 2.8 0a1.4 1.4 0 1 0 -2.8 0M604.9 262.84a1.4 1.4 0 1 0 2.8 0a1.4 1.4 0 1 0 -2.8 0M607 263.43a1.4 1.4 0 1 0 2.8 0a1.4 1.4 0 1 0 -2.8 0M609.1 262.5a1.4 1.4 0 1 0 2.8 0a1.4 1.4 0 1 0 -2.8 0M611.2 263.14a1.4 1.4 0 1 0 2.8 0a1.4 1.4 0 1 0 -2.8 0M613.3 263.34a1.4 1.4 0 1 0 2.8 0a1.4 1.4 0 1 0 -2.8 0M615.4 262.67a1.4 1.4 0 1 0 2.8 0a1.4 1.4 0 1 0 -2.8 0M617.5 262.63a1.4 1.4 0 1 0 2.8 0a1.4 1.4 0 1 0 -2.8 0M619.6 262.63a1.4 1.4 0 1 0 2.8 0a1.4 1.4 0 1 0 -2.8 0M621.7 262.98a1.4 1.4 0 1 0 2.8 0a1.4 1.4 0 1 0 -2.8 0M623.8 263.18a1.4 1.4 0 1 0 2.8 0a1.4 1.4 0 1 0 -2.8 0M625.9 263.26a1.4 1.4 0 1 0 2.8 0a1.4 1.4 0 1 0 -2.8 0M628 263.19a1.4 1.4 0 1 0 2.8 0a1.4 1.4 0 1 0 -2.8 0M630.1 262.28a1.4 1.4 0 1 0 2.8 0a1.4 1.4 0 1 0 -2.8 0M632.2 262.74a1.4 1.4 0 1 0 2.8 0a1.4 1.4 0 1 0 -2.8 0M634.3 262.11a1.4 1.4 0 1 0 2.8 0a1.4 1.4 0 1 0 -2.8 0M636.4 262.38a1.4 1.4 0 1 0 2.8 0a1.4 1.4 0 1 0 -2.8 0M638.5 262.9a1.4 1.4 0 1 0 2.8 0a1.4 1.4 0 1 0 -2.8 0M640.6 262.7a1.4 1.4 0 1 0 2.8 0a1.4 1.4 0 1 0 -2.8 0M642.7 262.29a1.4 1.4 0 1 0 2.8 0a1.4 1.4 0 1 0 -2.8 0M644.8 263.55a1.4 1.4 0 1 0 2.8 0a1.4 1.4 0 1 0 -2.8 0M646.9 263.28a1.4 1.4 0 1 0 2.8 0a1.4 1.4 0 1 0 -2.8 0M649 262.92a1.4 1.4 0 1 0 2.8 0a1.4 1.4 0 1 0 -2.8 0M651.1 262.27a1.4 1.4 0 1 0 2.8 0a1.4 1.4 0 1 0 -2.8 0M653.2 264.14a1.4 1.4 0 1 0 2.8 0a1.4 1.4 0 1 0 -2.8 0M655.3 262.62a1.4 1.4 0 1 0 2.8 0a1.4 1.4 0 1 0 -2.8 0M657.4 259.28a1.4 1.4 0 1 0 2.8 0a1.4 1.4 0 1 0 -2.8 0M659.5 256.02a1.4 1.4 0 1 0 2.8 0a1.4 1.4 0 1 0 -2.8 0" fill="#000000"/>
<path d="M424.3 266.45a1.4 1.4 0 1 0 2.8 0a1.4 1.4 0 1 0 -2.8 0M426.4 264.95a1.4 1.4 0 1 0 2.8 0a1.4 1.4 0 1 0 -2.8 0M428.5 264.95a1.4 1.4 0 1 0 2.8 0a1.4 1.4 0 1 0 -2.8 0M430.6 265.88a1.4 1.4 0 1 0 2.8 0a1.4 1.4 0 1 0 -2.8 0M432.7 265.39a1.4 1.4 0 1 0 2.8 0a1.4 1.4 0 1 0 -2.8 0M434.8 263.84a1.4 1.4 0 1 0 2.8 0a1.4 1.4 0 1 0 -2.8 0M436.9 264.29a1.4 1.4 0 1 0 2.8 0a1.4 1.4 0 1 0 -2.8 0M439 264.08a1.4 1.4 0 1 0 2.8 0a1.4 1.4 0 1 0 -2.8 0M441.1 263.65a1.4 1.4 0 1 0 2.8 0a1.4 1.4 0 1 0 -2.8 0M443.2 263.08a1.4 1.4 0 1 0 2.8 0a1.4 1.4 0 1 0 -2.8 0M445.3 264.56a1.4 1.4 0 1 0 2.8 0a1.4 1.4 0 1 0 -2.8 0M447.4 263.09a1.4 1.4 0 1 0 2.8 0a1.4 1.4 0 1 0 -2.8 0M449.5 263.7a1.4 1.4 0 1 0 2.8 0a1.4 1.4 0 1 0 -2.8 0M451.6 263.28a1.4 1.4 0 1 0 2.8 0a1.4 1.4 0 1 0 -2.8 0M453.7 262.67a1.4 1.4 0 1 0 2.8 0a1.4 1.4 0 1 0 -2.8 0M455.8 262.87a1.4 1.4 0 1 0 2.8 0a1.4 1.4 0 1 0 -2.8 0M457.9 262.98a1.4 1.4 0 1 0 2.8 0a1.4 1.4 0 1 0 -2.8 0M460 262.21a1.4 1.4 0 1 0 2.8 0a1.4 1.4 0 1 0 -2.8 0M462.1 263.26a1.4 1.4 0 1 0 2.8 0a1.4 1.4 0 1 0 -2.8 0M464.2 261.79a1.4 1.4 0 1 0 2.8 0a1.4 1.4 0 1 0 -2.8 0M466.3 262.69a1.4 1.4 0 1 0 2.8 0a1.4 1.4 0 1 0 -2.8 0M468.4 262.16a1.4 1.4 0 1 0 2.8 0a1.4 1.4 0 1 0 -2.8 0M470.5 261.97a1.4 1.4 0 1 0 2.8 0a1.4 1.4 0 1 0 -2.8 0M472.6 262.15a1.4 1.4 0 1 0 2.8 0a1.4 1.4 0 1 0 -2.8 0M474.7 261.12a1.4 1.4 0 1 0 2.8 0a1.4 1.4 0 1 0 -2.8 0M476.8 261.7a1.4 1.4 0 1 0 2.8 0a1.4 1.4 0 1 0 -2.8 0M478.9 261.69a1.4 1.4 0 1 0 2.8 0a1.4 1.4 0 1 0 -2.8 0M481 261.26a1.4 1.4 0 1 0 2.8 0a1.4 1.4 0 1 0 -2.8 0M483.1 260.96a1.4 1.4 0 1 0 2.8 0a1.4 1.4 0 1 0 -2.8 0M485.2 261.97a1.4 1.4 0 1 0 2.8 0a1.4 1.4 0 1 0 -2.8 0M487.3 262.33a1.4 1.4 0 1 0 2.8 0a1.4 1.4 0 1 0 -2.8 0M489.4 261.2a1.4 1.4 0 1 0 2.8 0a1.4 1.4 0 1 0 -2.8 0M491.5 260.65a1.4 1.4 0 1 0 2.8 0a1.4 1.4 0 1 0 -2.8 0M493.6 261.47a1.4 1.4 0 1 0 2.8 0a1.4 1.4 0 1 0 -2.8 0M495.7 260.58a1.4 1.4 0 1 0 2.8 0a1.4 1.4 0 1 0 -2.8 0M497.8 260.99a1.4 1.4 0 1 0 2.8 0a1.4 1.4 0 1 0 -2.8 0M499.9 261.55a1.4 1.4 0 1 0 2.8 0a1.4 1.4 0 1 0 -2.8 0M502 261.14a1.4 1.4 0 1 0 2.8 0a1.4 1.4 0 1 0 -2.8 0M504.1 261.41a1.4 1.4 0 1 0 2.8 0a1.4 1.4 0 1 0 -2.8 0M506.2 261.7a1.4 1.4 0 1 0 2.8 0a1.4 1.4 0 1 0 -2.8 0M508.3 262.14a1.4 1.4 0 1 0 2.8 0a1.4 1.4 0 1 0 -2.8 0M510.4 262.27a1.4 1.4 0 1 0 2.8 0a1.4 1.4 0 1 0 -2.8 0M512.5 260.72a1.4 1.4 0 1 0 2.8 0a1.4 1.4 0 1 0 -2.8 0M514.6 262.26a1.4 1.4 0 1 0 2.8 0a1.4 1.4 0 1 0 -2.8 0M516.7 261.28a1.4 1.4 0 1 0 2.8 0a1.4 1.4 0 1 0 -2.8 0M518.8 262.31a1.4 1.4 0 1 0 2.8 0a1.4 1.4 0 1 0 -2.8 0M520.9 261.62a1.4 1.4 0 1 0 2.8 0a1.4 1.4 0 1 0 -2.8 0M523 261.38a1.4 1.4 0 1 0 2.8 0a1.4 1.4 0 1 0 -2.8 0M525.1 262.84a1.4 1.4 0 1 0 2.8 0a1.4 1.4 0 1 0 -2.8 0M527.2 261.44a1.4 1.4 0 1 0 2.8 0a1.4 1.4 0 1 0 -2.8 0M529.3 261.65a1.4 1.4 0 1 0 2.8 0a1.4 1.4 0 1 0 -2.8 0M531.4 260.73a1.4 1.4 0 1 0 2.8 0a1.4 1.4 0 1 0 -2.8 0M533.5 262.38a1.4 1.4 0 1 0 2.8 0a1.4 1.4 0 1 0 -2.8 0M535.6 261.99a1.4 1.4 0 1 0 2.8 0a1.4 1.4 0 1 0 -2.8 0M537.7 260.47a1.4 1.4 0 1 0 2.8 0a1.4 1.4 0 1 0 -2.8 0M539.8 261.43a1.4 1.4 0 1 0 2.8 0a1.4 1.4 0 1 0 -2.8 0M541.9 260.99a1.4 1.4 0 1 0 2.8 0a1.4 1.4 0 1 0 -2.8 0M544 262.13a1.4 1.4 0 1 0 2.8 0a1.4 1.4 0 1 0 -2.8 0M546.1 262.37a1.4 1.4 0 1 0 2.8 0a1.4 1.4 0 1 0 -2.8 0M548.2 262.23a1.4 1.4 0 1 0 2.8 0a1.4 1.4 0 1 0 -2.8 0M550.3 262.39a1.4 1.4 0 1 0 2.8 0a1.4 1.4 0 1 0 -2.8 0M552.4 262.36a1.4 1.4 0 1 0 2.8 0a1.4 1.4 0 1 0 -2.8 0M554.5 262.32a1.4 1.4 0 1 0 2.8 0a1.4 1.4 0 1 0 -2.8 0M556.6 262.27a1.4 1.4 0 1 0 2.8 0a1.4 1.4 0 1 0 -2.8 0M558.7 262.65a1.4 1.4 0 1 0 2.8 0a1.4 1.4 0 1 0 -2.8 0M560.8 262.96a1.4 1.4 0 1 0 2.8 0a1.4 1.4 0 1 0 -2.8 0M562.9 262.56a1.4 1.4 0 1 0 2.8 0a1.4 1.4 0 1 0 -2.8 0M565 263.66a1.4 1.4 0 1 0 2.8 0a1.4 1.4 0 1 0 -2.8 0M567.1 262.09a1.4 1.4 0 1 0 2.8 0a1.4 1.4 0 1 0 -2.8 0M569.2 263.22a1.4 1.4 0 1 0 2.8 0a1.4 1.4 0 1 0 -2.8 0M571.3 262.46a1.4 1.4 0 1 0 2.8 0a1.4 1.4 0 1 0 -2.8 0M573.4 262.5a1.4 1.4 0 1 0 2.8 0a1.4 1.4 0 1 0 -2.8 0M575.5 262.09a1.4 1.4 0 1 0 2.8 0a1.4 1.4 0 1 0 -2.8 0M577.6 261.46a1.4 1.4 0 1 0 2.8 0a1.4 1.4 0 1 0 -2.8 0M579.7 262.1a1.4 1.4 0 1 0 2.8 0a1.4 1.4 0 1 0 -2.8 0M581.8 262.57a1.4 1.4 0 1 0 2.8 0a1.4 1.4 0 1 0 -2.8 0M583.9 262.5a1.4 1.4 0 1 0 2.8 0a1.4 1.4 0 1 0 -2.8 0M586 261.74a1.4 1.4 0 1 0 2.8 0a1.4 1.4 0 1 0 -2.8 0M588.1 263.01a1.4 1.4 0 1 0 2.8 0a1.4 1.4 0 1 0 -2.8 0M590.2 262.67a1.4 1.4 0 1 0 2.8 0a1.4 1.4 0 1 0 -2.8 0M592.3 263.35a1.4 1.4 0 1 0 2.8 0a1.4 1.4 0 1 0 -2.8 0M594.4 263a1.4 1.4 0 1 0 2.8 0a1.4 1.4 0 1 0 -2.8 0M596.5 263.1a1.4 1.4 0 1 0 2.8 0a1.4 1.4 0 1 0 -2.8 0M598.6 263.52a1.4 1.4 0 1 0 2.8 0a1.4 1.4 0 1 0 -2.8 0M600.7 263.05a1.4 1.4 0 1 0 2.8 0a1.4 1.4 0 1 0 -2.8 0M602.8 263.36a1.4 1.4 0 1 0 2.8 0a1.4 1.4 0 1 0 -2.8 0M604.9 262.91a1.4 1.4 0 1 0 2.8 0a1.4 1.4 0 1 0 -2.8 0M607 263.38a1.4 1.4 0 1 0 2.8 0a1.4 1.4 0 1 0 -2.8 0M609.1 262.81a1.4 1.4 0 1 0 2.8 0a1.4 1.4 0 1 0 -2.8 0M611.2 263.18a1.4 1.4 0 1 0 2.8 0a1.4 1.4 0 1 0 -2.8 0M613.3 263.22a1.4 1.4 0 1 0 2.8 0a1.4 1.4 0 1 0 -2.8 0M615.4 262.64a1.4 1.4 0 1 0 2.8 0a1.4 1.4 0 1 0 -2.8 0M617.5 262.38a1.4 1.4 0 1 0 2.8 0a1.4 1.4 0 1 0 -2.8 0M619.6 262.79a1.4 1.4 0 1 0 2.8 0a1.4 1.4 0 1 0 -2.8 0M621.7 262.86a1.4 1.4 0 1 0 2.8 0a1.4 1.4 0 1 0 -2.8 0M623.8 263.69a1.4 1.4 0 1 0 2.8 0a1.4 1.4 0 1 0 -2.8 0M625.9 263.08a1.4 1.4 0 1 0 2.8 0a1.4 1.4 0 1 0 -2.8 0M628 263.39a1.4 1.4 0 1 0 2.8 0a1.4 1.4 0 1 0 -2.8 0M630.1 262.67a1.4 1.4 0 1 0 2.8 0a1.4 1.4 0 1 0 -2.8 0M632.2 262.4a1.4 1.4 0 1 0 2.8 0a1.4 1.4 0 1 0 -2.8 0M634.3 262.33a1.4 1.4 0 1 0 2.8 0a1.4 1.4 0 1 0 -2.8 0M636.4 262.39a1.4 1.4 0 1 0 2.8 0a1.4 1.4 0 1 0 -2.8 0M638.5 262.69a1.4 1.4 0 1 0 2.8 0a1.4 1.4 0 1 0 -2.8 0M640.6 262.27a1.4 1.4 0 1 0 2.8 0a1.4 1.4 0 1 0 -2.8 0M642.7 262.23a1.4 1.4 0 1 0 2.8 0a1.4 1.4 0 1 0 -2.8 0M644.8 263.34a1.4 1.4 0 1 0 2.8 0a1.4 1.4 0 1 0 -2.8 0M646.9 263.14a1.4 1.4 0 1 0 2.8 0a1.4 1.4 0 1 0 -2.8 0M649 262.88a1.4 1.4 0 1 0 2.8 0a1.4 1.4 0 1 0 -2.8 0M651.1 262.53a1.4 1.4 0 1 0 2.8 0a1.4 1.4 0 1 0 -2.8 0M653.2 263.67a1.4 1.4 0 1 0 2.8 0a1.4 1.4 0 1 0 -2.8 0M655.3 262.85a1.4 1.4 0 1 0 2.8 0a1.4 1.4 0 1 0 -2.8 0M657.4 259.28a1.4 1.4 0 1 0 2.8 0a1.4 1.4 0 1 0 -2.8 0M659.5 256.04a1.4 1.4 0 1 0 2.8 0a1.4 1.4 0 1 0 -2.8 0" fill="#d20000"/>
<text x="614" y="258.3" font-size="9.1" text-anchor="start" fill="#000" stroke="#000" stroke-width="0.18">29.8</text>
<text x="635.5" y="258.3" font-size="9.1" text-anchor="start" fill="#e8202a" stroke="#e8202a" stroke-width="0.18">29.4</text>
<rect x="414.3" y="249.6" width="258" height="19.7" fill="none" stroke="#8a8a8a" stroke-width="0.9"/>
<rect x="672.3" y="249.6" width="13.7" height="19.7" fill="#d9d9d9" stroke="#333" stroke-width="0.9"/>
<text transform="translate(674.9 259.45) rotate(90)" font-size="10.6" text-anchor="middle" fill="#000" stroke="#000" stroke-width="0.25">120</text>
<line x1="412.1" y1="254.1" x2="414.3" y2="254.1" stroke="#333" stroke-width="0.8"/>
<text x="411.4" y="257.8" font-size="8.8" text-anchor="end" fill="#000" stroke="#000" stroke-width="0.2">100</text>
<line x1="412.1" y1="261.4" x2="414.3" y2="261.4" stroke="#333" stroke-width="0.8"/>
<text x="411.4" y="265.3" font-size="8.8" text-anchor="end" fill="#000" stroke="#000" stroke-width="0.2">1</text>
<line x1="461.4" y1="269.3" x2="461.4" y2="271.1" stroke="#333" stroke-width="0.8"/>
<text x="461.2" y="278.1" font-size="8.4" text-anchor="middle" fill="#000" stroke="#000" stroke-width="0.2">25</text>
<line x1="513.9" y1="269.3" x2="513.9" y2="271.1" stroke="#333" stroke-width="0.8"/>
<text x="514" y="278.1" font-size="8.4" text-anchor="middle" fill="#000" stroke="#000" stroke-width="0.2">50</text>
<line x1="566.4" y1="269.3" x2="566.4" y2="271.1" stroke="#333" stroke-width="0.8"/>
<text x="566.1" y="278.1" font-size="8.4" text-anchor="middle" fill="#000" stroke="#000" stroke-width="0.2">75</text>
<line x1="618.9" y1="269.3" x2="618.9" y2="271.1" stroke="#333" stroke-width="0.8"/>
<text x="617.5" y="278.1" font-size="8.4" text-anchor="middle" fill="#000" stroke="#000" stroke-width="0.2">100</text>
<line x1="671.4" y1="269.3" x2="671.4" y2="271.1" stroke="#333" stroke-width="0.8"/>
<text x="669.9" y="278.1" font-size="8.4" text-anchor="middle" fill="#000" stroke="#000" stroke-width="0.2">125</text>
<text x="551.5" y="291.6" font-size="10.2" text-anchor="middle" fill="#000" stroke="#000" stroke-width="0.2">Length (bp)</text>
<text transform="translate(388.7 144.0) rotate(-90)" font-size="10.35" text-anchor="middle" fill="#111">Percent of Library at Length</text>
<line x1="66" y1="326.1" x2="267.7" y2="326.1" stroke="#bdbdbd" stroke-width="0.7" stroke-dasharray="0.9 1.5"/>
<line x1="66" y1="355.15" x2="267.7" y2="355.15" stroke="#bdbdbd" stroke-width="0.7" stroke-dasharray="0.9 1.5"/>
<line x1="66" y1="384.2" x2="267.7" y2="384.2" stroke="#bdbdbd" stroke-width="0.7" stroke-dasharray="0.9 1.5"/>
<line x1="66" y1="413.25" x2="267.7" y2="413.25" stroke="#bdbdbd" stroke-width="0.7" stroke-dasharray="0.9 1.5"/>
<line x1="117.42" y1="319.8" x2="117.42" y2="448.3" stroke="#bdbdbd" stroke-width="0.7" stroke-dasharray="0.9 1.5"/>
<line x1="187.94" y1="319.8" x2="187.94" y2="448.3" stroke="#bdbdbd" stroke-width="0.7" stroke-dasharray="0.9 1.5"/>
<line x1="258.46" y1="319.8" x2="258.46" y2="448.3" stroke="#bdbdbd" stroke-width="0.7" stroke-dasharray="0.9 1.5"/>
<polyline points="75.11,419.93 78.63,414.7 82.16,412.67 85.69,434.17 89.21,422.26 92.74,422.84 96.26,434.17 99.79,408.6 103.32,410.34 106.84,408.31 110.37,402.5 113.89,402.21 117.42,405.99 120.95,395.53 124.47,400.18 128,390.88 131.52,408.6 135.05,416.45 138.58,400.76 142.1,395.53 145.63,398.14 149.15,400.18 152.68,396.98 156.21,389.43 159.73,394.37 163.26,390.88 166.78,394.95 170.31,398.14 173.84,390.59 177.36,383.33 180.89,395.53 184.41,404.83 187.94,386.81 191.47,394.37 194.99,391.75 198.52,399.89 202.04,389.72 205.57,401.05 209.1,393.21 212.62,383.33 216.15,382.17 219.67,380.71 223.2,384.78 226.73,385.94 230.25,389.14 233.78,380.42 237.3,375.78 240.83,398.14 244.36,396.4 247.88,399.89 251.41,389.43 254.93,363.57 258.46,330.24" fill="none" stroke="#000000" stroke-width="0.8" stroke-linejoin="round"/>
<polyline points="75.11,423.13 78.63,423.13 82.16,412.67 85.69,431.84 89.21,418.19 92.74,420.22 96.26,423.13 99.79,409.76 103.32,401.05 106.84,408.89 110.37,401.05 113.89,404.83 117.42,412.67 120.95,392.62 124.47,403.37 128,392.62 131.52,418.19 135.05,414.41 138.58,401.05 142.1,405.12 145.63,402.5 149.15,401.05 152.68,398.72 156.21,390.88 159.73,395.53 163.26,398.14 166.78,394.66 170.31,407.44 173.84,391.75 177.36,383.33 180.89,393.79 184.41,399.02 187.94,390.01 191.47,393.5 194.99,391.46 198.52,403.95 202.04,387.1 205.57,403.95 209.1,400.18 212.62,383.91 216.15,382.17 219.67,380.71 223.2,385.94 226.73,388.85 230.25,389.14 233.78,380.42 237.3,375.78 240.83,400.18 244.36,391.75 247.88,392.62 251.41,389.43 254.93,363.57 258.46,330.12" fill="none" stroke="#d20000" stroke-width="0.8" stroke-linejoin="round"/>
<path d="M73.31 419.93a1.8 1.8 0 1 0 3.6 0a1.8 1.8 0 1 0 -3.6 0M76.83 414.7a1.8 1.8 0 1 0 3.6 0a1.8 1.8 0 1 0 -3.6 0M80.36 412.67a1.8 1.8 0 1 0 3.6 0a1.8 1.8 0 1 0 -3.6 0M83.89 434.17a1.8 1.8 0 1 0 3.6 0a1.8 1.8 0 1 0 -3.6 0M87.41 422.26a1.8 1.8 0 1 0 3.6 0a1.8 1.8 0 1 0 -3.6 0M90.94 422.84a1.8 1.8 0 1 0 3.6 0a1.8 1.8 0 1 0 -3.6 0M94.46 434.17a1.8 1.8 0 1 0 3.6 0a1.8 1.8 0 1 0 -3.6 0M97.99 408.6a1.8 1.8 0 1 0 3.6 0a1.8 1.8 0 1 0 -3.6 0M101.52 410.34a1.8 1.8 0 1 0 3.6 0a1.8 1.8 0 1 0 -3.6 0M105.04 408.31a1.8 1.8 0 1 0 3.6 0a1.8 1.8 0 1 0 -3.6 0M108.57 402.5a1.8 1.8 0 1 0 3.6 0a1.8 1.8 0 1 0 -3.6 0M112.09 402.21a1.8 1.8 0 1 0 3.6 0a1.8 1.8 0 1 0 -3.6 0M115.62 405.99a1.8 1.8 0 1 0 3.6 0a1.8 1.8 0 1 0 -3.6 0M119.15 395.53a1.8 1.8 0 1 0 3.6 0a1.8 1.8 0 1 0 -3.6 0M122.67 400.18a1.8 1.8 0 1 0 3.6 0a1.8 1.8 0 1 0 -3.6 0M126.2 390.88a1.8 1.8 0 1 0 3.6 0a1.8 1.8 0 1 0 -3.6 0M129.72 408.6a1.8 1.8 0 1 0 3.6 0a1.8 1.8 0 1 0 -3.6 0M133.25 416.45a1.8 1.8 0 1 0 3.6 0a1.8 1.8 0 1 0 -3.6 0M136.78 400.76a1.8 1.8 0 1 0 3.6 0a1.8 1.8 0 1 0 -3.6 0M140.3 395.53a1.8 1.8 0 1 0 3.6 0a1.8 1.8 0 1 0 -3.6 0M143.83 398.14a1.8 1.8 0 1 0 3.6 0a1.8 1.8 0 1 0 -3.6 0M147.35 400.18a1.8 1.8 0 1 0 3.6 0a1.8 1.8 0 1 0 -3.6 0M150.88 396.98a1.8 1.8 0 1 0 3.6 0a1.8 1.8 0 1 0 -3.6 0M154.41 389.43a1.8 1.8 0 1 0 3.6 0a1.8 1.8 0 1 0 -3.6 0M157.93 394.37a1.8 1.8 0 1 0 3.6 0a1.8 1.8 0 1 0 -3.6 0M161.46 390.88a1.8 1.8 0 1 0 3.6 0a1.8 1.8 0 1 0 -3.6 0M164.98 394.95a1.8 1.8 0 1 0 3.6 0a1.8 1.8 0 1 0 -3.6 0M168.51 398.14a1.8 1.8 0 1 0 3.6 0a1.8 1.8 0 1 0 -3.6 0M172.04 390.59a1.8 1.8 0 1 0 3.6 0a1.8 1.8 0 1 0 -3.6 0M175.56 383.33a1.8 1.8 0 1 0 3.6 0a1.8 1.8 0 1 0 -3.6 0M179.09 395.53a1.8 1.8 0 1 0 3.6 0a1.8 1.8 0 1 0 -3.6 0M182.61 404.83a1.8 1.8 0 1 0 3.6 0a1.8 1.8 0 1 0 -3.6 0M186.14 386.81a1.8 1.8 0 1 0 3.6 0a1.8 1.8 0 1 0 -3.6 0M189.67 394.37a1.8 1.8 0 1 0 3.6 0a1.8 1.8 0 1 0 -3.6 0M193.19 391.75a1.8 1.8 0 1 0 3.6 0a1.8 1.8 0 1 0 -3.6 0M196.72 399.89a1.8 1.8 0 1 0 3.6 0a1.8 1.8 0 1 0 -3.6 0M200.24 389.72a1.8 1.8 0 1 0 3.6 0a1.8 1.8 0 1 0 -3.6 0M203.77 401.05a1.8 1.8 0 1 0 3.6 0a1.8 1.8 0 1 0 -3.6 0M207.3 393.21a1.8 1.8 0 1 0 3.6 0a1.8 1.8 0 1 0 -3.6 0M210.82 383.33a1.8 1.8 0 1 0 3.6 0a1.8 1.8 0 1 0 -3.6 0M214.35 382.17a1.8 1.8 0 1 0 3.6 0a1.8 1.8 0 1 0 -3.6 0M217.87 380.71a1.8 1.8 0 1 0 3.6 0a1.8 1.8 0 1 0 -3.6 0M221.4 384.78a1.8 1.8 0 1 0 3.6 0a1.8 1.8 0 1 0 -3.6 0M224.93 385.94a1.8 1.8 0 1 0 3.6 0a1.8 1.8 0 1 0 -3.6 0M228.45 389.14a1.8 1.8 0 1 0 3.6 0a1.8 1.8 0 1 0 -3.6 0M231.98 380.42a1.8 1.8 0 1 0 3.6 0a1.8 1.8 0 1 0 -3.6 0M235.5 375.78a1.8 1.8 0 1 0 3.6 0a1.8 1.8 0 1 0 -3.6 0M239.03 398.14a1.8 1.8 0 1 0 3.6 0a1.8 1.8 0 1 0 -3.6 0M242.56 396.4a1.8 1.8 0 1 0 3.6 0a1.8 1.8 0 1 0 -3.6 0M246.08 399.89a1.8 1.8 0 1 0 3.6 0a1.8 1.8 0 1 0 -3.6 0M249.61 389.43a1.8 1.8 0 1 0 3.6 0a1.8 1.8 0 1 0 -3.6 0M253.13 363.57a1.8 1.8 0 1 0 3.6 0a1.8 1.8 0 1 0 -3.6 0M256.66 330.24a1.8 1.8 0 1 0 3.6 0a1.8 1.8 0 1 0 -3.6 0" fill="#000000"/>
<path d="M73.31 423.13a1.8 1.8 0 1 0 3.6 0a1.8 1.8 0 1 0 -3.6 0M76.83 423.13a1.8 1.8 0 1 0 3.6 0a1.8 1.8 0 1 0 -3.6 0M80.36 412.67a1.8 1.8 0 1 0 3.6 0a1.8 1.8 0 1 0 -3.6 0M83.89 431.84a1.8 1.8 0 1 0 3.6 0a1.8 1.8 0 1 0 -3.6 0M87.41 418.19a1.8 1.8 0 1 0 3.6 0a1.8 1.8 0 1 0 -3.6 0M90.94 420.22a1.8 1.8 0 1 0 3.6 0a1.8 1.8 0 1 0 -3.6 0M94.46 423.13a1.8 1.8 0 1 0 3.6 0a1.8 1.8 0 1 0 -3.6 0M97.99 409.76a1.8 1.8 0 1 0 3.6 0a1.8 1.8 0 1 0 -3.6 0M101.52 401.05a1.8 1.8 0 1 0 3.6 0a1.8 1.8 0 1 0 -3.6 0M105.04 408.89a1.8 1.8 0 1 0 3.6 0a1.8 1.8 0 1 0 -3.6 0M108.57 401.05a1.8 1.8 0 1 0 3.6 0a1.8 1.8 0 1 0 -3.6 0M112.09 404.83a1.8 1.8 0 1 0 3.6 0a1.8 1.8 0 1 0 -3.6 0M115.62 412.67a1.8 1.8 0 1 0 3.6 0a1.8 1.8 0 1 0 -3.6 0M119.15 392.62a1.8 1.8 0 1 0 3.6 0a1.8 1.8 0 1 0 -3.6 0M122.67 403.37a1.8 1.8 0 1 0 3.6 0a1.8 1.8 0 1 0 -3.6 0M126.2 392.62a1.8 1.8 0 1 0 3.6 0a1.8 1.8 0 1 0 -3.6 0M129.72 418.19a1.8 1.8 0 1 0 3.6 0a1.8 1.8 0 1 0 -3.6 0M133.25 414.41a1.8 1.8 0 1 0 3.6 0a1.8 1.8 0 1 0 -3.6 0M136.78 401.05a1.8 1.8 0 1 0 3.6 0a1.8 1.8 0 1 0 -3.6 0M140.3 405.12a1.8 1.8 0 1 0 3.6 0a1.8 1.8 0 1 0 -3.6 0M143.83 402.5a1.8 1.8 0 1 0 3.6 0a1.8 1.8 0 1 0 -3.6 0M147.35 401.05a1.8 1.8 0 1 0 3.6 0a1.8 1.8 0 1 0 -3.6 0M150.88 398.72a1.8 1.8 0 1 0 3.6 0a1.8 1.8 0 1 0 -3.6 0M154.41 390.88a1.8 1.8 0 1 0 3.6 0a1.8 1.8 0 1 0 -3.6 0M157.93 395.53a1.8 1.8 0 1 0 3.6 0a1.8 1.8 0 1 0 -3.6 0M161.46 398.14a1.8 1.8 0 1 0 3.6 0a1.8 1.8 0 1 0 -3.6 0M164.98 394.66a1.8 1.8 0 1 0 3.6 0a1.8 1.8 0 1 0 -3.6 0M168.51 407.44a1.8 1.8 0 1 0 3.6 0a1.8 1.8 0 1 0 -3.6 0M172.04 391.75a1.8 1.8 0 1 0 3.6 0a1.8 1.8 0 1 0 -3.6 0M175.56 383.33a1.8 1.8 0 1 0 3.6 0a1.8 1.8 0 1 0 -3.6 0M179.09 393.79a1.8 1.8 0 1 0 3.6 0a1.8 1.8 0 1 0 -3.6 0M182.61 399.02a1.8 1.8 0 1 0 3.6 0a1.8 1.8 0 1 0 -3.6 0M186.14 390.01a1.8 1.8 0 1 0 3.6 0a1.8 1.8 0 1 0 -3.6 0M189.67 393.5a1.8 1.8 0 1 0 3.6 0a1.8 1.8 0 1 0 -3.6 0M193.19 391.46a1.8 1.8 0 1 0 3.6 0a1.8 1.8 0 1 0 -3.6 0M196.72 403.95a1.8 1.8 0 1 0 3.6 0a1.8 1.8 0 1 0 -3.6 0M200.24 387.1a1.8 1.8 0 1 0 3.6 0a1.8 1.8 0 1 0 -3.6 0M203.77 403.95a1.8 1.8 0 1 0 3.6 0a1.8 1.8 0 1 0 -3.6 0M207.3 400.18a1.8 1.8 0 1 0 3.6 0a1.8 1.8 0 1 0 -3.6 0M210.82 383.91a1.8 1.8 0 1 0 3.6 0a1.8 1.8 0 1 0 -3.6 0M214.35 382.17a1.8 1.8 0 1 0 3.6 0a1.8 1.8 0 1 0 -3.6 0M217.87 380.71a1.8 1.8 0 1 0 3.6 0a1.8 1.8 0 1 0 -3.6 0M221.4 385.94a1.8 1.8 0 1 0 3.6 0a1.8 1.8 0 1 0 -3.6 0M224.93 388.85a1.8 1.8 0 1 0 3.6 0a1.8 1.8 0 1 0 -3.6 0M228.45 389.14a1.8 1.8 0 1 0 3.6 0a1.8 1.8 0 1 0 -3.6 0M231.98 380.42a1.8 1.8 0 1 0 3.6 0a1.8 1.8 0 1 0 -3.6 0M235.5 375.78a1.8 1.8 0 1 0 3.6 0a1.8 1.8 0 1 0 -3.6 0M239.03 400.18a1.8 1.8 0 1 0 3.6 0a1.8 1.8 0 1 0 -3.6 0M242.56 391.75a1.8 1.8 0 1 0 3.6 0a1.8 1.8 0 1 0 -3.6 0M246.08 392.62a1.8 1.8 0 1 0 3.6 0a1.8 1.8 0 1 0 -3.6 0M249.61 389.43a1.8 1.8 0 1 0 3.6 0a1.8 1.8 0 1 0 -3.6 0M253.13 363.57a1.8 1.8 0 1 0 3.6 0a1.8 1.8 0 1 0 -3.6 0M256.66 330.12a1.8 1.8 0 1 0 3.6 0a1.8 1.8 0 1 0 -3.6 0" fill="#d20000"/>
<text x="256.1" y="333.1" font-size="8.1" text-anchor="end" fill="#e8202a" stroke="#e8202a" stroke-width="0.2">72.7%</text>
<text x="256.1" y="341.6" font-size="8.1" text-anchor="end" fill="#000" stroke="#000" stroke-width="0.2">72.0%</text>
<rect x="66" y="319.8" width="201.7" height="128.5" fill="none" stroke="#1a1a1a" stroke-width="1.5"/>
<rect x="66" y="307.9" width="201.7" height="11.9" fill="#d9d9d9" stroke="#1a1a1a" stroke-width="1.5"/>
<text x="164.6" y="317.9" font-size="10.7" text-anchor="middle" fill="#000" stroke="#000" stroke-width="0.2">Std.Desalting</text>
<text x="115.82" y="457.9" font-size="8.4" text-anchor="middle" fill="#000" stroke="#000" stroke-width="0.2">20</text>
<text x="186.34" y="457.9" font-size="8.4" text-anchor="middle" fill="#000" stroke="#000" stroke-width="0.2">40</text>
<text x="256.86" y="457.9" font-size="8.4" text-anchor="middle" fill="#000" stroke="#000" stroke-width="0.2">60</text>
<line x1="272.4" y1="326.6" x2="473.6" y2="326.6" stroke="#bdbdbd" stroke-width="0.7" stroke-dasharray="0.9 1.5"/>
<line x1="272.4" y1="355.65" x2="473.6" y2="355.65" stroke="#bdbdbd" stroke-width="0.7" stroke-dasharray="0.9 1.5"/>
<line x1="272.4" y1="384.7" x2="473.6" y2="384.7" stroke="#bdbdbd" stroke-width="0.7" stroke-dasharray="0.9 1.5"/>
<line x1="272.4" y1="413.75" x2="473.6" y2="413.75" stroke="#bdbdbd" stroke-width="0.7" stroke-dasharray="0.9 1.5"/>
<line x1="323.58" y1="320.3" x2="323.58" y2="448.8" stroke="#bdbdbd" stroke-width="0.7" stroke-dasharray="0.9 1.5"/>
<line x1="394.06" y1="320.3" x2="394.06" y2="448.8" stroke="#bdbdbd" stroke-width="0.7" stroke-dasharray="0.9 1.5"/>
<line x1="464.54" y1="320.3" x2="464.54" y2="448.8" stroke="#bdbdbd" stroke-width="0.7" stroke-dasharray="0.9 1.5"/>
<polyline points="288.34,424.5 291.86,432.92 295.39,432.92 302.44,427.4 305.96,424.5 309.48,424.5 316.53,409.97 320.06,408.52 323.58,424.5 327.1,409.97 330.63,419.27 334.15,410.26 337.68,432.92 341.2,424.5 344.72,415.78 348.25,409.97 351.77,412.88 355.3,419.27 358.82,409.97 362.34,402.71 365.87,405.62 369.39,409.97 372.92,398.93 376.44,409.97 379.96,410.26 383.49,402.42 387.01,424.21 390.54,413.17 394.06,423.92 397.58,415.2 401.11,410.26 404.63,406.49 408.16,409.1 411.68,432.63 415.2,432.63 418.73,418.69 422.25,418.69 425.78,400.68 429.3,399.81 432.82,409.1 436.35,423.05 439.87,401.55 443.4,398.35 446.92,395.74 450.44,392.54 453.97,394 457.49,377.44 461.02,360.01 464.54,328.61" fill="none" stroke="#000000" stroke-width="0.8" stroke-linejoin="round"/>
<polyline points="295.39,427.11 302.44,427.11 309.48,427.11 316.53,404.74 320.06,401.26 323.58,427.11 327.1,409.97 330.63,404.74 334.15,404.74 341.2,409.97 344.72,407.07 348.25,402.71 351.77,409.97 355.3,409.97 358.82,407.07 362.34,404.74 365.87,409.97 369.39,407.07 372.92,401.26 376.44,412.59 379.96,413.17 383.49,390.51 387.01,418.11 390.54,412.3 394.06,404.74 397.58,418.11 401.11,410.26 404.63,409.1 408.16,409.1 411.68,418.11 415.2,427.11 418.73,413.17 422.25,413.17 425.78,402.13 429.3,406.49 432.82,409.1 436.35,427.11 439.87,413.17 443.4,398.93 446.92,400.68 450.44,398.35 453.97,399.81 457.49,379.18 461.02,363.2 464.54,328.46" fill="none" stroke="#d20000" stroke-width="0.8" stroke-linejoin="round"/>
<path d="M286.54 424.5a1.8 1.8 0 1 0 3.6 0a1.8 1.8 0 1 0 -3.6 0M290.06 432.92a1.8 1.8 0 1 0 3.6 0a1.8 1.8 0 1 0 -3.6 0M293.59 432.92a1.8 1.8 0 1 0 3.6 0a1.8 1.8 0 1 0 -3.6 0M300.64 427.4a1.8 1.8 0 1 0 3.6 0a1.8 1.8 0 1 0 -3.6 0M304.16 424.5a1.8 1.8 0 1 0 3.6 0a1.8 1.8 0 1 0 -3.6 0M307.68 424.5a1.8 1.8 0 1 0 3.6 0a1.8 1.8 0 1 0 -3.6 0M314.73 409.97a1.8 1.8 0 1 0 3.6 0a1.8 1.8 0 1 0 -3.6 0M318.26 408.52a1.8 1.8 0 1 0 3.6 0a1.8 1.8 0 1 0 -3.6 0M321.78 424.5a1.8 1.8 0 1 0 3.6 0a1.8 1.8 0 1 0 -3.6 0M325.3 409.97a1.8 1.8 0 1 0 3.6 0a1.8 1.8 0 1 0 -3.6 0M328.83 419.27a1.8 1.8 0 1 0 3.6 0a1.8 1.8 0 1 0 -3.6 0M332.35 410.26a1.8 1.8 0 1 0 3.6 0a1.8 1.8 0 1 0 -3.6 0M335.88 432.92a1.8 1.8 0 1 0 3.6 0a1.8 1.8 0 1 0 -3.6 0M339.4 424.5a1.8 1.8 0 1 0 3.6 0a1.8 1.8 0 1 0 -3.6 0M342.92 415.78a1.8 1.8 0 1 0 3.6 0a1.8 1.8 0 1 0 -3.6 0M346.45 409.97a1.8 1.8 0 1 0 3.6 0a1.8 1.8 0 1 0 -3.6 0M349.97 412.88a1.8 1.8 0 1 0 3.6 0a1.8 1.8 0 1 0 -3.6 0M353.5 419.27a1.8 1.8 0 1 0 3.6 0a1.8 1.8 0 1 0 -3.6 0M357.02 409.97a1.8 1.8 0 1 0 3.6 0a1.8 1.8 0 1 0 -3.6 0M360.54 402.71a1.8 1.8 0 1 0 3.6 0a1.8 1.8 0 1 0 -3.6 0M364.07 405.62a1.8 1.8 0 1 0 3.6 0a1.8 1.8 0 1 0 -3.6 0M367.59 409.97a1.8 1.8 0 1 0 3.6 0a1.8 1.8 0 1 0 -3.6 0M371.12 398.93a1.8 1.8 0 1 0 3.6 0a1.8 1.8 0 1 0 -3.6 0M374.64 409.97a1.8 1.8 0 1 0 3.6 0a1.8 1.8 0 1 0 -3.6 0M378.16 410.26a1.8 1.8 0 1 0 3.6 0a1.8 1.8 0 1 0 -3.6 0M381.69 402.42a1.8 1.8 0 1 0 3.6 0a1.8 1.8 0 1 0 -3.6 0M385.21 424.21a1.8 1.8 0 1 0 3.6 0a1.8 1.8 0 1 0 -3.6 0M388.74 413.17a1.8 1.8 0 1 0 3.6 0a1.8 1.8 0 1 0 -3.6 0M392.26 423.92a1.8 1.8 0 1 0 3.6 0a1.8 1.8 0 1 0 -3.6 0M395.78 415.2a1.8 1.8 0 1 0 3.6 0a1.8 1.8 0 1 0 -3.6 0M399.31 410.26a1.8 1.8 0 1 0 3.6 0a1.8 1.8 0 1 0 -3.6 0M402.83 406.49a1.8 1.8 0 1 0 3.6 0a1.8 1.8 0 1 0 -3.6 0M406.36 409.1a1.8 1.8 0 1 0 3.6 0a1.8 1.8 0 1 0 -3.6 0M409.88 432.63a1.8 1.8 0 1 0 3.6 0a1.8 1.8 0 1 0 -3.6 0M413.4 432.63a1.8 1.8 0 1 0 3.6 0a1.8 1.8 0 1 0 -3.6 0M416.93 418.69a1.8 1.8 0 1 0 3.6 0a1.8 1.8 0 1 0 -3.6 0M420.45 418.69a1.8 1.8 0 1 0 3.6 0a1.8 1.8 0 1 0 -3.6 0M423.98 400.68a1.8 1.8 0 1 0 3.6 0a1.8 1.8 0 1 0 -3.6 0M427.5 399.81a1.8 1.8 0 1 0 3.6 0a1.8 1.8 0 1 0 -3.6 0M431.02 409.1a1.8 1.8 0 1 0 3.6 0a1.8 1.8 0 1 0 -3.6 0M434.55 423.05a1.8 1.8 0 1 0 3.6 0a1.8 1.8 0 1 0 -3.6 0M438.07 401.55a1.8 1.8 0 1 0 3.6 0a1.8 1.8 0 1 0 -3.6 0M441.6 398.35a1.8 1.8 0 1 0 3.6 0a1.8 1.8 0 1 0 -3.6 0M445.12 395.74a1.8 1.8 0 1 0 3.6 0a1.8 1.8 0 1 0 -3.6 0M448.64 392.54a1.8 1.8 0 1 0 3.6 0a1.8 1.8 0 1 0 -3.6 0M452.17 394a1.8 1.8 0 1 0 3.6 0a1.8 1.8 0 1 0 -3.6 0M455.69 377.44a1.8 1.8 0 1 0 3.6 0a1.8 1.8 0 1 0 -3.6 0M459.22 360.01a1.8 1.8 0 1 0 3.6 0a1.8 1.8 0 1 0 -3.6 0M462.74 328.61a1.8 1.8 0 1 0 3.6 0a1.8 1.8 0 1 0 -3.6 0" fill="#000000"/>
<path d="M293.59 427.11a1.8 1.8 0 1 0 3.6 0a1.8 1.8 0 1 0 -3.6 0M300.64 427.11a1.8 1.8 0 1 0 3.6 0a1.8 1.8 0 1 0 -3.6 0M307.68 427.11a1.8 1.8 0 1 0 3.6 0a1.8 1.8 0 1 0 -3.6 0M314.73 404.74a1.8 1.8 0 1 0 3.6 0a1.8 1.8 0 1 0 -3.6 0M318.26 401.26a1.8 1.8 0 1 0 3.6 0a1.8 1.8 0 1 0 -3.6 0M321.78 427.11a1.8 1.8 0 1 0 3.6 0a1.8 1.8 0 1 0 -3.6 0M325.3 409.97a1.8 1.8 0 1 0 3.6 0a1.8 1.8 0 1 0 -3.6 0M328.83 404.74a1.8 1.8 0 1 0 3.6 0a1.8 1.8 0 1 0 -3.6 0M332.35 404.74a1.8 1.8 0 1 0 3.6 0a1.8 1.8 0 1 0 -3.6 0M339.4 409.97a1.8 1.8 0 1 0 3.6 0a1.8 1.8 0 1 0 -3.6 0M342.92 407.07a1.8 1.8 0 1 0 3.6 0a1.8 1.8 0 1 0 -3.6 0M346.45 402.71a1.8 1.8 0 1 0 3.6 0a1.8 1.8 0 1 0 -3.6 0M349.97 409.97a1.8 1.8 0 1 0 3.6 0a1.8 1.8 0 1 0 -3.6 0M353.5 409.97a1.8 1.8 0 1 0 3.6 0a1.8 1.8 0 1 0 -3.6 0M357.02 407.07a1.8 1.8 0 1 0 3.6 0a1.8 1.8 0 1 0 -3.6 0M360.54 404.74a1.8 1.8 0 1 0 3.6 0a1.8 1.8 0 1 0 -3.6 0M364.07 409.97a1.8 1.8 0 1 0 3.6 0a1.8 1.8 0 1 0 -3.6 0M367.59 407.07a1.8 1.8 0 1 0 3.6 0a1.8 1.8 0 1 0 -3.6 0M371.12 401.26a1.8 1.8 0 1 0 3.6 0a1.8 1.8 0 1 0 -3.6 0M374.64 412.59a1.8 1.8 0 1 0 3.6 0a1.8 1.8 0 1 0 -3.6 0M378.16 413.17a1.8 1.8 0 1 0 3.6 0a1.8 1.8 0 1 0 -3.6 0M381.69 390.51a1.8 1.8 0 1 0 3.6 0a1.8 1.8 0 1 0 -3.6 0M385.21 418.11a1.8 1.8 0 1 0 3.6 0a1.8 1.8 0 1 0 -3.6 0M388.74 412.3a1.8 1.8 0 1 0 3.6 0a1.8 1.8 0 1 0 -3.6 0M392.26 404.74a1.8 1.8 0 1 0 3.6 0a1.8 1.8 0 1 0 -3.6 0M395.78 418.11a1.8 1.8 0 1 0 3.6 0a1.8 1.8 0 1 0 -3.6 0M399.31 410.26a1.8 1.8 0 1 0 3.6 0a1.8 1.8 0 1 0 -3.6 0M402.83 409.1a1.8 1.8 0 1 0 3.6 0a1.8 1.8 0 1 0 -3.6 0M406.36 409.1a1.8 1.8 0 1 0 3.6 0a1.8 1.8 0 1 0 -3.6 0M409.88 418.11a1.8 1.8 0 1 0 3.6 0a1.8 1.8 0 1 0 -3.6 0M413.4 427.11a1.8 1.8 0 1 0 3.6 0a1.8 1.8 0 1 0 -3.6 0M416.93 413.17a1.8 1.8 0 1 0 3.6 0a1.8 1.8 0 1 0 -3.6 0M420.45 413.17a1.8 1.8 0 1 0 3.6 0a1.8 1.8 0 1 0 -3.6 0M423.98 402.13a1.8 1.8 0 1 0 3.6 0a1.8 1.8 0 1 0 -3.6 0M427.5 406.49a1.8 1.8 0 1 0 3.6 0a1.8 1.8 0 1 0 -3.6 0M431.02 409.1a1.8 1.8 0 1 0 3.6 0a1.8 1.8 0 1 0 -3.6 0M434.55 427.11a1.8 1.8 0 1 0 3.6 0a1.8 1.8 0 1 0 -3.6 0M438.07 413.17a1.8 1.8 0 1 0 3.6 0a1.8 1.8 0 1 0 -3.6 0M441.6 398.93a1.8 1.8 0 1 0 3.6 0a1.8 1.8 0 1 0 -3.6 0M445.12 400.68a1.8 1.8 0 1 0 3.6 0a1.8 1.8 0 1 0 -3.6 0M448.64 398.35a1.8 1.8 0 1 0 3.6 0a1.8 1.8 0 1 0 -3.6 0M452.17 399.81a1.8 1.8 0 1 0 3.6 0a1.8 1.8 0 1 0 -3.6 0M455.69 379.18a1.8 1.8 0 1 0 3.6 0a1.8 1.8 0 1 0 -3.6 0M459.22 363.2a1.8 1.8 0 1 0 3.6 0a1.8 1.8 0 1 0 -3.6 0M462.74 328.46a1.8 1.8 0 1 0 3.6 0a1.8 1.8 0 1 0 -3.6 0" fill="#d20000"/>
<text x="461.2" y="333.4" font-size="8.1" text-anchor="end" fill="#e8202a" stroke="#e8202a" stroke-width="0.2">86.3%</text>
<text x="461.2" y="341" font-size="8.1" text-anchor="end" fill="#000" stroke="#000" stroke-width="0.2">85.3%</text>
<rect x="272.4" y="320.3" width="201.2" height="128.5" fill="none" stroke="#1a1a1a" stroke-width="1.5"/>
<rect x="272.4" y="308.4" width="201.2" height="11.9" fill="#d9d9d9" stroke="#1a1a1a" stroke-width="1.5"/>
<text x="370.6" y="318.9" font-size="10.7" text-anchor="middle" fill="#000" stroke="#000" stroke-width="0.2">HPLC</text>
<text x="324.08" y="458.7" font-size="8.4" text-anchor="middle" fill="#000" stroke="#000" stroke-width="0.2">20</text>
<text x="394.56" y="458.7" font-size="8.4" text-anchor="middle" fill="#000" stroke="#000" stroke-width="0.2">40</text>
<text x="465.04" y="458.7" font-size="8.4" text-anchor="middle" fill="#000" stroke="#000" stroke-width="0.2">60</text>
<line x1="479" y1="326.6" x2="680.4" y2="326.6" stroke="#bdbdbd" stroke-width="0.7" stroke-dasharray="0.9 1.5"/>
<line x1="479" y1="355.65" x2="680.4" y2="355.65" stroke="#bdbdbd" stroke-width="0.7" stroke-dasharray="0.9 1.5"/>
<line x1="479" y1="384.7" x2="680.4" y2="384.7" stroke="#bdbdbd" stroke-width="0.7" stroke-dasharray="0.9 1.5"/>
<line x1="479" y1="413.75" x2="680.4" y2="413.75" stroke="#bdbdbd" stroke-width="0.7" stroke-dasharray="0.9 1.5"/>
<line x1="530" y1="320.3" x2="530" y2="448.8" stroke="#bdbdbd" stroke-width="0.7" stroke-dasharray="0.9 1.5"/>
<line x1="600.65" y1="320.3" x2="600.65" y2="448.8" stroke="#bdbdbd" stroke-width="0.7" stroke-dasharray="0.9 1.5"/>
<line x1="671.3" y1="320.3" x2="671.3" y2="448.8" stroke="#bdbdbd" stroke-width="0.7" stroke-dasharray="0.9 1.5"/>
<polyline points="494.68,431.18 505.27,431.18 508.81,431.18 512.34,431.18 522.94,431.18 526.47,403.58 530,431.18 533.53,399.22 537.07,422.46 540.6,397.48 551.2,411.43 554.73,417.24 558.26,411.14 561.79,413.75 565.33,422.46 568.86,401.26 572.39,413.75 575.92,413.75 579.46,406.49 582.99,413.75 586.52,431.18 590.05,390.51 597.12,431.18 600.65,417.24 604.18,422.76 607.72,422.76 611.25,431.18 614.78,403.29 618.31,431.18 621.85,431.18 628.91,431.18 632.44,395.45 635.98,411.14 639.51,413.17 643.04,422.46 646.57,431.18 650.11,407.94 653.64,422.46 657.17,407.94 660.7,401.55 664.24,377.73 667.77,364.95 671.3,328.14" fill="none" stroke="#000000" stroke-width="0.8" stroke-linejoin="round"/>
<polyline points="494.68,429.44 512.34,420.72 519.4,420.72 522.94,420.72 526.47,405.33 530,429.44 533.53,396.32 537.07,412.3 540.6,400.68 544.13,420.72 547.66,429.44 551.2,412.3 554.73,409.1 558.26,407.07 561.79,407.07 565.33,412.3 568.86,397.48 572.39,406.78 575.92,412.01 579.46,401.84 586.52,421.01 590.05,398.06 593.59,421.01 597.12,421.01 600.65,421.01 607.72,415.78 611.25,430.02 614.78,421.01 618.31,430.02 628.91,415.78 632.44,403.29 635.98,430.02 639.51,415.49 643.04,429.44 646.57,414.91 650.11,408.81 653.64,429.44 657.17,411.43 660.7,393.12 664.24,377.73 667.77,362.33 671.3,328.33" fill="none" stroke="#d20000" stroke-width="0.8" stroke-linejoin="round"/>
<path d="M492.88 431.18a1.8 1.8 0 1 0 3.6 0a1.8 1.8 0 1 0 -3.6 0M503.47 431.18a1.8 1.8 0 1 0 3.6 0a1.8 1.8 0 1 0 -3.6 0M507 431.18a1.8 1.8 0 1 0 3.6 0a1.8 1.8 0 1 0 -3.6 0M510.54 431.18a1.8 1.8 0 1 0 3.6 0a1.8 1.8 0 1 0 -3.6 0M521.14 431.18a1.8 1.8 0 1 0 3.6 0a1.8 1.8 0 1 0 -3.6 0M524.67 403.58a1.8 1.8 0 1 0 3.6 0a1.8 1.8 0 1 0 -3.6 0M528.2 431.18a1.8 1.8 0 1 0 3.6 0a1.8 1.8 0 1 0 -3.6 0M531.73 399.22a1.8 1.8 0 1 0 3.6 0a1.8 1.8 0 1 0 -3.6 0M535.27 422.46a1.8 1.8 0 1 0 3.6 0a1.8 1.8 0 1 0 -3.6 0M538.8 397.48a1.8 1.8 0 1 0 3.6 0a1.8 1.8 0 1 0 -3.6 0M549.4 411.43a1.8 1.8 0 1 0 3.6 0a1.8 1.8 0 1 0 -3.6 0M552.93 417.24a1.8 1.8 0 1 0 3.6 0a1.8 1.8 0 1 0 -3.6 0M556.46 411.14a1.8 1.8 0 1 0 3.6 0a1.8 1.8 0 1 0 -3.6 0M559.99 413.75a1.8 1.8 0 1 0 3.6 0a1.8 1.8 0 1 0 -3.6 0M563.53 422.46a1.8 1.8 0 1 0 3.6 0a1.8 1.8 0 1 0 -3.6 0M567.06 401.26a1.8 1.8 0 1 0 3.6 0a1.8 1.8 0 1 0 -3.6 0M570.59 413.75a1.8 1.8 0 1 0 3.6 0a1.8 1.8 0 1 0 -3.6 0M574.12 413.75a1.8 1.8 0 1 0 3.6 0a1.8 1.8 0 1 0 -3.6 0M577.66 406.49a1.8 1.8 0 1 0 3.6 0a1.8 1.8 0 1 0 -3.6 0M581.19 413.75a1.8 1.8 0 1 0 3.6 0a1.8 1.8 0 1 0 -3.6 0M584.72 431.18a1.8 1.8 0 1 0 3.6 0a1.8 1.8 0 1 0 -3.6 0M588.25 390.51a1.8 1.8 0 1 0 3.6 0a1.8 1.8 0 1 0 -3.6 0M595.32 431.18a1.8 1.8 0 1 0 3.6 0a1.8 1.8 0 1 0 -3.6 0M598.85 417.24a1.8 1.8 0 1 0 3.6 0a1.8 1.8 0 1 0 -3.6 0M602.38 422.76a1.8 1.8 0 1 0 3.6 0a1.8 1.8 0 1 0 -3.6 0M605.92 422.76a1.8 1.8 0 1 0 3.6 0a1.8 1.8 0 1 0 -3.6 0M609.45 431.18a1.8 1.8 0 1 0 3.6 0a1.8 1.8 0 1 0 -3.6 0M612.98 403.29a1.8 1.8 0 1 0 3.6 0a1.8 1.8 0 1 0 -3.6 0M616.51 431.18a1.8 1.8 0 1 0 3.6 0a1.8 1.8 0 1 0 -3.6 0M620.05 431.18a1.8 1.8 0 1 0 3.6 0a1.8 1.8 0 1 0 -3.6 0M627.11 431.18a1.8 1.8 0 1 0 3.6 0a1.8 1.8 0 1 0 -3.6 0M630.64 395.45a1.8 1.8 0 1 0 3.6 0a1.8 1.8 0 1 0 -3.6 0M634.18 411.14a1.8 1.8 0 1 0 3.6 0a1.8 1.8 0 1 0 -3.6 0M637.71 413.17a1.8 1.8 0 1 0 3.6 0a1.8 1.8 0 1 0 -3.6 0M641.24 422.46a1.8 1.8 0 1 0 3.6 0a1.8 1.8 0 1 0 -3.6 0M644.77 431.18a1.8 1.8 0 1 0 3.6 0a1.8 1.8 0 1 0 -3.6 0M648.31 407.94a1.8 1.8 0 1 0 3.6 0a1.8 1.8 0 1 0 -3.6 0M651.84 422.46a1.8 1.8 0 1 0 3.6 0a1.8 1.8 0 1 0 -3.6 0M655.37 407.94a1.8 1.8 0 1 0 3.6 0a1.8 1.8 0 1 0 -3.6 0M658.9 401.55a1.8 1.8 0 1 0 3.6 0a1.8 1.8 0 1 0 -3.6 0M662.44 377.73a1.8 1.8 0 1 0 3.6 0a1.8 1.8 0 1 0 -3.6 0M665.97 364.95a1.8 1.8 0 1 0 3.6 0a1.8 1.8 0 1 0 -3.6 0M669.5 328.14a1.8 1.8 0 1 0 3.6 0a1.8 1.8 0 1 0 -3.6 0" fill="#000000"/>
<path d="M492.88 429.44a1.8 1.8 0 1 0 3.6 0a1.8 1.8 0 1 0 -3.6 0M510.54 420.72a1.8 1.8 0 1 0 3.6 0a1.8 1.8 0 1 0 -3.6 0M517.6 420.72a1.8 1.8 0 1 0 3.6 0a1.8 1.8 0 1 0 -3.6 0M521.14 420.72a1.8 1.8 0 1 0 3.6 0a1.8 1.8 0 1 0 -3.6 0M524.67 405.33a1.8 1.8 0 1 0 3.6 0a1.8 1.8 0 1 0 -3.6 0M528.2 429.44a1.8 1.8 0 1 0 3.6 0a1.8 1.8 0 1 0 -3.6 0M531.73 396.32a1.8 1.8 0 1 0 3.6 0a1.8 1.8 0 1 0 -3.6 0M535.27 412.3a1.8 1.8 0 1 0 3.6 0a1.8 1.8 0 1 0 -3.6 0M538.8 400.68a1.8 1.8 0 1 0 3.6 0a1.8 1.8 0 1 0 -3.6 0M542.33 420.72a1.8 1.8 0 1 0 3.6 0a1.8 1.8 0 1 0 -3.6 0M545.86 429.44a1.8 1.8 0 1 0 3.6 0a1.8 1.8 0 1 0 -3.6 0M549.4 412.3a1.8 1.8 0 1 0 3.6 0a1.8 1.8 0 1 0 -3.6 0M552.93 409.1a1.8 1.8 0 1 0 3.6 0a1.8 1.8 0 1 0 -3.6 0M556.46 407.07a1.8 1.8 0 1 0 3.6 0a1.8 1.8 0 1 0 -3.6 0M559.99 407.07a1.8 1.8 0 1 0 3.6 0a1.8 1.8 0 1 0 -3.6 0M563.53 412.3a1.8 1.8 0 1 0 3.6 0a1.8 1.8 0 1 0 -3.6 0M567.06 397.48a1.8 1.8 0 1 0 3.6 0a1.8 1.8 0 1 0 -3.6 0M570.59 406.78a1.8 1.8 0 1 0 3.6 0a1.8 1.8 0 1 0 -3.6 0M574.12 412.01a1.8 1.8 0 1 0 3.6 0a1.8 1.8 0 1 0 -3.6 0M577.66 401.84a1.8 1.8 0 1 0 3.6 0a1.8 1.8 0 1 0 -3.6 0M584.72 421.01a1.8 1.8 0 1 0 3.6 0a1.8 1.8 0 1 0 -3.6 0M588.25 398.06a1.8 1.8 0 1 0 3.6 0a1.8 1.8 0 1 0 -3.6 0M591.79 421.01a1.8 1.8 0 1 0 3.6 0a1.8 1.8 0 1 0 -3.6 0M595.32 421.01a1.8 1.8 0 1 0 3.6 0a1.8 1.8 0 1 0 -3.6 0M598.85 421.01a1.8 1.8 0 1 0 3.6 0a1.8 1.8 0 1 0 -3.6 0M605.92 415.78a1.8 1.8 0 1 0 3.6 0a1.8 1.8 0 1 0 -3.6 0M609.45 430.02a1.8 1.8 0 1 0 3.6 0a1.8 1.8 0 1 0 -3.6 0M612.98 421.01a1.8 1.8 0 1 0 3.6 0a1.8 1.8 0 1 0 -3.6 0M616.51 430.02a1.8 1.8 0 1 0 3.6 0a1.8 1.8 0 1 0 -3.6 0M627.11 415.78a1.8 1.8 0 1 0 3.6 0a1.8 1.8 0 1 0 -3.6 0M630.64 403.29a1.8 1.8 0 1 0 3.6 0a1.8 1.8 0 1 0 -3.6 0M634.18 430.02a1.8 1.8 0 1 0 3.6 0a1.8 1.8 0 1 0 -3.6 0M637.71 415.49a1.8 1.8 0 1 0 3.6 0a1.8 1.8 0 1 0 -3.6 0M641.24 429.44a1.8 1.8 0 1 0 3.6 0a1.8 1.8 0 1 0 -3.6 0M644.77 414.91a1.8 1.8 0 1 0 3.6 0a1.8 1.8 0 1 0 -3.6 0M648.31 408.81a1.8 1.8 0 1 0 3.6 0a1.8 1.8 0 1 0 -3.6 0M651.84 429.44a1.8 1.8 0 1 0 3.6 0a1.8 1.8 0 1 0 -3.6 0M655.37 411.43a1.8 1.8 0 1 0 3.6 0a1.8 1.8 0 1 0 -3.6 0M658.9 393.12a1.8 1.8 0 1 0 3.6 0a1.8 1.8 0 1 0 -3.6 0M662.44 377.73a1.8 1.8 0 1 0 3.6 0a1.8 1.8 0 1 0 -3.6 0M665.97 362.33a1.8 1.8 0 1 0 3.6 0a1.8 1.8 0 1 0 -3.6 0M669.5 328.33a1.8 1.8 0 1 0 3.6 0a1.8 1.8 0 1 0 -3.6 0" fill="#d20000"/>
<text x="669.5" y="333.4" font-size="8.1" text-anchor="end" fill="#e8202a" stroke="#e8202a" stroke-width="0.2">87.2%</text>
<text x="669.5" y="340.7" font-size="8.1" text-anchor="end" fill="#000" stroke="#000" stroke-width="0.2">88.5%</text>
<rect x="479" y="320.3" width="201.4" height="128.5" fill="none" stroke="#1a1a1a" stroke-width="1.5"/>
<rect x="479" y="308.4" width="201.4" height="11.9" fill="#d9d9d9" stroke="#1a1a1a" stroke-width="1.5"/>
<text x="578" y="318.9" font-size="10.7" text-anchor="middle" fill="#000" stroke="#000" stroke-width="0.2">PAGE</text>
<text x="529.5" y="459.6" font-size="8.4" text-anchor="middle" fill="#000" stroke="#000" stroke-width="0.2">20</text>
<text x="600.15" y="459.6" font-size="8.4" text-anchor="middle" fill="#000" stroke="#000" stroke-width="0.2">40</text>
<text x="670.8" y="459.6" font-size="8.4" text-anchor="middle" fill="#000" stroke="#000" stroke-width="0.2">60</text>
<text x="63.1" y="330" font-size="8.3" text-anchor="end" fill="#000" stroke="#000" stroke-width="0.2">100</text>
<text x="63.1" y="359.05" font-size="8.3" text-anchor="end" fill="#000" stroke="#000" stroke-width="0.2">10</text>
<text x="63.1" y="388.1" font-size="8.3" text-anchor="end" fill="#000" stroke="#000" stroke-width="0.2">1</text>
<text x="63.1" y="417.15" font-size="8.3" text-anchor="end" fill="#000" stroke="#000" stroke-width="0.2">0.1</text>
<text x="360.5" y="476.2" font-size="10.2" text-anchor="middle" fill="#000" stroke="#000" stroke-width="0.2">Length (bp)</text>
<text transform="translate(41.0 372.3) rotate(-90)" font-size="10.35" text-anchor="middle" fill="#111">Percent of Library at Length</text>
<text x="-1.7" y="22.4" font-size="31.5" text-anchor="start" fill="#000" stroke="#000" stroke-width="0.7">a</text>
<text x="360.4" y="22.4" font-size="31.5" text-anchor="start" fill="#000" stroke="#000" stroke-width="0.5">b</text>
<text x="-1.6" y="321.8" font-size="31.5" text-anchor="start" fill="#000" stroke="#000" stroke-width="0.8">c</text>
</svg></body></html>
